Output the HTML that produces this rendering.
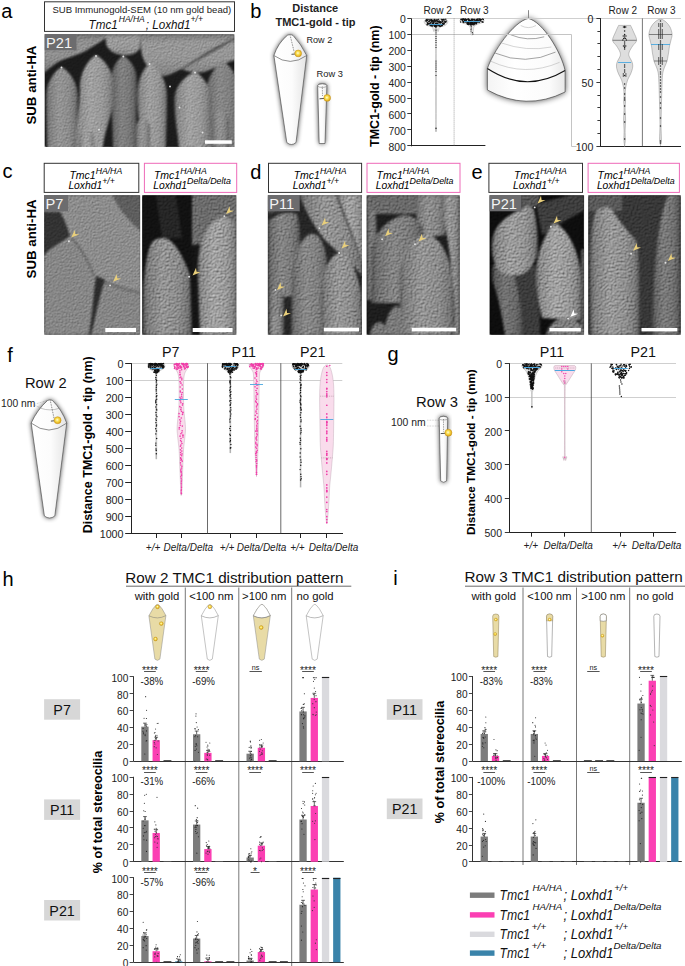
<!DOCTYPE html>
<html><head><meta charset="utf-8"><title>Figure</title>
<style>html,body{margin:0;padding:0;background:#fff;} body{width:685px;height:966px;overflow:hidden;font-family:"Liberation Sans", sans-serif;} svg{display:block;}</style>
</head><body>
<svg width="685" height="966" viewBox="0 0 685 966" font-family='"Liberation Sans", sans-serif'><defs>
<radialGradient id="goldg" cx="0.45" cy="0.45" r="0.6">
  <stop offset="0" stop-color="#fffbe0"/><stop offset="0.35" stop-color="#fbe35a"/><stop offset="0.8" stop-color="#e6b21e"/><stop offset="1" stop-color="#c98f12"/>
</radialGradient>
<filter id="shadow" x="-50%" y="-50%" width="200%" height="200%"><feGaussianBlur stdDeviation="2.8"/></filter>
<linearGradient id="conegrad" x1="0" y1="0" x2="1" y2="0"><stop offset="0" stop-color="#ffffff"/><stop offset="0.55" stop-color="#fcfcfc"/><stop offset="1" stop-color="#e4e4e4"/></linearGradient>
<linearGradient id="conegrad2" x1="0" y1="0" x2="1" y2="0"><stop offset="0" stop-color="#f4f4f4"/><stop offset="0.35" stop-color="#ffffff"/><stop offset="0.8" stop-color="#fbfbfb"/><stop offset="1" stop-color="#e8e8e8"/></linearGradient>
<filter id="shadow2" x="-50%" y="-50%" width="200%" height="200%"><feGaussianBlur stdDeviation="3.0"/></filter>
<filter id="soft" x="-10%" y="-10%" width="120%" height="120%"><feGaussianBlur stdDeviation="1.3"/></filter>
<filter id="noise" x="0" y="0" width="100%" height="100%"><feTurbulence type="fractalNoise" baseFrequency="0.9" numOctaves="2" seed="4"/><feColorMatrix type="matrix" values="0.33 0.33 0.33 0 0  0.33 0.33 0.33 0 0  0.33 0.33 0.33 0 0  0 0 0 0 1"/></filter>
<linearGradient id="sg0" x1="0" y1="0" x2="0" y2="1"><stop offset="0" stop-color="#737373"/><stop offset="0.2" stop-color="#929292"/><stop offset="0.6" stop-color="#909090"/><stop offset="1" stop-color="#7a7a7a"/></linearGradient><linearGradient id="sg1" x1="0" y1="0" x2="0" y2="1"><stop offset="0" stop-color="#7d7d7d"/><stop offset="0.2" stop-color="#9c9c9c"/><stop offset="0.6" stop-color="#9a9a9a"/><stop offset="1" stop-color="#848484"/></linearGradient><linearGradient id="sg2" x1="0" y1="0" x2="0" y2="1"><stop offset="0" stop-color="#797979"/><stop offset="0.2" stop-color="#989898"/><stop offset="0.6" stop-color="#969696"/><stop offset="1" stop-color="#808080"/></linearGradient><linearGradient id="sg3" x1="0" y1="0" x2="1" y2="0"><stop offset="0" stop-color="#4d4d4d"/><stop offset="0.1" stop-color="#717171"/><stop offset="0.4" stop-color="#898989"/><stop offset="0.72" stop-color="#7f7f7f"/><stop offset="0.9" stop-color="#6b6b6b"/><stop offset="1" stop-color="#4b4b4b"/></linearGradient><linearGradient id="sg4" x1="0" y1="0" x2="1" y2="0"><stop offset="0" stop-color="#464646"/><stop offset="0.1" stop-color="#6a6a6a"/><stop offset="0.4" stop-color="#828282"/><stop offset="0.72" stop-color="#787878"/><stop offset="0.9" stop-color="#646464"/><stop offset="1" stop-color="#444444"/></linearGradient><linearGradient id="sg5" x1="0" y1="0" x2="1" y2="0"><stop offset="0" stop-color="#5a5a5a"/><stop offset="0.1" stop-color="#7e7e7e"/><stop offset="0.4" stop-color="#969696"/><stop offset="0.72" stop-color="#8c8c8c"/><stop offset="0.9" stop-color="#787878"/><stop offset="1" stop-color="#585858"/></linearGradient><linearGradient id="sg6" x1="0" y1="0" x2="1" y2="0"><stop offset="0" stop-color="#666666"/><stop offset="0.1" stop-color="#8a8a8a"/><stop offset="0.4" stop-color="#a2a2a2"/><stop offset="0.72" stop-color="#989898"/><stop offset="0.9" stop-color="#848484"/><stop offset="1" stop-color="#646464"/></linearGradient><linearGradient id="sg7" x1="0" y1="0" x2="1" y2="0"><stop offset="0" stop-color="#646464"/><stop offset="0.1" stop-color="#888888"/><stop offset="0.4" stop-color="#a0a0a0"/><stop offset="0.72" stop-color="#969696"/><stop offset="0.9" stop-color="#828282"/><stop offset="1" stop-color="#626262"/></linearGradient><linearGradient id="sg8" x1="0" y1="0" x2="1" y2="0"><stop offset="0" stop-color="#575757"/><stop offset="0.1" stop-color="#7b7b7b"/><stop offset="0.4" stop-color="#939393"/><stop offset="0.72" stop-color="#898989"/><stop offset="0.9" stop-color="#757575"/><stop offset="1" stop-color="#555555"/></linearGradient><clipPath id="clip0"><rect x="44.5" y="34.0" width="190.0" height="113.0"/></clipPath><filter id="semfx0" x="44.5" y="34.0" width="190.0" height="113.0" filterUnits="userSpaceOnUse" color-interpolation-filters="sRGB"><feGaussianBlur in="SourceGraphic" stdDeviation="1.0" result="b"/><feTurbulence type="fractalNoise" baseFrequency="0.8" numOctaves="3" seed="3" result="n"/><feDiffuseLighting in="n" surfaceScale="0.55" diffuseConstant="1" lighting-color="#ffffff" result="lit"><feDistantLight azimuth="235" elevation="50"/></feDiffuseLighting><feComposite in="b" in2="lit" operator="arithmetic" k1="1.3" k2="0" k3="0" k4="0"/></filter><clipPath id="clip1"><rect x="44.0" y="195.0" width="96.2" height="140.0"/></clipPath><filter id="semfx1" x="44.0" y="195.0" width="96.2" height="140.0" filterUnits="userSpaceOnUse" color-interpolation-filters="sRGB"><feGaussianBlur in="SourceGraphic" stdDeviation="1.0" result="b"/><feTurbulence type="fractalNoise" baseFrequency="0.7" numOctaves="3" seed="5" result="n"/><feDiffuseLighting in="n" surfaceScale="0.6" diffuseConstant="1" lighting-color="#ffffff" result="lit"><feDistantLight azimuth="235" elevation="50"/></feDiffuseLighting><feComposite in="b" in2="lit" operator="arithmetic" k1="1.3" k2="0" k3="0" k4="0"/></filter><linearGradient id="sg9" x1="0" y1="0" x2="1" y2="0"><stop offset="0" stop-color="#686868"/><stop offset="0.1" stop-color="#8c8c8c"/><stop offset="0.4" stop-color="#a4a4a4"/><stop offset="0.72" stop-color="#9a9a9a"/><stop offset="0.9" stop-color="#868686"/><stop offset="1" stop-color="#666666"/></linearGradient><clipPath id="clip2"><rect x="142.0" y="195.0" width="94.5" height="140.0"/></clipPath><filter id="semfx2" x="142.0" y="195.0" width="94.5" height="140.0" filterUnits="userSpaceOnUse" color-interpolation-filters="sRGB"><feGaussianBlur in="SourceGraphic" stdDeviation="1.0" result="b"/><feTurbulence type="fractalNoise" baseFrequency="0.5" numOctaves="3" seed="7" result="n"/><feDiffuseLighting in="n" surfaceScale="0.8" diffuseConstant="1" lighting-color="#ffffff" result="lit"><feDistantLight azimuth="235" elevation="50"/></feDiffuseLighting><feComposite in="b" in2="lit" operator="arithmetic" k1="1.3" k2="0" k3="0" k4="0"/></filter><linearGradient id="sg10" x1="0" y1="0" x2="1" y2="0"><stop offset="0" stop-color="#4a4a4a"/><stop offset="0.1" stop-color="#6e6e6e"/><stop offset="0.4" stop-color="#868686"/><stop offset="0.72" stop-color="#7c7c7c"/><stop offset="0.9" stop-color="#686868"/><stop offset="1" stop-color="#484848"/></linearGradient><linearGradient id="sg11" x1="0" y1="0" x2="1" y2="0"><stop offset="0" stop-color="#4e4e4e"/><stop offset="0.1" stop-color="#727272"/><stop offset="0.4" stop-color="#8a8a8a"/><stop offset="0.72" stop-color="#808080"/><stop offset="0.9" stop-color="#6c6c6c"/><stop offset="1" stop-color="#4c4c4c"/></linearGradient><linearGradient id="sg12" x1="0" y1="0" x2="1" y2="0"><stop offset="0" stop-color="#5c5c5c"/><stop offset="0.1" stop-color="#808080"/><stop offset="0.4" stop-color="#989898"/><stop offset="0.72" stop-color="#8e8e8e"/><stop offset="0.9" stop-color="#7a7a7a"/><stop offset="1" stop-color="#5a5a5a"/></linearGradient><linearGradient id="sg13" x1="0" y1="0" x2="1" y2="0"><stop offset="0" stop-color="#4c4c4c"/><stop offset="0.1" stop-color="#707070"/><stop offset="0.4" stop-color="#888888"/><stop offset="0.72" stop-color="#7e7e7e"/><stop offset="0.9" stop-color="#6a6a6a"/><stop offset="1" stop-color="#4a4a4a"/></linearGradient><linearGradient id="sg14" x1="0" y1="0" x2="1" y2="0"><stop offset="0" stop-color="#565656"/><stop offset="0.1" stop-color="#7a7a7a"/><stop offset="0.4" stop-color="#929292"/><stop offset="0.72" stop-color="#888888"/><stop offset="0.9" stop-color="#747474"/><stop offset="1" stop-color="#545454"/></linearGradient><clipPath id="clip3"><rect x="267.7" y="195.0" width="94.3" height="140.0"/></clipPath><filter id="semfx3" x="267.7" y="195.0" width="94.3" height="140.0" filterUnits="userSpaceOnUse" color-interpolation-filters="sRGB"><feGaussianBlur in="SourceGraphic" stdDeviation="1.0" result="b"/><feTurbulence type="fractalNoise" baseFrequency="0.5" numOctaves="3" seed="9" result="n"/><feDiffuseLighting in="n" surfaceScale="0.8" diffuseConstant="1" lighting-color="#ffffff" result="lit"><feDistantLight azimuth="235" elevation="50"/></feDiffuseLighting><feComposite in="b" in2="lit" operator="arithmetic" k1="1.3" k2="0" k3="0" k4="0"/></filter><linearGradient id="sg15" x1="0" y1="0" x2="1" y2="0"><stop offset="0" stop-color="#404040"/><stop offset="0.1" stop-color="#646464"/><stop offset="0.4" stop-color="#7c7c7c"/><stop offset="0.72" stop-color="#727272"/><stop offset="0.9" stop-color="#5e5e5e"/><stop offset="1" stop-color="#3e3e3e"/></linearGradient><linearGradient id="sg16" x1="0" y1="0" x2="1" y2="0"><stop offset="0" stop-color="#545454"/><stop offset="0.1" stop-color="#787878"/><stop offset="0.4" stop-color="#909090"/><stop offset="0.72" stop-color="#868686"/><stop offset="0.9" stop-color="#727272"/><stop offset="1" stop-color="#525252"/></linearGradient><clipPath id="clip4"><rect x="366.4" y="195.0" width="93.6" height="140.0"/></clipPath><filter id="semfx4" x="366.4" y="195.0" width="93.6" height="140.0" filterUnits="userSpaceOnUse" color-interpolation-filters="sRGB"><feGaussianBlur in="SourceGraphic" stdDeviation="1.0" result="b"/><feTurbulence type="fractalNoise" baseFrequency="0.5" numOctaves="3" seed="11" result="n"/><feDiffuseLighting in="n" surfaceScale="0.8" diffuseConstant="1" lighting-color="#ffffff" result="lit"><feDistantLight azimuth="235" elevation="50"/></feDiffuseLighting><feComposite in="b" in2="lit" operator="arithmetic" k1="1.3" k2="0" k3="0" k4="0"/></filter><linearGradient id="sg17" x1="0" y1="0" x2="1" y2="0"><stop offset="0" stop-color="#383838"/><stop offset="0.1" stop-color="#5c5c5c"/><stop offset="0.4" stop-color="#747474"/><stop offset="0.72" stop-color="#6a6a6a"/><stop offset="0.9" stop-color="#565656"/><stop offset="1" stop-color="#363636"/></linearGradient><linearGradient id="sg18" x1="0" y1="0" x2="1" y2="0"><stop offset="0" stop-color="#626262"/><stop offset="0.1" stop-color="#868686"/><stop offset="0.4" stop-color="#9e9e9e"/><stop offset="0.72" stop-color="#949494"/><stop offset="0.9" stop-color="#808080"/><stop offset="1" stop-color="#606060"/></linearGradient><clipPath id="clip5"><rect x="489.4" y="195.0" width="94.7" height="140.0"/></clipPath><filter id="semfx5" x="489.4" y="195.0" width="94.7" height="140.0" filterUnits="userSpaceOnUse" color-interpolation-filters="sRGB"><feGaussianBlur in="SourceGraphic" stdDeviation="1.0" result="b"/><feTurbulence type="fractalNoise" baseFrequency="0.5" numOctaves="3" seed="13" result="n"/><feDiffuseLighting in="n" surfaceScale="0.8" diffuseConstant="1" lighting-color="#ffffff" result="lit"><feDistantLight azimuth="235" elevation="50"/></feDiffuseLighting><feComposite in="b" in2="lit" operator="arithmetic" k1="1.3" k2="0" k3="0" k4="0"/></filter><linearGradient id="sg19" x1="0" y1="0" x2="1" y2="0"><stop offset="0" stop-color="#5e5e5e"/><stop offset="0.1" stop-color="#828282"/><stop offset="0.4" stop-color="#9a9a9a"/><stop offset="0.72" stop-color="#909090"/><stop offset="0.9" stop-color="#7c7c7c"/><stop offset="1" stop-color="#5c5c5c"/></linearGradient><clipPath id="clip6"><rect x="588.1" y="195.0" width="92.9" height="140.0"/></clipPath><filter id="semfx6" x="588.1" y="195.0" width="92.9" height="140.0" filterUnits="userSpaceOnUse" color-interpolation-filters="sRGB"><feGaussianBlur in="SourceGraphic" stdDeviation="1.0" result="b"/><feTurbulence type="fractalNoise" baseFrequency="0.5" numOctaves="3" seed="15" result="n"/><feDiffuseLighting in="n" surfaceScale="0.8" diffuseConstant="1" lighting-color="#ffffff" result="lit"><feDistantLight azimuth="235" elevation="50"/></feDiffuseLighting><feComposite in="b" in2="lit" operator="arithmetic" k1="1.3" k2="0" k3="0" k4="0"/></filter></defs><rect x="0" y="0" width="685" height="966" fill="#fff"/><g clip-path="url(#clip0)">
<g filter="url(#semfx0)">
<rect x="44.5" y="34.0" width="190.0" height="113.0" fill="#1c1c1c"/>
<path d="M44,34 L109,34 L108.5,36.8 C104,40 96,44 86,50.8 C78,55 66,58 58,62 C52,66 47,70 44,73 Z" fill="url(#sg0)"/>
<path d="M106,34 L141,34 L140,48 C136,55 128,56 122,55 C114,54 108,50 106,44 Z" fill="url(#sg1)"/>
<path d="M141,34 L235,34 L235,60 C228,62 218,66 207,71 C198,74 188,72 181,69 C175,72 170,75 164,76 C156,74 150,70 146,64 C142,58 141,52 141,46 Z" fill="url(#sg2)"/>
<path d="M181,69 C192,62 205,52 222,44 C228,41 232,39 235,38 L235,40 C230,42 225,45 222,47 C207,55 193,63 182,70 Z" fill="#505050"/>
<path d="M223.0,61.0 C215.9,65.1 206.0,78.0 206.0,95.0 C206.0,119.8 208.0,133.5 208.0,150.0 L236.0,150.0 C236.0,133.5 240.0,119.8 240.0,95.0 C240.0,78.0 230.1,65.1 223.0,61.0 Z" fill="url(#sg3)"/>
<path d="M123.2,55.7 C118.1,58.6 111.0,67.8 111.0,80.0 C111.0,111.5 113.0,129.0 113.0,150.0 L136.0,150.0 C136.0,129.0 137.0,111.5 137.0,80.0 C137.0,67.8 129.0,58.6 123.2,55.7 Z" fill="url(#sg4)"/>
<path d="M61.5,67.0 C55.0,70.6 46.0,82.0 46.0,97.0 C46.0,120.8 47.0,134.1 47.0,150.0 L75.0,150.0 C75.0,134.1 78.0,120.8 78.0,97.0 C78.0,82.0 68.4,70.6 61.5,67.0 Z" fill="url(#sg5)"/>
<path d="M96.0,55.0 C89.3,58.8 80.0,71.0 80.0,87.0 C80.0,115.3 74.0,131.1 74.0,150.0 L103.0,150.0 C103.0,131.1 114.0,115.3 114.0,87.0 C114.0,71.0 103.6,58.8 96.0,55.0 Z" fill="url(#sg6)"/>
<path d="M149.6,63.2 C144.4,67.0 137.2,79.1 137.2,95.0 C137.2,119.8 142.0,133.5 142.0,150.0 L166.0,150.0 C166.0,133.5 167.0,119.8 167.0,95.0 C167.0,79.1 156.9,67.0 149.6,63.2 Z" fill="url(#sg7)"/>
<path d="M194.9,71.7 C186.3,75.1 174.4,85.8 174.4,100.0 C174.4,122.5 178.8,135.0 178.8,150.0 L209.4,150.0 C209.4,135.0 211.0,122.5 211.0,100.0 C211.0,85.8 201.7,75.1 194.9,71.7 Z" fill="url(#sg6)"/>
<path d="M79.7,150.0 L79.7,139.2 C79.7,132.8 82.5,129.3 86.8,129.3 C91.0,129.3 93.8,132.8 93.8,139.2 L93.8,150.0 Z" fill="url(#sg6)"/>
<path d="M136.0,150.0 L136.0,128.8 C136.0,122.5 138.8,119.0 143.0,119.0 C147.2,119.0 150.0,122.5 150.0,128.8 L150.0,150.0 Z" fill="url(#sg5)"/>
<path d="M212.0,150.0 L212.0,122.9 C212.0,115.2 215.4,111.0 220.5,111.0 C225.6,111.0 229.0,115.2 229.0,122.9 L229.0,150.0 Z" fill="url(#sg8)"/>
</g>
<circle cx="61.5" cy="67.5" r="0.95" fill="#e2e2e2"/>
<circle cx="96" cy="56" r="0.95" fill="#e2e2e2"/>
<circle cx="123.3" cy="56.5" r="0.95" fill="#e2e2e2"/>
<circle cx="149.6" cy="64" r="0.95" fill="#e2e2e2"/>
<circle cx="195" cy="72.5" r="0.95" fill="#e2e2e2"/>
<circle cx="179.5" cy="107.5" r="0.95" fill="#e2e2e2"/>
<circle cx="202.5" cy="132.5" r="0.95" fill="#e2e2e2"/>
<circle cx="99" cy="129.8" r="0.95" fill="#e2e2e2"/>
<circle cx="170" cy="86.5" r="0.95" fill="#e2e2e2"/>
<rect x="44.5" y="34.0" width="32.0" height="16.3" fill="#6c6c6e"/>
<text x="46.1" y="48.0" font-size="14.6" fill="#f4f4f4">P21</text>
<rect x="205.0" y="140.3" width="26.8" height="3.5" fill="#fff"/>
</g>
<g clip-path="url(#clip1)">
<g filter="url(#semfx1)">
<rect x="44.0" y="195.0" width="96.2" height="140.0" fill="#8a8a8a"/>
<path d="M44.0,195.0 L141.0,195.0 L141.0,335.0 L44.0,335.0 Z" fill="#8d8d8d"/>
<path d="M112,195 L141,195 L141,231 C134,226 127,218 120,209 Z" fill="#5e5e5e"/>
<path d="M44,211.7 L60,211.7 C64,218 67,226 70,236 C65,240 58,244 52,248 C48,251 46,253 44,256 Z" fill="#333333"/>
<path d="M95,276 C99,277 103,278 105,280 C103,290 101,302 98,313 C95,320 93,328 91,335 L89,335 C90,325 92,314 93,302 C94,292 94,284 95,276 Z" fill="#2c2c2c"/>
<path d="M44,256 C50,248 58,244 70,242 C80,243 90,258 96,276 C93,300 90,320 88,335 L44,335 Z" fill="#878787"/>
<path d="M104,282 C112,286 125,290 141,294 L141,335 L92,335 C95,315 99,300 104,282 Z" fill="#868686"/>
<path d="M71.5,237 C80,245 88,258 95,276 L94,277 C87,259 79,247 70.5,238 Z" fill="#606060"/>
<path d="M105,281 C115,285 128,289 141,292 L141,294 C128,291 115,287 104,283 Z" fill="#636363"/>
</g>
<circle cx="68.9" cy="241.2" r="0.95" fill="#e2e2e2"/>
<circle cx="110.1" cy="285.4" r="0.95" fill="#e2e2e2"/>
<path d="M71.2,237.6 L74.7,229.9 L75.3,234.0 L79.2,234.4 Z" fill="#e9cf7b"/>
<path d="M113.1,281.8 L116.6,274.1 L117.2,278.2 L121.1,278.6 Z" fill="#e9cf7b"/>
<rect x="44.0" y="195.0" width="24.0" height="16.3" fill="#6c6c6e"/>
<text x="45.6" y="209.0" font-size="14.6" fill="#f4f4f4">P7</text>
<rect x="105.3" y="328.0" width="30.7" height="4.0" fill="#fff"/>
</g>
<g clip-path="url(#clip2)">
<g filter="url(#semfx2)">
<rect x="142.0" y="195.0" width="94.5" height="140.0" fill="#151515"/>
<path d="M142.0,195.0 L192.0,195.0 L192.0,335.0 L142.0,335.0 Z" fill="#121212"/>
<path d="M156,195 L176,195 C178,210 180,225 182,238 L162,238 C160,225 158,210 156,195 Z" fill="#262626"/>
<path d="M192,195 L237,195 L237,240 L192,245 Z" fill="#6c6c6c"/>
<path d="M143,335 L143,290 C144,275 146,258 150,246 C153,238 162,237 168,239 C176,244 184,258 190,275 L192,335 Z" fill="url(#sg5)"/>
<path d="M200,335 L198,285 C197,265 198,250 202,240 C208,224 218,216 225,217 C232,218 237,224 237,232 L237,335 Z" fill="url(#sg9)"/>
</g>
<circle cx="224.3" cy="216.1" r="0.95" fill="#e2e2e2"/>
<circle cx="189.1" cy="276.7" r="0.95" fill="#e2e2e2"/>
<path d="M226.0,214.0 L229.5,206.3 L230.1,210.4 L234.0,210.8 Z" fill="#e9cf7b"/>
<path d="M192.5,275.4 L196.0,267.7 L196.6,271.8 L200.5,272.2 Z" fill="#e9cf7b"/>
<rect x="192.7" y="328.0" width="39.8" height="4.0" fill="#fff"/>
</g>
<g clip-path="url(#clip3)">
<g filter="url(#semfx3)">
<rect x="267.7" y="195.0" width="94.3" height="140.0" fill="#262626"/>
<path d="M267.7,195.0 L298.0,195.0 L296.0,208.0 L267.7,214.0 Z" fill="#4a4a4a"/>
<path d="M267.7,222 C275,214 288,211 297,214 C302,230 301,260 297,295 L267.7,300 Z" fill="url(#sg10)"/>
<path d="M299,195 L336,195 C342,212 352,235 362,262 L364,278 L351,263 C341,255 333,248 325,240 C315,228 306,212 299,195 Z" fill="url(#sg5)"/>
<path d="M337,195 L364,195 L364,268 C357,245 347,220 337,195 Z" fill="url(#sg6)"/>
<path d="M291,335 L292,275 C293,255 300,241 308,235 C312,232.5 316,233.5 320,238 C326,248 328,262 328,280 L327,335 Z" fill="url(#sg11)"/>
<path d="M321,335 L321,295 C322,275 327,262 334,255.5 C338,252.5 342,252.5 346,255.5 C354,264 358,278 361,292 L363,335 Z" fill="url(#sg12)"/>
<path d="M268.4,335.0 L268.4,299.4 C268.4,293.9 271.5,290.0 276.2,290.0 C280.9,290.0 284.0,293.9 284.0,299.4 L284.0,335.0 Z" fill="url(#sg13)"/>
<path d="M269.0,335.0 L269.0,323.4 C269.0,318.5 271.8,315.0 276.0,315.0 C280.2,315.0 283.0,318.5 283.0,323.4 L283.0,335.0 Z" fill="url(#sg14)"/>
</g>
<circle cx="319.4" cy="228.1" r="0.95" fill="#e2e2e2"/>
<circle cx="339.2" cy="253" r="0.95" fill="#e2e2e2"/>
<circle cx="275.5" cy="289.9" r="0.95" fill="#e2e2e2"/>
<circle cx="281.2" cy="315.4" r="0.95" fill="#e2e2e2"/>
<path d="M321.5,225.5 L325.0,217.8 L325.6,221.9 L329.5,222.3 Z" fill="#e9cf7b"/>
<path d="M341.5,248.5 L345.0,240.8 L345.6,244.9 L349.5,245.3 Z" fill="#e9cf7b"/>
<path d="M277.0,290.0 L280.5,282.3 L281.1,286.4 L285.0,286.8 Z" fill="#e9cf7b"/>
<path d="M283.0,316.5 L286.5,308.8 L287.1,312.9 L291.0,313.3 Z" fill="#e9cf7b"/>
<rect x="267.7" y="195.0" width="32.0" height="16.3" fill="#6c6c6e"/>
<text x="269.3" y="209.0" font-size="14.6" fill="#f4f4f4">P11</text>
<rect x="323.8" y="327.7" width="35.2" height="3.7" fill="#fff"/>
</g>
<g clip-path="url(#clip4)">
<g filter="url(#semfx4)">
<rect x="366.4" y="195.0" width="93.6" height="140.0" fill="#1e1e1e"/>
<path d="M366.4,195.0 L420.0,195.0 L420.0,214.0 L366.4,214.0 Z" fill="#6a6a6a"/>
<path d="M366.4,209 L376,209 L378,300 L366.4,300 Z" fill="url(#sg15)"/>
<path d="M415,195 L445,195 L446,235 L418,238 Z" fill="url(#sg16)"/>
<path d="M442,195 L460,195 L460,335 L455,335 C455,310 454,290 451,265 C449,245 446,228 442,212 Z" fill="url(#sg12)"/>
<path d="M371,303 L372,250 C373,234 385,222 400,216 C410,213 418,218 423,228 L424,290 L410,303 Z" fill="url(#sg10)"/>
<path d="M399,335 L400,275 C402,255 410,242 420,236 C428,233 436,236 442,246 C448,256 452,268 453,285 L455,335 Z" fill="url(#sg5)"/>
<path d="M384,335 C385,320 390,308 396,306 C402,306 404,315 404,335 Z" fill="#7a7a7a"/>
<path d="M370,335 C371,327 375,322 380,322 C385,323 386,328 386,335 Z" fill="#777777"/>
</g>
<circle cx="382.1" cy="239.2" r="0.95" fill="#e2e2e2"/>
<circle cx="415" cy="244.3" r="0.95" fill="#e2e2e2"/>
<path d="M385.0,236.3 L388.5,228.6 L389.1,232.7 L393.0,233.1 Z" fill="#e9cf7b"/>
<path d="M418.4,241.4 L421.9,233.7 L422.5,237.8 L426.4,238.2 Z" fill="#e9cf7b"/>
<rect x="411.7" y="327.7" width="44.5" height="3.7" fill="#fff"/>
</g>
<g clip-path="url(#clip5)">
<g filter="url(#semfx5)">
<rect x="489.4" y="195.0" width="94.7" height="140.0" fill="#0e0e0e"/>
<path d="M536.0,204.0 L570.0,195.0 L585.0,195.0 L585.0,210.0 L570.0,218.0 L542.0,235.0 Z" fill="#3e3e3e"/>
<path d="M520.0,195.0 L540.0,195.0 L538.0,205.0 L522.0,210.0 Z" fill="#555555"/>
<path d="M511,335 L509,300 C508,285 512,275 518,268 L535,265 C538,280 540,305 540,335 Z" fill="#3c3c3c"/>
<path d="M492,268 C494,262 500,258 506,260 C514,268 520,290 524,335 L505,335 C502,315 498,295 492,280 Z" fill="url(#sg17)"/>
<path d="M498,270 C493,262 491,252 492,242 C493,232 498,224 506,218 C513,213 520,209 526,206 C529,205 532,206 534,210 C537,222 539,240 537,255 C534,265 528,272 520,275 C512,276 504,275 498,270 Z" fill="url(#sg18)"/>
<path d="M552.5,224.5 C545,235 538,250 536,268 C535,285 538,300 542,318 L580,320 C582,300 582,285 580,268 C577,250 570,235 560,226 C557,223.5 554,223.5 552.5,224.5 Z" fill="url(#sg9)"/>
<path d="M581.0,250.0 L585.0,248.0 L585.0,335.0 L580.0,335.0 Z" fill="#555555"/>
<path d="M546,335 C548,325 556,318 566,318 C575,318 582,322 584,335 Z" fill="#7e7e7e"/>
</g>
<circle cx="534.7" cy="207.4" r="0.95" fill="#e2e2e2"/>
<circle cx="550.9" cy="226.7" r="0.95" fill="#e2e2e2"/>
<circle cx="568.1" cy="318.6" r="0.95" fill="#e2e2e2"/>
<path d="M537.5,203.5 L541.0,195.8 L541.6,199.9 L545.5,200.3 Z" fill="#e9cf7b"/>
<path d="M553.5,223.5 L557.0,215.8 L557.6,219.9 L561.5,220.3 Z" fill="#e9cf7b"/>
<path d="M570.2,317.0 L573.7,309.3 L574.3,313.4 L578.2,313.8 Z" fill="#ffffff"/>
<rect x="489.4" y="195.0" width="32.0" height="16.3" fill="#6c6c6e"/>
<text x="491.0" y="209.0" font-size="14.6" fill="#f4f4f4">P21</text>
<rect x="549.5" y="328.0" width="31.3" height="3.4" fill="#fff"/>
</g>
<g clip-path="url(#clip6)">
<g filter="url(#semfx6)">
<rect x="588.1" y="195.0" width="92.9" height="140.0" fill="#3c3c3c"/>
<path d="M588.1,195.0 L622.0,195.0 L622.0,211.0 L588.1,211.0 Z" fill="#5a5a5a"/>
<path d="M622.0,195.0 L668.0,195.0 L655.0,240.0 L650.0,335.0 L635.0,335.0 L634.0,260.0 L622.0,230.0 Z" fill="#383838"/>
<path d="M652,335 C652,300 655,260 659,230 C662,210 666,200 668,195 L681,195 L681,335 Z" fill="url(#sg15)"/>
<path d="M591,335 L590,260 C590,240 592,225 595,214 C597,208 600,207 602,209 C604,206 608,206 612,210 C620,222 628,232 636,240 C639,250 640,270 639,335 Z" fill="url(#sg19)"/>
</g>
<circle cx="631.1" cy="253.7" r="0.95" fill="#e2e2e2"/>
<circle cx="665.5" cy="262.7" r="0.95" fill="#e2e2e2"/>
<path d="M633.1,250.8 L636.6,243.1 L637.2,247.2 L641.1,247.6 Z" fill="#e9cf7b"/>
<path d="M667.9,261.0 L671.4,253.3 L672.0,257.4 L675.9,257.8 Z" fill="#e9cf7b"/>
<rect x="641.5" y="328.0" width="35.8" height="3.4" fill="#fff"/>
</g>
<text x="1.20" y="18.00" font-size="20">a</text>
<text x="250.20" y="17.50" font-size="20">b</text>
<text x="2.60" y="178.30" font-size="20">c</text>
<text x="250.20" y="178.50" font-size="20">d</text>
<text x="471.60" y="178.70" font-size="20">e</text>
<text x="7.20" y="361.60" font-size="20">f</text>
<text x="387.60" y="360.80" font-size="20">g</text>
<text x="2.60" y="585.70" font-size="20">h</text>
<text x="393.20" y="584.80" font-size="20">i</text>
<rect x="44.50" y="1.80" width="190.00" height="29.60" fill="#fff" stroke="#333" stroke-width="1"/>
<text x="141.80" y="13.10" font-size="9.56" text-anchor="middle" fill="#222">SUB Immunogold-SEM (10 nm gold bead)</text>
<text transform="translate(88.6,29.2) scale(0.972,1)" font-size="12" font-style="italic" fill="#111">Tmc1<tspan font-size="8.8" dx="1" dy="-7">HA/HA</tspan><tspan dx="1" dy="7">; Loxhd1</tspan><tspan font-size="8.8" dy="-7">+/+</tspan></text>
<text transform="translate(35.55,85.10) rotate(-90)" font-size="13.3" font-weight="bold" text-anchor="middle" fill="#000">SUB anti-HA</text>
<text transform="translate(35.55,238.90) rotate(-90)" font-size="13.3" font-weight="bold" text-anchor="middle" fill="#000">SUB anti-HA</text>
<rect x="44.20" y="163.30" width="94.60" height="29.10" fill="#fff" stroke="#333" stroke-width="1"/>
<text x="69.40" y="178.70" font-size="10.5" font-style="italic">Tmc1<tspan font-size="8.7" dy="-5">HA/HA</tspan></text>
<text x="68.40" y="188.70" font-size="10.3" font-style="italic">Loxhd1<tspan font-size="8.7" dy="-5">+/+</tspan></text>
<rect x="144.40" y="163.30" width="92.30" height="29.10" fill="#fff" stroke="#ee6ab8" stroke-width="1"/>
<text x="153.90" y="178.70" font-size="10.5" font-style="italic">Tmc1<tspan font-size="8.7" dy="-5">HA/HA</tspan></text>
<text x="153.20" y="188.70" font-size="10.3" font-style="italic">Loxhd1<tspan font-size="8.9" dy="-5">Delta/Delta</tspan></text>
<rect x="268.50" y="163.30" width="93.10" height="29.10" fill="#fff" stroke="#333" stroke-width="1"/>
<text x="293.70" y="178.70" font-size="10.5" font-style="italic">Tmc1<tspan font-size="8.7" dy="-5">HA/HA</tspan></text>
<text x="292.70" y="188.70" font-size="10.3" font-style="italic">Loxhd1<tspan font-size="8.7" dy="-5">+/+</tspan></text>
<rect x="367.00" y="163.30" width="93.00" height="29.10" fill="#fff" stroke="#ee6ab8" stroke-width="1"/>
<text x="376.50" y="178.70" font-size="10.5" font-style="italic">Tmc1<tspan font-size="8.7" dy="-5">HA/HA</tspan></text>
<text x="375.80" y="188.70" font-size="10.3" font-style="italic">Loxhd1<tspan font-size="8.9" dy="-5">Delta/Delta</tspan></text>
<rect x="488.90" y="163.30" width="93.60" height="29.10" fill="#fff" stroke="#333" stroke-width="1"/>
<text x="514.10" y="178.70" font-size="10.5" font-style="italic">Tmc1<tspan font-size="8.7" dy="-5">HA/HA</tspan></text>
<text x="513.10" y="188.70" font-size="10.3" font-style="italic">Loxhd1<tspan font-size="8.7" dy="-5">+/+</tspan></text>
<rect x="588.10" y="163.30" width="91.30" height="29.10" fill="#fff" stroke="#ee6ab8" stroke-width="1"/>
<text x="597.60" y="178.70" font-size="10.5" font-style="italic">Tmc1<tspan font-size="8.7" dy="-5">HA/HA</tspan></text>
<text x="596.90" y="188.70" font-size="10.3" font-style="italic">Loxhd1<tspan font-size="8.9" dy="-5">Delta/Delta</tspan></text>
<text x="315.20" y="12.30" font-size="11" font-weight="bold" text-anchor="middle" fill="#222">Distance</text>
<text x="315.50" y="25.90" font-size="11" font-weight="bold" text-anchor="middle" fill="#222">TMC1-gold - tip</text>
<text x="306.50" y="43.40" font-size="9.1" fill="#222">Row 2</text>
<text x="316.60" y="77.00" font-size="9.3" fill="#222">Row 3</text>
<path d="M273.9,55.5 Q278,43 287.5,35.2 Q290.5,33.6 293,35.4 Q301,44 306.7,55.5 L296,142.5 Q291.4,146.5 286.8,142.5 Z" fill="#000" stroke="none" stroke-width="1" filter="url(#shadow)" opacity="0.8"/>
<path d="M273.9,55.5 Q278,43 287.5,35.2 Q290.5,33.6 293,35.4 Q301,44 306.7,55.5 L296,142.5 Q291.4,146.5 286.8,142.5 Z" fill="url(#conegrad)" stroke="#444" stroke-width="0.6"/>
<path d="M273.9,55.5 Q290.3,67.3 306.7,55.5" fill="none" stroke="#444" stroke-width="0.6"/>
<line x1="290.20" y1="35.50" x2="294.30" y2="52.50" stroke="#333" stroke-width="0.7" stroke-dasharray="0.8 0.9"/>
<line x1="291.50" y1="54.30" x2="297.20" y2="53.80" stroke="#222" stroke-width="0.8"/>
<circle cx="298.20" cy="53.40" r="3.4" fill="url(#goldg)" stroke="#c9961a" stroke-width="0.5"/>
<path d="M317.7,85.6 L319.2,143.5 L325,143.5 L326.9,85.6 A4.6,1.9 0 0 0 317.7,85.6 Z" fill="#000" stroke="none" stroke-width="1" filter="url(#shadow)" opacity="0.8"/>
<path d="M317.7,85.6 L319.2,143.5 L325,143.5 L326.9,85.6 A4.6,1.9 0 0 0 317.7,85.6 Z" fill="url(#conegrad)" stroke="#444" stroke-width="0.6"/>
<ellipse cx="322.3" cy="85.6" rx="4.6" ry="1.9" fill="none" stroke="#777" stroke-width="0.5"/>
<line x1="322.30" y1="86.50" x2="322.50" y2="96.50" stroke="#333" stroke-width="0.6" stroke-dasharray="0.8 0.9"/>
<line x1="319.50" y1="98.80" x2="326.20" y2="98.30" stroke="#222" stroke-width="0.8"/>
<circle cx="327.20" cy="97.90" r="3.4" fill="url(#goldg)" stroke="#c9961a" stroke-width="0.5"/>
<path d="M487.4,68.5 C493,52 513,22 528.3,18.4 C543,22 561,52 565.1,70.5 L565.1,92 Q526,111.4 487.4,90 Z" fill="#000" stroke="none" stroke-width="1" filter="url(#shadow2)" opacity="0.75"/>
<path d="M487.4,68.5 C493,52 513,22 528.3,18.4 C543,22 561,52 565.1,70.5 L565.1,92 Q526,111.4 487.4,90 Z" fill="url(#conegrad2)" stroke="#333" stroke-width="0.6"/>
<line x1="528.50" y1="10.20" x2="528.50" y2="18.40" stroke="#888" stroke-width="1"/>
<path d="M520.7,25.5 Q528.4,29.7 536,25.5" fill="none" stroke="#aaa" stroke-width="0.5"/>
<path d="M510.5,34.7 Q527.4,41.8 544.2,36.8" fill="none" stroke="#666" stroke-width="0.6"/>
<path d="M501.3,42.9 Q526.4,52.0 551.4,47" fill="none" stroke="#aaa" stroke-width="0.5"/>
<path d="M495.2,53.1 Q525.4,66.0 555.5,52.1" fill="none" stroke="#666" stroke-width="0.6"/>
<path d="M491,61.3 Q525.3,77.2 559.6,62.3" fill="none" stroke="#aaa" stroke-width="0.5"/>
<path d="M487.4,68.5 Q526,93.9 565.1,70.5" fill="none" stroke="#111" stroke-width="1.1"/>
<line x1="411.30" y1="18.50" x2="681.00" y2="18.50" stroke="#cfcfcf" stroke-width="1"/>
<path d="M411.3,34.5 L571.5,34.5 L571.5,146.5 L576.5,146.5" fill="none" stroke="#c4c4c4" stroke-width="1"/>
<line x1="407.30" y1="18.50" x2="411.30" y2="18.50" stroke="#222" stroke-width="0.9"/>
<text x="405.80" y="23.10" font-size="10.4" text-anchor="end" fill="#222">0</text>
<line x1="407.30" y1="34.50" x2="411.30" y2="34.50" stroke="#222" stroke-width="0.9"/>
<text x="405.80" y="39.03" font-size="10.4" text-anchor="end" fill="#222">100</text>
<line x1="407.30" y1="50.50" x2="411.30" y2="50.50" stroke="#222" stroke-width="0.9"/>
<text x="405.80" y="54.95" font-size="10.4" text-anchor="end" fill="#222">200</text>
<line x1="407.30" y1="66.50" x2="411.30" y2="66.50" stroke="#222" stroke-width="0.9"/>
<text x="405.80" y="70.88" font-size="10.4" text-anchor="end" fill="#222">300</text>
<line x1="407.30" y1="82.50" x2="411.30" y2="82.50" stroke="#222" stroke-width="0.9"/>
<text x="405.80" y="86.80" font-size="10.4" text-anchor="end" fill="#222">400</text>
<line x1="407.30" y1="98.50" x2="411.30" y2="98.50" stroke="#222" stroke-width="0.9"/>
<text x="405.80" y="102.73" font-size="10.4" text-anchor="end" fill="#222">500</text>
<line x1="407.30" y1="113.50" x2="411.30" y2="113.50" stroke="#222" stroke-width="0.9"/>
<text x="405.80" y="118.65" font-size="10.4" text-anchor="end" fill="#222">600</text>
<line x1="407.30" y1="129.50" x2="411.30" y2="129.50" stroke="#222" stroke-width="0.9"/>
<text x="405.80" y="134.57" font-size="10.4" text-anchor="end" fill="#222">700</text>
<line x1="407.30" y1="145.50" x2="411.30" y2="145.50" stroke="#222" stroke-width="0.9"/>
<text x="405.80" y="150.50" font-size="10.4" text-anchor="end" fill="#222">800</text>
<line x1="411.50" y1="18.40" x2="411.50" y2="146.30" stroke="#222" stroke-width="1"/>
<line x1="411.30" y1="145.50" x2="485.40" y2="145.50" stroke="#222" stroke-width="1"/>
<line x1="454.10" y1="18.40" x2="454.10" y2="145.80" stroke="#777" stroke-width="0.7" stroke-dasharray="1 1"/>
<text transform="translate(379.38,86.20) rotate(-90)" font-size="12.5" font-weight="bold" text-anchor="middle" fill="#000">TMC1-gold - tip (nm)</text>
<text x="437.70" y="14.00" font-size="10.1" text-anchor="middle" fill="#222">Row 2</text>
<text x="474.30" y="14.00" font-size="10.1" text-anchor="middle" fill="#222">Row 3</text>
<path d="M428.00,19.00 C427.42,19.25 425.08,19.83 424.50,20.50 C423.92,21.17 424.08,22.17 424.50,23.00 C424.92,23.83 425.75,24.83 427.00,25.50 C428.25,26.17 431.00,26.42 432.00,27.00 C433.00,27.58 432.70,28.25 433.00,29.00 C433.30,29.75 433.40,30.83 433.80,31.50 C434.20,32.17 435.12,24.92 435.40,33.00 C435.68,41.08 435.47,64.17 435.50,80.00 C435.53,95.83 435.52,119.90 435.60,128.00 C435.68,136.10 435.93,128.50 436.00,128.60 C436.07,128.70 435.93,128.70 436.00,128.60 C436.07,128.50 436.32,136.10 436.40,128.00 C436.48,119.90 436.47,95.83 436.50,80.00 C436.53,64.17 436.32,41.08 436.60,33.00 C436.88,24.92 437.80,32.17 438.20,31.50 C438.60,30.83 438.70,29.75 439.00,29.00 C439.30,28.25 439.00,27.58 440.00,27.00 C441.00,26.42 443.75,26.17 445.00,25.50 C446.25,24.83 447.08,23.83 447.50,23.00 C447.92,22.17 448.08,21.17 447.50,20.50 C446.92,19.83 444.58,19.25 444.00,19.00 Z" fill="#e8e8e8" stroke="#999" stroke-width="0.4"/>
<circle cx="436.97" cy="20.46" r="0.70" fill="#111"/>
<circle cx="438.29" cy="21.36" r="0.70" fill="#111"/>
<circle cx="428.18" cy="23.38" r="0.70" fill="#111"/>
<circle cx="443.42" cy="19.33" r="0.70" fill="#111"/>
<circle cx="430.16" cy="20.60" r="0.70" fill="#111"/>
<circle cx="435.64" cy="26.76" r="0.70" fill="#111"/>
<circle cx="435.72" cy="25.25" r="0.70" fill="#111"/>
<circle cx="429.71" cy="23.49" r="0.70" fill="#111"/>
<circle cx="442.62" cy="23.45" r="0.70" fill="#111"/>
<circle cx="440.34" cy="22.53" r="0.70" fill="#111"/>
<circle cx="428.15" cy="23.77" r="0.70" fill="#111"/>
<circle cx="437.64" cy="24.53" r="0.70" fill="#111"/>
<circle cx="425.68" cy="20.88" r="0.70" fill="#111"/>
<circle cx="435.67" cy="25.52" r="0.70" fill="#111"/>
<circle cx="442.82" cy="24.18" r="0.70" fill="#111"/>
<circle cx="443.58" cy="24.14" r="0.70" fill="#111"/>
<circle cx="442.62" cy="21.54" r="0.70" fill="#111"/>
<circle cx="445.58" cy="21.91" r="0.70" fill="#111"/>
<circle cx="431.17" cy="25.64" r="0.70" fill="#111"/>
<circle cx="429.77" cy="19.86" r="0.70" fill="#111"/>
<circle cx="435.23" cy="26.47" r="0.70" fill="#111"/>
<circle cx="432.42" cy="23.39" r="0.70" fill="#111"/>
<circle cx="433.95" cy="22.40" r="0.70" fill="#111"/>
<circle cx="437.87" cy="21.22" r="0.70" fill="#111"/>
<circle cx="443.28" cy="23.03" r="0.70" fill="#111"/>
<circle cx="443.72" cy="23.86" r="0.70" fill="#111"/>
<circle cx="441.89" cy="25.43" r="0.70" fill="#111"/>
<circle cx="429.94" cy="23.77" r="0.70" fill="#111"/>
<circle cx="441.58" cy="25.47" r="0.70" fill="#111"/>
<circle cx="436.83" cy="25.88" r="0.70" fill="#111"/>
<circle cx="430.80" cy="24.14" r="0.70" fill="#111"/>
<circle cx="436.88" cy="25.20" r="0.70" fill="#111"/>
<circle cx="426.40" cy="20.77" r="0.70" fill="#111"/>
<circle cx="441.88" cy="25.41" r="0.70" fill="#111"/>
<circle cx="442.61" cy="19.62" r="0.70" fill="#111"/>
<circle cx="428.32" cy="21.66" r="0.70" fill="#111"/>
<circle cx="441.91" cy="20.83" r="0.70" fill="#111"/>
<circle cx="430.53" cy="25.58" r="0.70" fill="#111"/>
<circle cx="427.81" cy="23.28" r="0.70" fill="#111"/>
<circle cx="432.96" cy="24.18" r="0.70" fill="#111"/>
<circle cx="441.77" cy="25.66" r="0.70" fill="#111"/>
<circle cx="444.97" cy="22.39" r="0.70" fill="#111"/>
<circle cx="426.69" cy="20.93" r="0.70" fill="#111"/>
<circle cx="427.56" cy="23.16" r="0.70" fill="#111"/>
<circle cx="433.97" cy="20.21" r="0.70" fill="#111"/>
<circle cx="429.81" cy="23.25" r="0.70" fill="#111"/>
<circle cx="444.09" cy="19.42" r="0.70" fill="#111"/>
<circle cx="446.09" cy="20.96" r="0.70" fill="#111"/>
<circle cx="434.53" cy="25.81" r="0.70" fill="#111"/>
<circle cx="436.36" cy="22.04" r="0.70" fill="#111"/>
<circle cx="437.72" cy="23.53" r="0.70" fill="#111"/>
<circle cx="438.16" cy="22.82" r="0.70" fill="#111"/>
<circle cx="436.08" cy="26.23" r="0.70" fill="#111"/>
<circle cx="440.85" cy="21.81" r="0.70" fill="#111"/>
<circle cx="431.62" cy="20.46" r="0.70" fill="#111"/>
<circle cx="436.25" cy="26.58" r="0.70" fill="#111"/>
<circle cx="427.21" cy="22.73" r="0.70" fill="#111"/>
<circle cx="437.76" cy="21.69" r="0.70" fill="#111"/>
<circle cx="438.55" cy="19.35" r="0.70" fill="#111"/>
<circle cx="428.08" cy="23.43" r="0.70" fill="#111"/>
<circle cx="435.39" cy="23.39" r="0.70" fill="#111"/>
<circle cx="433.35" cy="23.84" r="0.70" fill="#111"/>
<circle cx="440.28" cy="24.08" r="0.70" fill="#111"/>
<circle cx="426.33" cy="19.35" r="0.70" fill="#111"/>
<circle cx="444.34" cy="23.81" r="0.70" fill="#111"/>
<circle cx="435.04" cy="20.54" r="0.70" fill="#111"/>
<circle cx="432.76" cy="23.10" r="0.70" fill="#111"/>
<circle cx="431.88" cy="21.32" r="0.70" fill="#111"/>
<circle cx="438.10" cy="21.35" r="0.70" fill="#111"/>
<circle cx="433.30" cy="20.87" r="0.70" fill="#111"/>
<circle cx="427.48" cy="24.66" r="0.70" fill="#111"/>
<circle cx="440.23" cy="22.91" r="0.70" fill="#111"/>
<circle cx="429.90" cy="20.94" r="0.70" fill="#111"/>
<circle cx="431.30" cy="24.95" r="0.70" fill="#111"/>
<circle cx="434.58" cy="20.15" r="0.70" fill="#111"/>
<circle cx="428.83" cy="24.00" r="0.70" fill="#111"/>
<circle cx="432.34" cy="21.02" r="0.70" fill="#111"/>
<circle cx="435.26" cy="25.22" r="0.70" fill="#111"/>
<circle cx="432.03" cy="25.42" r="0.70" fill="#111"/>
<circle cx="439.31" cy="21.12" r="0.70" fill="#111"/>
<circle cx="435.41" cy="25.70" r="0.70" fill="#111"/>
<circle cx="427.66" cy="20.38" r="0.70" fill="#111"/>
<circle cx="430.43" cy="22.58" r="0.70" fill="#111"/>
<circle cx="442.09" cy="24.97" r="0.70" fill="#111"/>
<circle cx="431.13" cy="20.13" r="0.70" fill="#111"/>
<circle cx="438.55" cy="24.98" r="0.70" fill="#111"/>
<circle cx="433.22" cy="24.97" r="0.70" fill="#111"/>
<circle cx="431.42" cy="19.83" r="0.70" fill="#111"/>
<circle cx="431.88" cy="24.86" r="0.70" fill="#111"/>
<circle cx="434.17" cy="21.19" r="0.70" fill="#111"/>
<circle cx="434.01" cy="21.73" r="0.70" fill="#111"/>
<circle cx="431.87" cy="26.04" r="0.70" fill="#111"/>
<circle cx="445.75" cy="19.31" r="0.70" fill="#111"/>
<circle cx="441.84" cy="25.65" r="0.70" fill="#111"/>
<circle cx="445.90" cy="21.84" r="0.70" fill="#111"/>
<circle cx="432.67" cy="26.10" r="0.70" fill="#111"/>
<circle cx="442.06" cy="24.42" r="0.70" fill="#111"/>
<circle cx="436.34" cy="23.70" r="0.70" fill="#111"/>
<circle cx="432.50" cy="20.79" r="0.70" fill="#111"/>
<circle cx="426.50" cy="20.39" r="0.70" fill="#111"/>
<circle cx="432.17" cy="23.07" r="0.70" fill="#111"/>
<circle cx="430.54" cy="25.00" r="0.70" fill="#111"/>
<circle cx="438.32" cy="25.87" r="0.70" fill="#111"/>
<circle cx="440.76" cy="26.07" r="0.70" fill="#111"/>
<circle cx="436.92" cy="25.84" r="0.70" fill="#111"/>
<circle cx="441.40" cy="19.33" r="0.70" fill="#111"/>
<circle cx="431.60" cy="20.06" r="0.70" fill="#111"/>
<circle cx="436.45" cy="23.69" r="0.70" fill="#111"/>
<circle cx="445.66" cy="21.68" r="0.70" fill="#111"/>
<circle cx="433.14" cy="23.26" r="0.70" fill="#111"/>
<circle cx="443.96" cy="20.55" r="0.70" fill="#111"/>
<circle cx="441.08" cy="22.17" r="0.70" fill="#111"/>
<circle cx="429.34" cy="21.23" r="0.70" fill="#111"/>
<circle cx="441.70" cy="22.62" r="0.70" fill="#111"/>
<circle cx="442.42" cy="20.06" r="0.70" fill="#111"/>
<circle cx="439.67" cy="26.05" r="0.70" fill="#111"/>
<circle cx="430.09" cy="25.13" r="0.70" fill="#111"/>
<circle cx="442.53" cy="23.40" r="0.70" fill="#111"/>
<circle cx="430.97" cy="19.45" r="0.70" fill="#111"/>
<circle cx="436.60" cy="20.66" r="0.70" fill="#111"/>
<circle cx="435.40" cy="21.75" r="0.70" fill="#111"/>
<circle cx="427.03" cy="24.70" r="0.70" fill="#111"/>
<circle cx="427.79" cy="19.47" r="0.70" fill="#111"/>
<circle cx="426.51" cy="19.80" r="0.70" fill="#111"/>
<circle cx="440.25" cy="26.55" r="0.70" fill="#111"/>
<circle cx="436.05" cy="19.61" r="0.70" fill="#111"/>
<circle cx="431.92" cy="20.98" r="0.70" fill="#111"/>
<circle cx="439.23" cy="21.22" r="0.70" fill="#111"/>
<circle cx="433.50" cy="23.05" r="0.70" fill="#111"/>
<circle cx="432.23" cy="20.17" r="0.70" fill="#111"/>
<circle cx="437.22" cy="19.80" r="0.70" fill="#111"/>
<circle cx="433.84" cy="24.16" r="0.70" fill="#111"/>
<circle cx="428.93" cy="19.58" r="0.70" fill="#111"/>
<circle cx="438.30" cy="21.38" r="0.70" fill="#111"/>
<circle cx="433.84" cy="24.75" r="0.70" fill="#111"/>
<circle cx="438.21" cy="24.92" r="0.70" fill="#111"/>
<circle cx="433.19" cy="21.82" r="0.70" fill="#111"/>
<circle cx="439.65" cy="22.32" r="0.70" fill="#111"/>
<circle cx="440.27" cy="21.73" r="0.70" fill="#111"/>
<circle cx="431.41" cy="22.04" r="0.70" fill="#111"/>
<circle cx="439.51" cy="22.63" r="0.70" fill="#111"/>
<circle cx="434.35" cy="19.54" r="0.70" fill="#111"/>
<circle cx="444.35" cy="21.77" r="0.70" fill="#111"/>
<circle cx="434.49" cy="26.19" r="0.70" fill="#111"/>
<circle cx="439.49" cy="25.82" r="0.70" fill="#111"/>
<circle cx="435.21" cy="20.62" r="0.70" fill="#111"/>
<circle cx="442.89" cy="19.79" r="0.70" fill="#111"/>
<circle cx="442.97" cy="23.69" r="0.70" fill="#111"/>
<circle cx="439.02" cy="24.84" r="0.70" fill="#111"/>
<circle cx="437.15" cy="24.31" r="0.70" fill="#111"/>
<circle cx="436.00" cy="27.50" r="0.60" fill="#111"/>
<circle cx="436.00" cy="29.00" r="0.60" fill="#111"/>
<circle cx="436.00" cy="30.50" r="0.60" fill="#111"/>
<circle cx="436.00" cy="32.00" r="0.60" fill="#111"/>
<circle cx="436.00" cy="34.00" r="0.60" fill="#111"/>
<circle cx="436.00" cy="36.50" r="0.60" fill="#111"/>
<circle cx="436.00" cy="38.50" r="0.60" fill="#111"/>
<circle cx="436.00" cy="40.50" r="0.60" fill="#111"/>
<circle cx="436.00" cy="42.50" r="0.60" fill="#111"/>
<circle cx="436.00" cy="45.00" r="0.60" fill="#111"/>
<circle cx="436.00" cy="47.50" r="0.60" fill="#111"/>
<circle cx="436.00" cy="61.00" r="0.60" fill="#111"/>
<circle cx="436.00" cy="63.00" r="0.60" fill="#111"/>
<circle cx="436.00" cy="65.00" r="0.60" fill="#111"/>
<circle cx="436.00" cy="67.00" r="0.60" fill="#111"/>
<circle cx="436.00" cy="69.00" r="0.60" fill="#111"/>
<circle cx="436.00" cy="71.50" r="0.60" fill="#111"/>
<circle cx="436.00" cy="75.50" r="0.60" fill="#111"/>
<line x1="429.50" y1="24.50" x2="442.50" y2="24.50" stroke="#4aa8e0" stroke-width="0.9"/>
<circle cx="436.00" cy="128.30" r="0.70" fill="#111"/>
<path d="M462.00,18.80 C461.67,19.00 460.17,19.42 460.00,20.00 C459.83,20.58 459.83,21.55 461.00,22.30 C462.17,23.05 465.58,23.88 467.00,24.50 C468.42,25.12 468.92,25.25 469.50,26.00 C470.08,26.75 470.25,27.58 470.50,29.00 C470.75,30.42 470.75,33.57 471.00,34.50 C471.25,35.43 471.83,34.58 472.00,34.60 C472.17,34.62 471.83,34.62 472.00,34.60 C472.17,34.58 472.75,35.43 473.00,34.50 C473.25,33.57 473.25,30.42 473.50,29.00 C473.75,27.58 473.92,26.75 474.50,26.00 C475.08,25.25 475.58,25.12 477.00,24.50 C478.42,23.88 481.83,23.05 483.00,22.30 C484.17,21.55 484.17,20.58 484.00,20.00 C483.83,19.42 482.33,19.00 482.00,18.80 Z" fill="#e8e8e8" stroke="#999" stroke-width="0.4"/>
<circle cx="474.02" cy="19.31" r="0.70" fill="#111"/>
<circle cx="463.80" cy="19.01" r="0.70" fill="#111"/>
<circle cx="467.44" cy="23.30" r="0.70" fill="#111"/>
<circle cx="462.78" cy="19.27" r="0.70" fill="#111"/>
<circle cx="468.79" cy="24.08" r="0.70" fill="#111"/>
<circle cx="479.86" cy="19.05" r="0.70" fill="#111"/>
<circle cx="479.91" cy="19.39" r="0.70" fill="#111"/>
<circle cx="475.36" cy="22.59" r="0.70" fill="#111"/>
<circle cx="472.79" cy="24.63" r="0.70" fill="#111"/>
<circle cx="467.36" cy="23.48" r="0.70" fill="#111"/>
<circle cx="472.11" cy="23.25" r="0.70" fill="#111"/>
<circle cx="468.07" cy="22.88" r="0.70" fill="#111"/>
<circle cx="476.35" cy="23.12" r="0.70" fill="#111"/>
<circle cx="467.96" cy="19.16" r="0.70" fill="#111"/>
<circle cx="479.55" cy="21.85" r="0.70" fill="#111"/>
<circle cx="464.63" cy="19.95" r="0.70" fill="#111"/>
<circle cx="474.67" cy="19.99" r="0.70" fill="#111"/>
<circle cx="470.94" cy="23.15" r="0.70" fill="#111"/>
<circle cx="469.62" cy="20.63" r="0.70" fill="#111"/>
<circle cx="470.12" cy="20.53" r="0.70" fill="#111"/>
<circle cx="472.01" cy="19.24" r="0.70" fill="#111"/>
<circle cx="471.13" cy="24.79" r="0.70" fill="#111"/>
<circle cx="468.61" cy="23.11" r="0.70" fill="#111"/>
<circle cx="474.56" cy="22.71" r="0.70" fill="#111"/>
<circle cx="472.17" cy="22.59" r="0.70" fill="#111"/>
<circle cx="475.29" cy="21.33" r="0.70" fill="#111"/>
<circle cx="468.49" cy="24.21" r="0.70" fill="#111"/>
<circle cx="477.71" cy="19.28" r="0.70" fill="#111"/>
<circle cx="472.17" cy="24.36" r="0.70" fill="#111"/>
<circle cx="477.03" cy="21.08" r="0.70" fill="#111"/>
<circle cx="466.65" cy="19.67" r="0.70" fill="#111"/>
<circle cx="473.97" cy="19.74" r="0.70" fill="#111"/>
<circle cx="465.84" cy="20.34" r="0.70" fill="#111"/>
<circle cx="476.53" cy="22.71" r="0.70" fill="#111"/>
<circle cx="476.72" cy="20.23" r="0.70" fill="#111"/>
<circle cx="480.13" cy="20.90" r="0.70" fill="#111"/>
<circle cx="466.64" cy="21.99" r="0.70" fill="#111"/>
<circle cx="461.03" cy="19.83" r="0.70" fill="#111"/>
<circle cx="469.30" cy="21.31" r="0.70" fill="#111"/>
<circle cx="468.79" cy="19.61" r="0.70" fill="#111"/>
<circle cx="478.31" cy="20.38" r="0.70" fill="#111"/>
<circle cx="483.30" cy="19.48" r="0.70" fill="#111"/>
<circle cx="474.28" cy="21.31" r="0.70" fill="#111"/>
<circle cx="479.70" cy="21.24" r="0.70" fill="#111"/>
<circle cx="472.57" cy="23.65" r="0.70" fill="#111"/>
<circle cx="477.08" cy="21.32" r="0.70" fill="#111"/>
<circle cx="471.00" cy="23.91" r="0.70" fill="#111"/>
<circle cx="476.60" cy="23.01" r="0.70" fill="#111"/>
<circle cx="465.78" cy="21.23" r="0.70" fill="#111"/>
<circle cx="477.01" cy="19.91" r="0.70" fill="#111"/>
<circle cx="476.59" cy="22.60" r="0.70" fill="#111"/>
<circle cx="469.42" cy="23.89" r="0.70" fill="#111"/>
<circle cx="466.45" cy="19.69" r="0.70" fill="#111"/>
<circle cx="476.71" cy="19.68" r="0.70" fill="#111"/>
<circle cx="476.00" cy="23.92" r="0.70" fill="#111"/>
<circle cx="480.40" cy="20.02" r="0.70" fill="#111"/>
<circle cx="470.24" cy="20.33" r="0.70" fill="#111"/>
<circle cx="467.86" cy="22.98" r="0.70" fill="#111"/>
<circle cx="479.68" cy="19.27" r="0.70" fill="#111"/>
<circle cx="468.70" cy="20.21" r="0.70" fill="#111"/>
<circle cx="476.04" cy="21.96" r="0.70" fill="#111"/>
<circle cx="468.20" cy="19.01" r="0.70" fill="#111"/>
<circle cx="471.68" cy="21.04" r="0.70" fill="#111"/>
<circle cx="473.96" cy="19.79" r="0.70" fill="#111"/>
<circle cx="470.91" cy="24.65" r="0.70" fill="#111"/>
<circle cx="463.24" cy="21.72" r="0.70" fill="#111"/>
<circle cx="475.80" cy="20.12" r="0.70" fill="#111"/>
<circle cx="480.91" cy="19.35" r="0.70" fill="#111"/>
<circle cx="467.97" cy="24.30" r="0.70" fill="#111"/>
<circle cx="470.74" cy="24.55" r="0.70" fill="#111"/>
<circle cx="474.57" cy="23.29" r="0.70" fill="#111"/>
<circle cx="476.05" cy="20.23" r="0.70" fill="#111"/>
<circle cx="479.04" cy="22.46" r="0.70" fill="#111"/>
<circle cx="477.85" cy="20.07" r="0.70" fill="#111"/>
<circle cx="473.73" cy="24.70" r="0.70" fill="#111"/>
<circle cx="463.11" cy="21.67" r="0.70" fill="#111"/>
<circle cx="468.60" cy="21.40" r="0.70" fill="#111"/>
<circle cx="473.79" cy="22.90" r="0.70" fill="#111"/>
<circle cx="464.69" cy="21.87" r="0.70" fill="#111"/>
<circle cx="475.01" cy="22.40" r="0.70" fill="#111"/>
<circle cx="480.97" cy="19.64" r="0.70" fill="#111"/>
<circle cx="463.33" cy="22.46" r="0.70" fill="#111"/>
<circle cx="468.41" cy="24.47" r="0.70" fill="#111"/>
<circle cx="477.07" cy="20.43" r="0.70" fill="#111"/>
<circle cx="473.26" cy="22.07" r="0.70" fill="#111"/>
<circle cx="471.03" cy="22.41" r="0.70" fill="#111"/>
<circle cx="464.56" cy="20.32" r="0.70" fill="#111"/>
<circle cx="476.96" cy="19.18" r="0.70" fill="#111"/>
<circle cx="472.43" cy="23.16" r="0.70" fill="#111"/>
<circle cx="470.59" cy="23.05" r="0.70" fill="#111"/>
<circle cx="469.32" cy="20.07" r="0.70" fill="#111"/>
<circle cx="467.42" cy="24.03" r="0.70" fill="#111"/>
<circle cx="466.19" cy="21.47" r="0.70" fill="#111"/>
<circle cx="470.54" cy="23.26" r="0.70" fill="#111"/>
<circle cx="469.78" cy="20.44" r="0.70" fill="#111"/>
<circle cx="478.25" cy="21.70" r="0.70" fill="#111"/>
<circle cx="479.98" cy="20.55" r="0.70" fill="#111"/>
<circle cx="466.72" cy="19.35" r="0.70" fill="#111"/>
<circle cx="463.09" cy="19.30" r="0.70" fill="#111"/>
<circle cx="474.27" cy="23.34" r="0.70" fill="#111"/>
<circle cx="464.85" cy="19.67" r="0.70" fill="#111"/>
<circle cx="477.60" cy="20.92" r="0.70" fill="#111"/>
<circle cx="474.49" cy="23.60" r="0.70" fill="#111"/>
<circle cx="463.87" cy="22.03" r="0.70" fill="#111"/>
<circle cx="464.95" cy="20.81" r="0.70" fill="#111"/>
<circle cx="473.57" cy="21.61" r="0.70" fill="#111"/>
<circle cx="466.25" cy="19.75" r="0.70" fill="#111"/>
<circle cx="467.30" cy="23.36" r="0.70" fill="#111"/>
<circle cx="475.91" cy="23.51" r="0.70" fill="#111"/>
<circle cx="470.83" cy="24.61" r="0.70" fill="#111"/>
<circle cx="473.91" cy="21.78" r="0.70" fill="#111"/>
<circle cx="482.97" cy="22.32" r="0.70" fill="#111"/>
<circle cx="469.99" cy="22.68" r="0.70" fill="#111"/>
<circle cx="471.84" cy="23.93" r="0.70" fill="#111"/>
<circle cx="477.22" cy="22.10" r="0.70" fill="#111"/>
<circle cx="478.22" cy="19.00" r="0.70" fill="#111"/>
<circle cx="471.92" cy="22.51" r="0.70" fill="#111"/>
<circle cx="471.09" cy="21.59" r="0.70" fill="#111"/>
<circle cx="472.68" cy="19.71" r="0.70" fill="#111"/>
<circle cx="472.01" cy="19.08" r="0.70" fill="#111"/>
<circle cx="470.72" cy="22.40" r="0.70" fill="#111"/>
<circle cx="482.56" cy="21.86" r="0.70" fill="#111"/>
<circle cx="468.36" cy="24.17" r="0.70" fill="#111"/>
<circle cx="473.23" cy="23.43" r="0.70" fill="#111"/>
<circle cx="468.78" cy="19.12" r="0.70" fill="#111"/>
<circle cx="462.29" cy="19.91" r="0.70" fill="#111"/>
<circle cx="481.89" cy="21.69" r="0.70" fill="#111"/>
<circle cx="480.52" cy="20.38" r="0.70" fill="#111"/>
<circle cx="468.34" cy="22.74" r="0.70" fill="#111"/>
<circle cx="473.01" cy="23.92" r="0.70" fill="#111"/>
<circle cx="474.16" cy="24.44" r="0.70" fill="#111"/>
<circle cx="470.44" cy="23.05" r="0.70" fill="#111"/>
<circle cx="476.32" cy="23.54" r="0.70" fill="#111"/>
<circle cx="471.37" cy="23.94" r="0.70" fill="#111"/>
<circle cx="471.85" cy="23.18" r="0.70" fill="#111"/>
<circle cx="461.48" cy="19.34" r="0.70" fill="#111"/>
<circle cx="465.11" cy="19.22" r="0.70" fill="#111"/>
<circle cx="471.93" cy="19.56" r="0.70" fill="#111"/>
<circle cx="472.37" cy="22.77" r="0.70" fill="#111"/>
<circle cx="475.43" cy="20.96" r="0.70" fill="#111"/>
<circle cx="471.18" cy="20.28" r="0.70" fill="#111"/>
<circle cx="471.01" cy="23.18" r="0.70" fill="#111"/>
<circle cx="481.19" cy="19.65" r="0.70" fill="#111"/>
<circle cx="470.67" cy="22.91" r="0.70" fill="#111"/>
<circle cx="472.67" cy="20.65" r="0.70" fill="#111"/>
<circle cx="465.65" cy="22.06" r="0.70" fill="#111"/>
<circle cx="465.31" cy="19.00" r="0.70" fill="#111"/>
<circle cx="468.43" cy="23.37" r="0.70" fill="#111"/>
<circle cx="464.99" cy="21.19" r="0.70" fill="#111"/>
<circle cx="464.43" cy="19.79" r="0.70" fill="#111"/>
<circle cx="464.37" cy="20.85" r="0.70" fill="#111"/>
<circle cx="463.03" cy="19.06" r="0.70" fill="#111"/>
<circle cx="471.78" cy="19.59" r="0.70" fill="#111"/>
<circle cx="461.02" cy="19.15" r="0.70" fill="#111"/>
<circle cx="469.88" cy="21.11" r="0.70" fill="#111"/>
<circle cx="467.51" cy="22.80" r="0.70" fill="#111"/>
<circle cx="469.62" cy="20.84" r="0.70" fill="#111"/>
<circle cx="482.71" cy="19.05" r="0.70" fill="#111"/>
<circle cx="462.67" cy="19.83" r="0.70" fill="#111"/>
<circle cx="464.29" cy="21.28" r="0.70" fill="#111"/>
<circle cx="468.47" cy="22.24" r="0.70" fill="#111"/>
<circle cx="461.69" cy="19.40" r="0.70" fill="#111"/>
<circle cx="469.75" cy="22.97" r="0.70" fill="#111"/>
<circle cx="471.65" cy="23.40" r="0.70" fill="#111"/>
<circle cx="470.01" cy="24.48" r="0.70" fill="#111"/>
<circle cx="466.61" cy="19.99" r="0.70" fill="#111"/>
<circle cx="473.29" cy="23.60" r="0.70" fill="#111"/>
<circle cx="462.66" cy="20.50" r="0.70" fill="#111"/>
<circle cx="476.69" cy="22.65" r="0.70" fill="#111"/>
<circle cx="460.58" cy="22.04" r="0.70" fill="#111"/>
<circle cx="471.06" cy="25.00" r="0.60" fill="#111"/>
<circle cx="471.18" cy="26.50" r="0.60" fill="#111"/>
<circle cx="471.34" cy="28.00" r="0.60" fill="#111"/>
<circle cx="471.07" cy="29.50" r="0.60" fill="#111"/>
<circle cx="471.11" cy="31.00" r="0.60" fill="#111"/>
<circle cx="472.31" cy="32.50" r="0.60" fill="#111"/>
<circle cx="472.80" cy="34.00" r="0.60" fill="#111"/>
<line x1="464.00" y1="21.50" x2="480.00" y2="21.50" stroke="#4aa8e0" stroke-width="0.9"/>
<line x1="596.40" y1="18.50" x2="600.90" y2="18.50" stroke="#222" stroke-width="0.9"/>
<line x1="597.40" y1="31.50" x2="600.90" y2="31.50" stroke="#222" stroke-width="0.9"/>
<line x1="597.40" y1="43.50" x2="600.90" y2="43.50" stroke="#222" stroke-width="0.9"/>
<line x1="597.40" y1="56.50" x2="600.90" y2="56.50" stroke="#222" stroke-width="0.9"/>
<line x1="597.40" y1="69.50" x2="600.90" y2="69.50" stroke="#222" stroke-width="0.9"/>
<line x1="596.40" y1="82.50" x2="600.90" y2="82.50" stroke="#222" stroke-width="0.9"/>
<line x1="597.40" y1="95.50" x2="600.90" y2="95.50" stroke="#222" stroke-width="0.9"/>
<line x1="597.40" y1="107.50" x2="600.90" y2="107.50" stroke="#222" stroke-width="0.9"/>
<line x1="597.40" y1="120.50" x2="600.90" y2="120.50" stroke="#222" stroke-width="0.9"/>
<line x1="597.40" y1="133.50" x2="600.90" y2="133.50" stroke="#222" stroke-width="0.9"/>
<line x1="596.40" y1="146.50" x2="600.90" y2="146.50" stroke="#222" stroke-width="0.9"/>
<text x="593.40" y="23.30" font-size="10.6" text-anchor="end" fill="#222">0</text>
<text x="593.40" y="87.25" font-size="10.6" text-anchor="end" fill="#222">50</text>
<text x="593.40" y="151.20" font-size="10.6" text-anchor="end" fill="#222">100</text>
<line x1="600.50" y1="18.40" x2="600.50" y2="146.80" stroke="#222" stroke-width="1"/>
<line x1="600.90" y1="146.50" x2="681.00" y2="146.50" stroke="#222" stroke-width="1"/>
<line x1="642.40" y1="18.40" x2="642.40" y2="146.30" stroke="#555" stroke-width="0.8"/>
<text x="622.80" y="13.70" font-size="10.0" text-anchor="middle" fill="#222">Row 2</text>
<text x="661.40" y="13.70" font-size="10.0" text-anchor="middle" fill="#222">Row 3</text>
<path d="M618.60,25.40 C618.10,26.50 616.60,29.52 615.60,32.00 C614.60,34.48 612.43,37.97 612.60,40.30 C612.77,42.63 615.37,44.05 616.60,46.00 C617.83,47.95 619.40,50.33 620.00,52.00 C620.60,53.67 620.52,54.67 620.20,56.00 C619.88,57.33 618.70,58.67 618.10,60.00 C617.50,61.33 616.83,62.62 616.60,64.00 C616.37,65.38 616.37,66.63 616.70,68.30 C617.03,69.97 617.78,72.05 618.60,74.00 C619.42,75.95 620.78,77.73 621.60,80.00 C622.42,82.27 623.10,85.10 623.50,87.60 C623.90,90.10 623.97,92.60 624.00,95.00 C624.03,97.40 623.68,99.83 623.70,102.00 C623.72,104.17 624.12,105.00 624.10,108.00 C624.08,111.00 623.60,116.33 623.60,120.00 C623.60,123.67 624.05,126.67 624.10,130.00 C624.15,133.33 623.82,137.33 623.90,140.00 C623.98,142.67 624.48,145.00 624.60,146.00 C624.72,147.00 624.48,147.00 624.60,146.00 C624.72,145.00 625.22,142.67 625.30,140.00 C625.38,137.33 625.05,133.33 625.10,130.00 C625.15,126.67 625.60,123.67 625.60,120.00 C625.60,116.33 625.12,111.00 625.10,108.00 C625.08,105.00 625.48,104.17 625.50,102.00 C625.52,99.83 625.17,97.40 625.20,95.00 C625.23,92.60 625.30,90.10 625.70,87.60 C626.10,85.10 626.78,82.27 627.60,80.00 C628.42,77.73 629.78,75.95 630.60,74.00 C631.42,72.05 632.17,69.97 632.50,68.30 C632.83,66.63 632.83,65.38 632.60,64.00 C632.37,62.62 631.70,61.33 631.10,60.00 C630.50,58.67 629.32,57.33 629.00,56.00 C628.68,54.67 628.60,53.67 629.20,52.00 C629.80,50.33 631.37,47.95 632.60,46.00 C633.83,44.05 636.43,42.63 636.60,40.30 C636.77,37.97 634.60,34.48 633.60,32.00 C632.60,29.52 631.10,26.50 630.60,25.40 Z" fill="#dedede" stroke="#8a8a8a" stroke-width="0.5"/>
<line x1="612.60" y1="40.30" x2="636.60" y2="40.30" stroke="#555" stroke-width="0.7"/>
<line x1="618.10" y1="62.50" x2="631.10" y2="62.50" stroke="#4aa8e0" stroke-width="0.9"/>
<circle cx="624.60" cy="26.50" r="0.75" fill="#222"/>
<circle cx="624.60" cy="27.50" r="0.75" fill="#222"/>
<circle cx="624.60" cy="31.00" r="0.75" fill="#222"/>
<circle cx="624.60" cy="34.50" r="0.75" fill="#222"/>
<circle cx="624.60" cy="36.00" r="0.75" fill="#222"/>
<circle cx="624.60" cy="38.00" r="0.75" fill="#222"/>
<circle cx="624.60" cy="42.00" r="0.75" fill="#222"/>
<circle cx="624.60" cy="44.00" r="0.75" fill="#222"/>
<circle cx="624.60" cy="46.00" r="0.75" fill="#222"/>
<circle cx="624.60" cy="47.50" r="0.75" fill="#222"/>
<circle cx="624.60" cy="49.00" r="0.75" fill="#222"/>
<circle cx="624.60" cy="65.00" r="0.75" fill="#222"/>
<circle cx="624.60" cy="67.00" r="0.75" fill="#222"/>
<circle cx="624.60" cy="70.00" r="0.75" fill="#222"/>
<circle cx="624.60" cy="72.00" r="0.75" fill="#222"/>
<circle cx="624.60" cy="75.50" r="0.75" fill="#222"/>
<circle cx="624.60" cy="84.00" r="0.75" fill="#222"/>
<circle cx="624.60" cy="88.00" r="0.75" fill="#222"/>
<circle cx="624.60" cy="94.00" r="0.75" fill="#222"/>
<circle cx="624.60" cy="98.00" r="0.75" fill="#222"/>
<circle cx="624.60" cy="100.00" r="0.75" fill="#222"/>
<circle cx="624.60" cy="106.00" r="0.75" fill="#222"/>
<circle cx="624.60" cy="114.00" r="0.75" fill="#222"/>
<circle cx="624.60" cy="122.00" r="0.75" fill="#222"/>
<circle cx="624.60" cy="139.00" r="0.75" fill="#222"/>
<circle cx="623.20" cy="36.00" r="0.65" fill="#222"/>
<circle cx="626.00" cy="36.00" r="0.65" fill="#222"/>
<circle cx="622.80" cy="40.00" r="0.65" fill="#222"/>
<circle cx="626.40" cy="40.00" r="0.65" fill="#222"/>
<circle cx="623.40" cy="46.00" r="0.65" fill="#222"/>
<circle cx="625.80" cy="46.00" r="0.65" fill="#222"/>
<circle cx="623.30" cy="74.00" r="0.65" fill="#222"/>
<circle cx="625.90" cy="74.00" r="0.65" fill="#222"/>
<circle cx="623.30" cy="76.00" r="0.65" fill="#222"/>
<circle cx="625.90" cy="76.00" r="0.65" fill="#222"/>
<circle cx="623.40" cy="27.00" r="0.65" fill="#222"/>
<circle cx="625.80" cy="27.00" r="0.65" fill="#222"/>
<circle cx="623.60" cy="38.50" r="0.65" fill="#222"/>
<circle cx="625.60" cy="38.50" r="0.65" fill="#222"/>
<path d="M659.00,19.30 C658.33,19.75 656.33,20.72 655.00,22.00 C653.67,23.28 652.02,24.97 651.00,27.00 C649.98,29.03 649.07,32.03 648.90,34.20 C648.73,36.37 649.57,38.03 650.00,40.00 C650.43,41.97 651.12,44.00 651.50,46.00 C651.88,48.00 652.05,50.33 652.30,52.00 C652.55,53.67 652.72,54.45 653.00,56.00 C653.28,57.55 653.50,59.63 654.00,61.30 C654.50,62.97 655.42,64.55 656.00,66.00 C656.58,67.45 657.08,68.45 657.50,70.00 C657.92,71.55 658.25,72.80 658.50,75.30 C658.75,77.80 658.87,81.72 659.00,85.00 C659.13,88.28 659.18,90.83 659.30,95.00 C659.42,99.17 659.58,105.00 659.70,110.00 C659.82,115.00 660.02,120.00 660.00,125.00 C659.98,130.00 659.52,136.67 659.60,140.00 C659.68,143.33 660.35,144.17 660.50,145.00 C660.65,145.83 660.35,145.83 660.50,145.00 C660.65,144.17 661.32,143.33 661.40,140.00 C661.48,136.67 661.02,130.00 661.00,125.00 C660.98,120.00 661.18,115.00 661.30,110.00 C661.42,105.00 661.58,99.17 661.70,95.00 C661.82,90.83 661.87,88.28 662.00,85.00 C662.13,81.72 662.25,77.80 662.50,75.30 C662.75,72.80 663.08,71.55 663.50,70.00 C663.92,68.45 664.42,67.45 665.00,66.00 C665.58,64.55 666.50,62.97 667.00,61.30 C667.50,59.63 667.72,57.55 668.00,56.00 C668.28,54.45 668.45,53.67 668.70,52.00 C668.95,50.33 669.12,48.00 669.50,46.00 C669.88,44.00 670.57,41.97 671.00,40.00 C671.43,38.03 672.27,36.37 672.10,34.20 C671.93,32.03 671.02,29.03 670.00,27.00 C668.98,24.97 667.33,23.28 666.00,22.00 C664.67,20.72 662.67,19.75 662.00,19.30 Z" fill="#dedede" stroke="#8a8a8a" stroke-width="0.5"/>
<line x1="649.00" y1="34.50" x2="672.00" y2="34.50" stroke="#555" stroke-width="0.7"/>
<line x1="651.00" y1="44.50" x2="670.00" y2="44.50" stroke="#4aa8e0" stroke-width="0.9"/>
<line x1="654.00" y1="61.00" x2="667.00" y2="61.00" stroke="#555" stroke-width="0.7"/>
<circle cx="660.50" cy="21.00" r="0.72" fill="#222"/>
<circle cx="660.50" cy="24.00" r="0.72" fill="#222"/>
<circle cx="660.50" cy="26.00" r="0.72" fill="#222"/>
<circle cx="660.50" cy="28.00" r="0.72" fill="#222"/>
<circle cx="660.50" cy="30.00" r="0.72" fill="#222"/>
<circle cx="660.50" cy="32.00" r="0.72" fill="#222"/>
<circle cx="660.50" cy="34.00" r="0.72" fill="#222"/>
<circle cx="660.50" cy="36.00" r="0.72" fill="#222"/>
<circle cx="660.50" cy="38.00" r="0.72" fill="#222"/>
<circle cx="660.50" cy="41.00" r="0.72" fill="#222"/>
<circle cx="660.50" cy="43.00" r="0.72" fill="#222"/>
<circle cx="660.50" cy="45.00" r="0.72" fill="#222"/>
<circle cx="660.50" cy="47.00" r="0.72" fill="#222"/>
<circle cx="660.50" cy="49.00" r="0.72" fill="#222"/>
<circle cx="660.50" cy="51.00" r="0.72" fill="#222"/>
<circle cx="660.50" cy="53.00" r="0.72" fill="#222"/>
<circle cx="660.50" cy="55.00" r="0.72" fill="#222"/>
<circle cx="660.50" cy="57.00" r="0.72" fill="#222"/>
<circle cx="660.50" cy="59.00" r="0.72" fill="#222"/>
<circle cx="660.50" cy="61.00" r="0.72" fill="#222"/>
<circle cx="660.50" cy="63.00" r="0.72" fill="#222"/>
<circle cx="660.50" cy="66.00" r="0.72" fill="#222"/>
<circle cx="660.50" cy="69.00" r="0.72" fill="#222"/>
<circle cx="660.50" cy="72.00" r="0.72" fill="#222"/>
<circle cx="660.50" cy="74.00" r="0.72" fill="#222"/>
<circle cx="660.50" cy="77.00" r="0.72" fill="#222"/>
<circle cx="660.50" cy="80.00" r="0.72" fill="#222"/>
<circle cx="660.50" cy="83.00" r="0.72" fill="#222"/>
<circle cx="660.50" cy="86.00" r="0.72" fill="#222"/>
<circle cx="660.50" cy="89.00" r="0.72" fill="#222"/>
<circle cx="660.50" cy="92.00" r="0.72" fill="#222"/>
<circle cx="660.50" cy="97.00" r="0.72" fill="#222"/>
<circle cx="660.50" cy="103.00" r="0.72" fill="#222"/>
<circle cx="660.50" cy="108.00" r="0.72" fill="#222"/>
<circle cx="660.50" cy="118.00" r="0.72" fill="#222"/>
<circle cx="660.50" cy="126.00" r="0.72" fill="#222"/>
<circle cx="660.50" cy="141.00" r="0.72" fill="#222"/>
<circle cx="660.50" cy="143.00" r="0.72" fill="#222"/>
<circle cx="658.70" cy="30.00" r="0.65" fill="#222"/>
<circle cx="662.30" cy="30.00" r="0.65" fill="#222"/>
<circle cx="658.70" cy="32.00" r="0.65" fill="#222"/>
<circle cx="662.30" cy="32.00" r="0.65" fill="#222"/>
<circle cx="658.70" cy="34.00" r="0.65" fill="#222"/>
<circle cx="662.30" cy="34.00" r="0.65" fill="#222"/>
<circle cx="658.70" cy="36.00" r="0.65" fill="#222"/>
<circle cx="662.30" cy="36.00" r="0.65" fill="#222"/>
<circle cx="658.70" cy="38.00" r="0.65" fill="#222"/>
<circle cx="662.30" cy="38.00" r="0.65" fill="#222"/>
<circle cx="658.70" cy="45.00" r="0.65" fill="#222"/>
<circle cx="662.30" cy="45.00" r="0.65" fill="#222"/>
<circle cx="658.70" cy="47.00" r="0.65" fill="#222"/>
<circle cx="662.30" cy="47.00" r="0.65" fill="#222"/>
<circle cx="658.70" cy="49.00" r="0.65" fill="#222"/>
<circle cx="662.30" cy="49.00" r="0.65" fill="#222"/>
<circle cx="658.70" cy="58.00" r="0.65" fill="#222"/>
<circle cx="662.30" cy="58.00" r="0.65" fill="#222"/>
<circle cx="658.70" cy="60.00" r="0.65" fill="#222"/>
<circle cx="662.30" cy="60.00" r="0.65" fill="#222"/>
<circle cx="658.70" cy="62.00" r="0.65" fill="#222"/>
<circle cx="662.30" cy="62.00" r="0.65" fill="#222"/>
<circle cx="658.70" cy="64.00" r="0.65" fill="#222"/>
<circle cx="662.30" cy="64.00" r="0.65" fill="#222"/>
<circle cx="658.70" cy="24.00" r="0.65" fill="#222"/>
<circle cx="662.30" cy="24.00" r="0.65" fill="#222"/>
<circle cx="658.70" cy="26.00" r="0.65" fill="#222"/>
<circle cx="662.30" cy="26.00" r="0.65" fill="#222"/>
<text x="25.00" y="388.30" font-size="14.7" fill="#111">Row 2</text>
<text x="1.00" y="407.20" font-size="10.3" fill="#222">100 nm</text>
<line x1="35.50" y1="404.00" x2="47.00" y2="400.50" stroke="#999" stroke-width="0.5" stroke-dasharray="0.8 0.8"/>
<line x1="35.50" y1="405.50" x2="41.00" y2="408.20" stroke="#999" stroke-width="0.5" stroke-dasharray="0.8 0.8"/>
<path d="M31.2,423.1 Q37,410 47.5,400.5 Q50,399 52.5,400.5 Q62,410 66.7,423.1 L54.8,516 Q49.6,520 44.4,516 Z" fill="#000" stroke="none" stroke-width="1" filter="url(#shadow)" opacity="0.8"/>
<path d="M31.2,423.1 Q37,410 47.5,400.5 Q50,399 52.5,400.5 Q62,410 66.7,423.1 L54.8,516 Q49.6,520 44.4,516 Z" fill="url(#conegrad)" stroke="#444" stroke-width="0.6"/>
<path d="M31.2,423.1 Q49,437 66.7,423.1" fill="none" stroke="#444" stroke-width="0.6"/>
<path d="M41,408.3 Q50,411.5 59.2,408.3" fill="none" stroke="#888" stroke-width="0.5"/>
<line x1="50.30" y1="400.50" x2="54.30" y2="419.50" stroke="#333" stroke-width="0.7" stroke-dasharray="0.8 0.9"/>
<line x1="50.90" y1="421.10" x2="56.60" y2="420.60" stroke="#222" stroke-width="0.8"/>
<circle cx="57.60" cy="420.20" r="3.5" fill="url(#goldg)" stroke="#c9961a" stroke-width="0.5"/>
<line x1="131.70" y1="363.50" x2="342.30" y2="363.50" stroke="#cfcfcf" stroke-width="1"/>
<line x1="131.70" y1="380.50" x2="342.30" y2="380.50" stroke="#cfcfcf" stroke-width="1"/>
<line x1="125.20" y1="363.50" x2="131.70" y2="363.50" stroke="#222" stroke-width="1"/>
<text x="123.50" y="368.00" font-size="10.7" text-anchor="end" fill="#222">0</text>
<line x1="125.20" y1="380.50" x2="131.70" y2="380.50" stroke="#222" stroke-width="1"/>
<text x="123.50" y="385.03" font-size="10.7" text-anchor="end" fill="#222">100</text>
<line x1="125.20" y1="397.50" x2="131.70" y2="397.50" stroke="#222" stroke-width="1"/>
<text x="123.50" y="402.06" font-size="10.7" text-anchor="end" fill="#222">200</text>
<line x1="125.20" y1="414.50" x2="131.70" y2="414.50" stroke="#222" stroke-width="1"/>
<text x="123.50" y="419.09" font-size="10.7" text-anchor="end" fill="#222">300</text>
<line x1="125.20" y1="431.50" x2="131.70" y2="431.50" stroke="#222" stroke-width="1"/>
<text x="123.50" y="436.12" font-size="10.7" text-anchor="end" fill="#222">400</text>
<line x1="125.20" y1="448.50" x2="131.70" y2="448.50" stroke="#222" stroke-width="1"/>
<text x="123.50" y="453.15" font-size="10.7" text-anchor="end" fill="#222">500</text>
<line x1="125.20" y1="465.50" x2="131.70" y2="465.50" stroke="#222" stroke-width="1"/>
<text x="123.50" y="470.18" font-size="10.7" text-anchor="end" fill="#222">600</text>
<line x1="125.20" y1="482.50" x2="131.70" y2="482.50" stroke="#222" stroke-width="1"/>
<text x="123.50" y="487.21" font-size="10.7" text-anchor="end" fill="#222">700</text>
<line x1="125.20" y1="499.50" x2="131.70" y2="499.50" stroke="#222" stroke-width="1"/>
<text x="123.50" y="504.24" font-size="10.7" text-anchor="end" fill="#222">800</text>
<line x1="125.20" y1="516.50" x2="131.70" y2="516.50" stroke="#222" stroke-width="1"/>
<text x="123.50" y="521.27" font-size="10.7" text-anchor="end" fill="#222">900</text>
<line x1="125.20" y1="533.50" x2="131.70" y2="533.50" stroke="#222" stroke-width="1"/>
<text x="123.50" y="538.30" font-size="10.7" text-anchor="end" fill="#222">1000</text>
<line x1="131.50" y1="363.20" x2="131.50" y2="534.00" stroke="#222" stroke-width="1"/>
<line x1="131.70" y1="533.50" x2="343.00" y2="533.50" stroke="#222" stroke-width="1"/>
<line x1="207.50" y1="363.20" x2="207.50" y2="533.50" stroke="#444" stroke-width="0.8"/>
<line x1="280.80" y1="363.20" x2="280.80" y2="533.50" stroke="#444" stroke-width="0.8"/>
<text transform="translate(91.67,444.80) rotate(-90)" font-size="12.5" font-weight="bold" text-anchor="middle" fill="#000">Distance TMC1-gold - tip (nm)</text>
<text x="170.80" y="357.20" font-size="14.3" text-anchor="middle" fill="#111">P7</text>
<text x="243.80" y="357.20" font-size="14.3" text-anchor="middle" fill="#111">P11</text>
<text x="312.70" y="357.20" font-size="14.3" text-anchor="middle" fill="#111">P21</text>
<line x1="156.50" y1="533.50" x2="156.50" y2="538.00" stroke="#222" stroke-width="1"/>
<line x1="181.50" y1="533.50" x2="181.50" y2="538.00" stroke="#222" stroke-width="1"/>
<line x1="230.50" y1="533.50" x2="230.50" y2="538.00" stroke="#222" stroke-width="1"/>
<line x1="256.50" y1="533.50" x2="256.50" y2="538.00" stroke="#222" stroke-width="1"/>
<line x1="300.50" y1="533.50" x2="300.50" y2="538.00" stroke="#222" stroke-width="1"/>
<line x1="326.50" y1="533.50" x2="326.50" y2="538.00" stroke="#222" stroke-width="1"/>
<text x="153.10" y="550.60" font-size="10.0" font-style="italic" text-anchor="middle" fill="#222">+/+</text>
<text x="227.10" y="550.60" font-size="10.0" font-style="italic" text-anchor="middle" fill="#222">+/+</text>
<text x="297.40" y="550.60" font-size="10.0" font-style="italic" text-anchor="middle" fill="#222">+/+</text>
<text x="188.30" y="550.60" font-size="10.0" font-style="italic" text-anchor="middle" fill="#222">Delta/Delta</text>
<text x="261.50" y="550.60" font-size="10.0" font-style="italic" text-anchor="middle" fill="#222">Delta/Delta</text>
<text x="333.50" y="550.60" font-size="10.0" font-style="italic" text-anchor="middle" fill="#222">Delta/Delta</text>
<path d="M149.30,363.50 C149.05,363.75 147.97,364.25 147.80,365.00 C147.63,365.75 147.72,367.17 148.30,368.00 C148.88,368.83 150.30,369.33 151.30,370.00 C152.30,370.67 153.63,371.33 154.30,372.00 C154.97,372.67 155.05,373.33 155.30,374.00 C155.55,374.67 155.70,362.78 155.80,376.00 C155.90,389.22 155.82,440.33 155.90,453.30 C155.98,466.27 156.23,453.72 156.30,453.80 C156.37,453.88 156.23,453.88 156.30,453.80 C156.37,453.72 156.62,466.27 156.70,453.30 C156.78,440.33 156.70,389.22 156.80,376.00 C156.90,362.78 157.05,374.67 157.30,374.00 C157.55,373.33 157.63,372.67 158.30,372.00 C158.97,371.33 160.30,370.67 161.30,370.00 C162.30,369.33 163.72,368.83 164.30,368.00 C164.88,367.17 164.97,365.75 164.80,365.00 C164.63,364.25 163.55,363.75 163.30,363.50 Z" fill="#e0e0e0" stroke="#999" stroke-width="0.4"/>
<circle cx="150.71" cy="365.08" r="0.75" fill="#111"/>
<circle cx="151.17" cy="368.13" r="0.75" fill="#111"/>
<circle cx="154.15" cy="366.92" r="0.75" fill="#111"/>
<circle cx="156.42" cy="363.69" r="0.75" fill="#111"/>
<circle cx="155.24" cy="363.65" r="0.75" fill="#111"/>
<circle cx="149.75" cy="363.73" r="0.75" fill="#111"/>
<circle cx="161.53" cy="365.88" r="0.75" fill="#111"/>
<circle cx="151.87" cy="363.92" r="0.75" fill="#111"/>
<circle cx="163.46" cy="367.87" r="0.75" fill="#111"/>
<circle cx="154.65" cy="367.33" r="0.75" fill="#111"/>
<circle cx="154.03" cy="372.26" r="0.75" fill="#111"/>
<circle cx="155.25" cy="370.65" r="0.75" fill="#111"/>
<circle cx="150.18" cy="364.01" r="0.75" fill="#111"/>
<circle cx="161.36" cy="364.97" r="0.75" fill="#111"/>
<circle cx="157.61" cy="364.18" r="0.75" fill="#111"/>
<circle cx="154.26" cy="367.99" r="0.75" fill="#111"/>
<circle cx="149.30" cy="367.04" r="0.75" fill="#111"/>
<circle cx="151.60" cy="363.70" r="0.75" fill="#111"/>
<circle cx="155.43" cy="368.46" r="0.75" fill="#111"/>
<circle cx="157.67" cy="365.01" r="0.75" fill="#111"/>
<circle cx="153.10" cy="366.14" r="0.75" fill="#111"/>
<circle cx="158.69" cy="369.83" r="0.75" fill="#111"/>
<circle cx="157.49" cy="364.54" r="0.75" fill="#111"/>
<circle cx="162.30" cy="366.81" r="0.75" fill="#111"/>
<circle cx="153.76" cy="369.03" r="0.75" fill="#111"/>
<circle cx="154.39" cy="372.32" r="0.75" fill="#111"/>
<circle cx="160.41" cy="365.83" r="0.75" fill="#111"/>
<circle cx="156.12" cy="364.04" r="0.75" fill="#111"/>
<circle cx="158.99" cy="363.65" r="0.75" fill="#111"/>
<circle cx="157.18" cy="369.46" r="0.75" fill="#111"/>
<circle cx="155.37" cy="370.88" r="0.75" fill="#111"/>
<circle cx="157.43" cy="368.63" r="0.75" fill="#111"/>
<circle cx="155.60" cy="367.36" r="0.75" fill="#111"/>
<circle cx="158.52" cy="370.41" r="0.75" fill="#111"/>
<circle cx="158.93" cy="366.33" r="0.75" fill="#111"/>
<circle cx="159.52" cy="363.70" r="0.75" fill="#111"/>
<circle cx="162.22" cy="368.09" r="0.75" fill="#111"/>
<circle cx="155.22" cy="370.18" r="0.75" fill="#111"/>
<circle cx="159.00" cy="365.56" r="0.75" fill="#111"/>
<circle cx="155.69" cy="363.62" r="0.75" fill="#111"/>
<circle cx="150.17" cy="364.12" r="0.75" fill="#111"/>
<circle cx="160.59" cy="363.70" r="0.75" fill="#111"/>
<circle cx="152.26" cy="363.94" r="0.75" fill="#111"/>
<circle cx="162.24" cy="365.60" r="0.75" fill="#111"/>
<circle cx="155.49" cy="363.76" r="0.75" fill="#111"/>
<circle cx="162.43" cy="367.05" r="0.75" fill="#111"/>
<circle cx="158.12" cy="370.14" r="0.75" fill="#111"/>
<circle cx="154.94" cy="364.76" r="0.75" fill="#111"/>
<circle cx="162.45" cy="365.35" r="0.75" fill="#111"/>
<circle cx="154.55" cy="372.00" r="0.75" fill="#111"/>
<circle cx="152.01" cy="364.16" r="0.75" fill="#111"/>
<circle cx="156.06" cy="364.48" r="0.75" fill="#111"/>
<circle cx="152.50" cy="367.46" r="0.75" fill="#111"/>
<circle cx="155.00" cy="363.60" r="0.75" fill="#111"/>
<circle cx="157.36" cy="365.43" r="0.75" fill="#111"/>
<circle cx="157.25" cy="371.93" r="0.75" fill="#111"/>
<circle cx="158.18" cy="366.72" r="0.75" fill="#111"/>
<circle cx="150.95" cy="368.41" r="0.75" fill="#111"/>
<circle cx="157.70" cy="371.20" r="0.75" fill="#111"/>
<circle cx="157.79" cy="370.86" r="0.75" fill="#111"/>
<circle cx="154.68" cy="365.61" r="0.75" fill="#111"/>
<circle cx="158.45" cy="363.84" r="0.75" fill="#111"/>
<circle cx="149.38" cy="363.71" r="0.75" fill="#111"/>
<circle cx="150.90" cy="364.33" r="0.75" fill="#111"/>
<circle cx="149.14" cy="365.20" r="0.75" fill="#111"/>
<circle cx="150.72" cy="363.60" r="0.75" fill="#111"/>
<circle cx="154.12" cy="363.83" r="0.75" fill="#111"/>
<circle cx="162.29" cy="363.63" r="0.75" fill="#111"/>
<circle cx="150.68" cy="367.72" r="0.75" fill="#111"/>
<circle cx="153.86" cy="364.59" r="0.75" fill="#111"/>
<circle cx="150.27" cy="365.39" r="0.75" fill="#111"/>
<circle cx="158.77" cy="370.53" r="0.75" fill="#111"/>
<circle cx="156.04" cy="366.25" r="0.75" fill="#111"/>
<circle cx="149.94" cy="363.78" r="0.75" fill="#111"/>
<circle cx="152.54" cy="365.22" r="0.75" fill="#111"/>
<circle cx="154.61" cy="370.27" r="0.75" fill="#111"/>
<circle cx="163.52" cy="363.62" r="0.75" fill="#111"/>
<circle cx="150.65" cy="366.84" r="0.75" fill="#111"/>
<circle cx="148.73" cy="366.99" r="0.75" fill="#111"/>
<circle cx="163.96" cy="366.84" r="0.75" fill="#111"/>
<circle cx="157.28" cy="370.71" r="0.75" fill="#111"/>
<circle cx="154.17" cy="364.65" r="0.75" fill="#111"/>
<circle cx="160.65" cy="364.11" r="0.75" fill="#111"/>
<circle cx="160.76" cy="366.88" r="0.75" fill="#111"/>
<circle cx="151.87" cy="365.12" r="0.75" fill="#111"/>
<circle cx="158.72" cy="370.04" r="0.75" fill="#111"/>
<circle cx="157.83" cy="370.57" r="0.75" fill="#111"/>
<circle cx="157.50" cy="370.13" r="0.75" fill="#111"/>
<circle cx="156.58" cy="364.44" r="0.75" fill="#111"/>
<circle cx="148.76" cy="365.32" r="0.75" fill="#111"/>
<circle cx="152.77" cy="363.63" r="0.75" fill="#111"/>
<circle cx="159.38" cy="364.64" r="0.75" fill="#111"/>
<circle cx="156.04" cy="371.98" r="0.75" fill="#111"/>
<circle cx="158.74" cy="371.71" r="0.75" fill="#111"/>
<circle cx="155.62" cy="371.96" r="0.75" fill="#111"/>
<circle cx="151.93" cy="364.40" r="0.75" fill="#111"/>
<circle cx="151.57" cy="364.27" r="0.75" fill="#111"/>
<circle cx="162.70" cy="367.83" r="0.75" fill="#111"/>
<circle cx="156.20" cy="370.41" r="0.75" fill="#111"/>
<circle cx="159.90" cy="368.15" r="0.75" fill="#111"/>
<circle cx="158.87" cy="363.77" r="0.75" fill="#111"/>
<circle cx="157.71" cy="371.34" r="0.75" fill="#111"/>
<circle cx="156.04" cy="369.28" r="0.75" fill="#111"/>
<circle cx="160.93" cy="364.17" r="0.75" fill="#111"/>
<circle cx="161.11" cy="365.15" r="0.75" fill="#111"/>
<circle cx="155.78" cy="372.20" r="0.75" fill="#111"/>
<circle cx="163.45" cy="365.69" r="0.75" fill="#111"/>
<circle cx="152.34" cy="368.98" r="0.75" fill="#111"/>
<circle cx="150.72" cy="363.93" r="0.75" fill="#111"/>
<circle cx="157.83" cy="371.27" r="0.75" fill="#111"/>
<circle cx="161.52" cy="364.01" r="0.75" fill="#111"/>
<circle cx="157.09" cy="372.32" r="0.75" fill="#111"/>
<circle cx="157.08" cy="365.28" r="0.75" fill="#111"/>
<circle cx="148.53" cy="363.95" r="0.75" fill="#111"/>
<circle cx="157.05" cy="372.18" r="0.75" fill="#111"/>
<circle cx="163.24" cy="366.83" r="0.75" fill="#111"/>
<circle cx="162.25" cy="365.97" r="0.75" fill="#111"/>
<circle cx="154.86" cy="370.23" r="0.75" fill="#111"/>
<circle cx="152.99" cy="364.59" r="0.75" fill="#111"/>
<circle cx="157.68" cy="364.52" r="0.75" fill="#111"/>
<circle cx="155.00" cy="364.64" r="0.75" fill="#111"/>
<circle cx="162.86" cy="363.95" r="0.75" fill="#111"/>
<circle cx="155.63" cy="365.31" r="0.75" fill="#111"/>
<circle cx="162.77" cy="367.40" r="0.75" fill="#111"/>
<circle cx="162.98" cy="365.85" r="0.75" fill="#111"/>
<circle cx="156.81" cy="366.58" r="0.75" fill="#111"/>
<circle cx="148.60" cy="366.80" r="0.75" fill="#111"/>
<circle cx="151.23" cy="366.02" r="0.75" fill="#111"/>
<circle cx="161.09" cy="363.60" r="0.75" fill="#111"/>
<circle cx="155.88" cy="364.14" r="0.75" fill="#111"/>
<circle cx="156.57" cy="372.00" r="0.72" fill="#111"/>
<circle cx="156.09" cy="373.71" r="0.72" fill="#111"/>
<circle cx="156.37" cy="375.35" r="0.72" fill="#111"/>
<circle cx="155.83" cy="377.52" r="0.72" fill="#111"/>
<circle cx="156.00" cy="379.24" r="0.72" fill="#111"/>
<circle cx="156.63" cy="380.39" r="0.72" fill="#111"/>
<circle cx="156.37" cy="382.01" r="0.72" fill="#111"/>
<circle cx="156.79" cy="384.13" r="0.72" fill="#111"/>
<circle cx="156.44" cy="385.61" r="0.72" fill="#111"/>
<circle cx="156.31" cy="387.23" r="0.72" fill="#111"/>
<circle cx="156.24" cy="389.21" r="0.72" fill="#111"/>
<circle cx="156.27" cy="390.88" r="0.72" fill="#111"/>
<circle cx="156.54" cy="393.36" r="0.72" fill="#111"/>
<circle cx="156.83" cy="395.71" r="0.72" fill="#111"/>
<circle cx="156.37" cy="396.83" r="0.72" fill="#111"/>
<circle cx="156.71" cy="399.32" r="0.72" fill="#111"/>
<circle cx="155.85" cy="400.19" r="0.72" fill="#111"/>
<circle cx="155.79" cy="401.68" r="0.72" fill="#111"/>
<circle cx="155.79" cy="402.76" r="0.72" fill="#111"/>
<circle cx="156.64" cy="404.70" r="0.72" fill="#111"/>
<circle cx="155.89" cy="407.09" r="0.72" fill="#111"/>
<circle cx="156.49" cy="409.12" r="0.72" fill="#111"/>
<circle cx="156.76" cy="410.01" r="0.72" fill="#111"/>
<circle cx="155.96" cy="412.55" r="0.72" fill="#111"/>
<circle cx="156.18" cy="415.05" r="0.72" fill="#111"/>
<circle cx="156.89" cy="416.63" r="0.72" fill="#111"/>
<circle cx="155.89" cy="418.89" r="0.72" fill="#111"/>
<circle cx="156.32" cy="420.35" r="0.72" fill="#111"/>
<circle cx="155.93" cy="422.65" r="0.72" fill="#111"/>
<circle cx="156.57" cy="424.88" r="0.72" fill="#111"/>
<circle cx="156.36" cy="426.03" r="0.72" fill="#111"/>
<circle cx="155.72" cy="428.70" r="0.72" fill="#111"/>
<circle cx="156.45" cy="430.97" r="0.72" fill="#111"/>
<circle cx="155.78" cy="433.89" r="0.72" fill="#111"/>
<circle cx="156.65" cy="438.52" r="0.72" fill="#111"/>
<circle cx="155.83" cy="443.10" r="0.72" fill="#111"/>
<circle cx="155.75" cy="445.13" r="0.72" fill="#111"/>
<circle cx="156.02" cy="449.02" r="0.72" fill="#111"/>
<circle cx="156.21" cy="450.57" r="0.72" fill="#111"/>
<circle cx="156.30" cy="453.80" r="0.75" fill="#111"/>
<line x1="150.30" y1="368.50" x2="162.30" y2="368.50" stroke="#4aa8e0" stroke-width="0.9"/>
<path d="M223.30,363.50 C223.05,363.75 221.97,364.25 221.80,365.00 C221.63,365.75 221.72,367.17 222.30,368.00 C222.88,368.83 224.30,369.33 225.30,370.00 C226.30,370.67 227.63,371.33 228.30,372.00 C228.97,372.67 229.05,373.33 229.30,374.00 C229.55,374.67 229.70,363.73 229.80,376.00 C229.90,388.27 229.82,435.58 229.90,447.60 C229.98,459.62 230.23,448.02 230.30,448.10 C230.37,448.18 230.23,448.18 230.30,448.10 C230.37,448.02 230.62,459.62 230.70,447.60 C230.78,435.58 230.70,388.27 230.80,376.00 C230.90,363.73 231.05,374.67 231.30,374.00 C231.55,373.33 231.63,372.67 232.30,372.00 C232.97,371.33 234.30,370.67 235.30,370.00 C236.30,369.33 237.72,368.83 238.30,368.00 C238.88,367.17 238.97,365.75 238.80,365.00 C238.63,364.25 237.55,363.75 237.30,363.50 Z" fill="#e0e0e0" stroke="#999" stroke-width="0.4"/>
<circle cx="229.09" cy="370.14" r="0.75" fill="#111"/>
<circle cx="237.01" cy="364.03" r="0.75" fill="#111"/>
<circle cx="233.51" cy="367.27" r="0.75" fill="#111"/>
<circle cx="223.22" cy="363.79" r="0.75" fill="#111"/>
<circle cx="229.40" cy="368.55" r="0.75" fill="#111"/>
<circle cx="237.31" cy="363.73" r="0.75" fill="#111"/>
<circle cx="235.13" cy="367.95" r="0.75" fill="#111"/>
<circle cx="236.00" cy="363.77" r="0.75" fill="#111"/>
<circle cx="236.10" cy="363.72" r="0.75" fill="#111"/>
<circle cx="227.73" cy="366.14" r="0.75" fill="#111"/>
<circle cx="237.13" cy="367.09" r="0.75" fill="#111"/>
<circle cx="224.37" cy="364.69" r="0.75" fill="#111"/>
<circle cx="226.11" cy="366.83" r="0.75" fill="#111"/>
<circle cx="224.88" cy="363.86" r="0.75" fill="#111"/>
<circle cx="225.53" cy="363.68" r="0.75" fill="#111"/>
<circle cx="227.18" cy="365.00" r="0.75" fill="#111"/>
<circle cx="227.78" cy="369.40" r="0.75" fill="#111"/>
<circle cx="225.15" cy="366.57" r="0.75" fill="#111"/>
<circle cx="222.59" cy="365.25" r="0.75" fill="#111"/>
<circle cx="222.55" cy="364.58" r="0.75" fill="#111"/>
<circle cx="230.91" cy="369.08" r="0.75" fill="#111"/>
<circle cx="229.90" cy="364.23" r="0.75" fill="#111"/>
<circle cx="228.33" cy="371.68" r="0.75" fill="#111"/>
<circle cx="229.96" cy="370.14" r="0.75" fill="#111"/>
<circle cx="235.65" cy="366.52" r="0.75" fill="#111"/>
<circle cx="230.41" cy="365.62" r="0.75" fill="#111"/>
<circle cx="236.09" cy="368.54" r="0.75" fill="#111"/>
<circle cx="235.62" cy="365.22" r="0.75" fill="#111"/>
<circle cx="231.93" cy="368.76" r="0.75" fill="#111"/>
<circle cx="227.86" cy="365.72" r="0.75" fill="#111"/>
<circle cx="224.38" cy="363.69" r="0.75" fill="#111"/>
<circle cx="234.15" cy="363.73" r="0.75" fill="#111"/>
<circle cx="224.91" cy="364.61" r="0.75" fill="#111"/>
<circle cx="235.76" cy="363.77" r="0.75" fill="#111"/>
<circle cx="231.15" cy="370.81" r="0.75" fill="#111"/>
<circle cx="226.18" cy="364.79" r="0.75" fill="#111"/>
<circle cx="229.65" cy="364.86" r="0.75" fill="#111"/>
<circle cx="229.43" cy="364.07" r="0.75" fill="#111"/>
<circle cx="237.69" cy="364.66" r="0.75" fill="#111"/>
<circle cx="230.54" cy="372.21" r="0.75" fill="#111"/>
<circle cx="237.75" cy="364.54" r="0.75" fill="#111"/>
<circle cx="228.01" cy="364.98" r="0.75" fill="#111"/>
<circle cx="228.41" cy="363.60" r="0.75" fill="#111"/>
<circle cx="230.34" cy="366.33" r="0.75" fill="#111"/>
<circle cx="230.38" cy="364.29" r="0.75" fill="#111"/>
<circle cx="226.53" cy="363.60" r="0.75" fill="#111"/>
<circle cx="228.69" cy="363.79" r="0.75" fill="#111"/>
<circle cx="222.66" cy="363.66" r="0.75" fill="#111"/>
<circle cx="226.02" cy="364.94" r="0.75" fill="#111"/>
<circle cx="230.77" cy="367.42" r="0.75" fill="#111"/>
<circle cx="232.19" cy="369.29" r="0.75" fill="#111"/>
<circle cx="234.85" cy="368.87" r="0.75" fill="#111"/>
<circle cx="227.52" cy="365.59" r="0.75" fill="#111"/>
<circle cx="228.55" cy="372.38" r="0.75" fill="#111"/>
<circle cx="232.02" cy="368.97" r="0.75" fill="#111"/>
<circle cx="235.66" cy="363.66" r="0.75" fill="#111"/>
<circle cx="230.94" cy="371.10" r="0.75" fill="#111"/>
<circle cx="234.05" cy="369.09" r="0.75" fill="#111"/>
<circle cx="230.68" cy="363.98" r="0.75" fill="#111"/>
<circle cx="235.66" cy="366.61" r="0.75" fill="#111"/>
<circle cx="234.22" cy="369.96" r="0.75" fill="#111"/>
<circle cx="236.59" cy="367.41" r="0.75" fill="#111"/>
<circle cx="232.62" cy="368.49" r="0.75" fill="#111"/>
<circle cx="222.80" cy="364.46" r="0.75" fill="#111"/>
<circle cx="228.07" cy="363.96" r="0.75" fill="#111"/>
<circle cx="235.67" cy="363.84" r="0.75" fill="#111"/>
<circle cx="232.34" cy="367.14" r="0.75" fill="#111"/>
<circle cx="233.19" cy="367.86" r="0.75" fill="#111"/>
<circle cx="222.35" cy="366.47" r="0.75" fill="#111"/>
<circle cx="233.28" cy="369.87" r="0.75" fill="#111"/>
<circle cx="230.86" cy="366.60" r="0.75" fill="#111"/>
<circle cx="225.09" cy="368.22" r="0.75" fill="#111"/>
<circle cx="227.33" cy="369.12" r="0.75" fill="#111"/>
<circle cx="226.55" cy="363.74" r="0.75" fill="#111"/>
<circle cx="226.76" cy="369.03" r="0.75" fill="#111"/>
<circle cx="236.01" cy="369.16" r="0.75" fill="#111"/>
<circle cx="228.42" cy="366.51" r="0.75" fill="#111"/>
<circle cx="233.24" cy="366.37" r="0.75" fill="#111"/>
<circle cx="231.70" cy="369.49" r="0.75" fill="#111"/>
<circle cx="225.23" cy="368.04" r="0.75" fill="#111"/>
<circle cx="226.36" cy="364.02" r="0.75" fill="#111"/>
<circle cx="227.95" cy="369.20" r="0.75" fill="#111"/>
<circle cx="222.50" cy="367.24" r="0.75" fill="#111"/>
<circle cx="226.60" cy="363.70" r="0.75" fill="#111"/>
<circle cx="232.61" cy="368.36" r="0.75" fill="#111"/>
<circle cx="227.79" cy="368.41" r="0.75" fill="#111"/>
<circle cx="229.73" cy="366.73" r="0.75" fill="#111"/>
<circle cx="224.20" cy="366.26" r="0.75" fill="#111"/>
<circle cx="228.80" cy="371.12" r="0.75" fill="#111"/>
<circle cx="232.48" cy="372.29" r="0.75" fill="#111"/>
<circle cx="229.64" cy="363.61" r="0.75" fill="#111"/>
<circle cx="232.64" cy="370.15" r="0.75" fill="#111"/>
<circle cx="226.60" cy="366.10" r="0.75" fill="#111"/>
<circle cx="237.43" cy="364.34" r="0.75" fill="#111"/>
<circle cx="231.60" cy="364.34" r="0.75" fill="#111"/>
<circle cx="230.69" cy="364.00" r="0.75" fill="#111"/>
<circle cx="228.46" cy="371.93" r="0.75" fill="#111"/>
<circle cx="230.34" cy="370.15" r="0.75" fill="#111"/>
<circle cx="231.32" cy="371.03" r="0.75" fill="#111"/>
<circle cx="236.66" cy="364.47" r="0.75" fill="#111"/>
<circle cx="222.70" cy="366.44" r="0.75" fill="#111"/>
<circle cx="230.17" cy="363.60" r="0.75" fill="#111"/>
<circle cx="227.13" cy="366.12" r="0.75" fill="#111"/>
<circle cx="227.80" cy="363.99" r="0.75" fill="#111"/>
<circle cx="235.74" cy="365.03" r="0.75" fill="#111"/>
<circle cx="234.31" cy="363.60" r="0.75" fill="#111"/>
<circle cx="228.40" cy="370.40" r="0.75" fill="#111"/>
<circle cx="231.37" cy="371.56" r="0.75" fill="#111"/>
<circle cx="229.25" cy="371.22" r="0.75" fill="#111"/>
<circle cx="228.59" cy="365.45" r="0.75" fill="#111"/>
<circle cx="230.75" cy="372.58" r="0.75" fill="#111"/>
<circle cx="229.15" cy="365.36" r="0.75" fill="#111"/>
<circle cx="223.07" cy="364.74" r="0.75" fill="#111"/>
<circle cx="235.65" cy="363.83" r="0.75" fill="#111"/>
<circle cx="237.27" cy="364.81" r="0.75" fill="#111"/>
<circle cx="226.55" cy="364.58" r="0.75" fill="#111"/>
<circle cx="225.34" cy="366.67" r="0.75" fill="#111"/>
<circle cx="237.60" cy="365.46" r="0.75" fill="#111"/>
<circle cx="231.86" cy="370.99" r="0.75" fill="#111"/>
<circle cx="236.91" cy="367.91" r="0.75" fill="#111"/>
<circle cx="230.55" cy="371.76" r="0.75" fill="#111"/>
<circle cx="224.89" cy="368.92" r="0.75" fill="#111"/>
<circle cx="229.71" cy="369.07" r="0.75" fill="#111"/>
<circle cx="232.03" cy="369.31" r="0.75" fill="#111"/>
<circle cx="223.08" cy="364.82" r="0.75" fill="#111"/>
<circle cx="228.44" cy="371.57" r="0.75" fill="#111"/>
<circle cx="227.80" cy="366.31" r="0.75" fill="#111"/>
<circle cx="234.12" cy="364.90" r="0.75" fill="#111"/>
<circle cx="229.10" cy="372.26" r="0.75" fill="#111"/>
<circle cx="227.91" cy="368.18" r="0.75" fill="#111"/>
<circle cx="230.37" cy="372.00" r="0.72" fill="#111"/>
<circle cx="229.90" cy="373.39" r="0.72" fill="#111"/>
<circle cx="229.95" cy="374.31" r="0.72" fill="#111"/>
<circle cx="230.30" cy="376.72" r="0.72" fill="#111"/>
<circle cx="230.79" cy="377.76" r="0.72" fill="#111"/>
<circle cx="230.24" cy="380.36" r="0.72" fill="#111"/>
<circle cx="229.93" cy="381.24" r="0.72" fill="#111"/>
<circle cx="230.11" cy="382.02" r="0.72" fill="#111"/>
<circle cx="229.99" cy="382.80" r="0.72" fill="#111"/>
<circle cx="230.38" cy="383.92" r="0.72" fill="#111"/>
<circle cx="230.60" cy="386.29" r="0.72" fill="#111"/>
<circle cx="230.20" cy="387.72" r="0.72" fill="#111"/>
<circle cx="230.15" cy="389.36" r="0.72" fill="#111"/>
<circle cx="229.77" cy="390.64" r="0.72" fill="#111"/>
<circle cx="230.86" cy="391.80" r="0.72" fill="#111"/>
<circle cx="230.30" cy="392.65" r="0.72" fill="#111"/>
<circle cx="230.74" cy="394.51" r="0.72" fill="#111"/>
<circle cx="230.03" cy="395.54" r="0.72" fill="#111"/>
<circle cx="230.18" cy="396.64" r="0.72" fill="#111"/>
<circle cx="230.84" cy="398.13" r="0.72" fill="#111"/>
<circle cx="230.75" cy="400.43" r="0.72" fill="#111"/>
<circle cx="229.74" cy="401.07" r="0.72" fill="#111"/>
<circle cx="230.77" cy="403.09" r="0.72" fill="#111"/>
<circle cx="230.40" cy="404.63" r="0.72" fill="#111"/>
<circle cx="230.17" cy="405.23" r="0.72" fill="#111"/>
<circle cx="230.69" cy="407.69" r="0.72" fill="#111"/>
<circle cx="230.87" cy="410.00" r="0.72" fill="#111"/>
<circle cx="229.83" cy="411.10" r="0.72" fill="#111"/>
<circle cx="230.33" cy="412.01" r="0.72" fill="#111"/>
<circle cx="230.83" cy="413.97" r="0.72" fill="#111"/>
<circle cx="230.48" cy="416.01" r="0.72" fill="#111"/>
<circle cx="230.25" cy="418.14" r="0.72" fill="#111"/>
<circle cx="229.75" cy="419.85" r="0.72" fill="#111"/>
<circle cx="229.98" cy="422.01" r="0.72" fill="#111"/>
<circle cx="230.47" cy="426.40" r="0.72" fill="#111"/>
<circle cx="229.85" cy="428.58" r="0.72" fill="#111"/>
<circle cx="230.46" cy="430.56" r="0.72" fill="#111"/>
<circle cx="229.83" cy="434.16" r="0.72" fill="#111"/>
<circle cx="230.33" cy="435.49" r="0.72" fill="#111"/>
<circle cx="230.17" cy="438.67" r="0.72" fill="#111"/>
<circle cx="230.42" cy="440.55" r="0.72" fill="#111"/>
<circle cx="230.06" cy="441.67" r="0.72" fill="#111"/>
<circle cx="230.85" cy="444.41" r="0.72" fill="#111"/>
<circle cx="230.76" cy="447.81" r="0.72" fill="#111"/>
<circle cx="230.30" cy="448.10" r="0.75" fill="#111"/>
<line x1="224.30" y1="366.50" x2="236.30" y2="366.50" stroke="#4aa8e0" stroke-width="0.9"/>
<path d="M293.60,363.50 C293.35,363.75 292.27,364.25 292.10,365.00 C291.93,365.75 292.02,367.17 292.60,368.00 C293.18,368.83 294.60,369.33 295.60,370.00 C296.60,370.67 297.93,371.33 298.60,372.00 C299.27,372.67 299.35,373.33 299.60,374.00 C299.85,374.67 300.00,358.42 300.10,376.00 C300.20,393.58 300.12,462.17 300.20,479.50 C300.28,496.83 300.53,479.92 300.60,480.00 C300.67,480.08 300.53,480.08 300.60,480.00 C300.67,479.92 300.92,496.83 301.00,479.50 C301.08,462.17 301.00,393.58 301.10,376.00 C301.20,358.42 301.35,374.67 301.60,374.00 C301.85,373.33 301.93,372.67 302.60,372.00 C303.27,371.33 304.60,370.67 305.60,370.00 C306.60,369.33 308.02,368.83 308.60,368.00 C309.18,367.17 309.27,365.75 309.10,365.00 C308.93,364.25 307.85,363.75 307.60,363.50 Z" fill="#e0e0e0" stroke="#999" stroke-width="0.4"/>
<circle cx="296.55" cy="364.49" r="0.75" fill="#111"/>
<circle cx="301.62" cy="372.04" r="0.75" fill="#111"/>
<circle cx="292.95" cy="364.96" r="0.75" fill="#111"/>
<circle cx="303.39" cy="366.55" r="0.75" fill="#111"/>
<circle cx="296.72" cy="365.85" r="0.75" fill="#111"/>
<circle cx="305.70" cy="368.31" r="0.75" fill="#111"/>
<circle cx="293.15" cy="364.44" r="0.75" fill="#111"/>
<circle cx="299.33" cy="365.19" r="0.75" fill="#111"/>
<circle cx="296.98" cy="368.49" r="0.75" fill="#111"/>
<circle cx="303.47" cy="369.86" r="0.75" fill="#111"/>
<circle cx="295.88" cy="366.62" r="0.75" fill="#111"/>
<circle cx="299.66" cy="372.17" r="0.75" fill="#111"/>
<circle cx="299.25" cy="370.15" r="0.75" fill="#111"/>
<circle cx="304.77" cy="364.41" r="0.75" fill="#111"/>
<circle cx="307.83" cy="364.88" r="0.75" fill="#111"/>
<circle cx="295.60" cy="366.53" r="0.75" fill="#111"/>
<circle cx="299.27" cy="364.42" r="0.75" fill="#111"/>
<circle cx="305.99" cy="368.29" r="0.75" fill="#111"/>
<circle cx="298.90" cy="364.02" r="0.75" fill="#111"/>
<circle cx="308.19" cy="364.36" r="0.75" fill="#111"/>
<circle cx="293.43" cy="364.00" r="0.75" fill="#111"/>
<circle cx="298.89" cy="363.70" r="0.75" fill="#111"/>
<circle cx="302.52" cy="371.18" r="0.75" fill="#111"/>
<circle cx="306.57" cy="369.07" r="0.75" fill="#111"/>
<circle cx="299.75" cy="371.64" r="0.75" fill="#111"/>
<circle cx="307.57" cy="364.21" r="0.75" fill="#111"/>
<circle cx="294.98" cy="369.24" r="0.75" fill="#111"/>
<circle cx="299.14" cy="368.28" r="0.75" fill="#111"/>
<circle cx="297.91" cy="365.46" r="0.75" fill="#111"/>
<circle cx="292.65" cy="364.12" r="0.75" fill="#111"/>
<circle cx="298.22" cy="364.77" r="0.75" fill="#111"/>
<circle cx="298.72" cy="371.97" r="0.75" fill="#111"/>
<circle cx="299.14" cy="372.09" r="0.75" fill="#111"/>
<circle cx="305.75" cy="365.33" r="0.75" fill="#111"/>
<circle cx="300.26" cy="370.18" r="0.75" fill="#111"/>
<circle cx="300.18" cy="363.67" r="0.75" fill="#111"/>
<circle cx="307.31" cy="365.46" r="0.75" fill="#111"/>
<circle cx="298.43" cy="364.25" r="0.75" fill="#111"/>
<circle cx="298.25" cy="371.16" r="0.75" fill="#111"/>
<circle cx="305.59" cy="365.77" r="0.75" fill="#111"/>
<circle cx="295.09" cy="369.48" r="0.75" fill="#111"/>
<circle cx="293.60" cy="363.64" r="0.75" fill="#111"/>
<circle cx="299.39" cy="371.48" r="0.75" fill="#111"/>
<circle cx="305.38" cy="369.25" r="0.75" fill="#111"/>
<circle cx="296.96" cy="365.19" r="0.75" fill="#111"/>
<circle cx="301.18" cy="372.00" r="0.75" fill="#111"/>
<circle cx="304.07" cy="364.66" r="0.75" fill="#111"/>
<circle cx="297.01" cy="365.03" r="0.75" fill="#111"/>
<circle cx="304.69" cy="363.60" r="0.75" fill="#111"/>
<circle cx="301.27" cy="371.43" r="0.75" fill="#111"/>
<circle cx="298.22" cy="371.80" r="0.75" fill="#111"/>
<circle cx="300.20" cy="364.48" r="0.75" fill="#111"/>
<circle cx="302.87" cy="371.99" r="0.75" fill="#111"/>
<circle cx="296.62" cy="365.57" r="0.75" fill="#111"/>
<circle cx="300.50" cy="365.93" r="0.75" fill="#111"/>
<circle cx="299.01" cy="371.59" r="0.75" fill="#111"/>
<circle cx="303.46" cy="369.93" r="0.75" fill="#111"/>
<circle cx="301.96" cy="370.19" r="0.75" fill="#111"/>
<circle cx="297.84" cy="367.65" r="0.75" fill="#111"/>
<circle cx="298.39" cy="365.05" r="0.75" fill="#111"/>
<circle cx="295.55" cy="369.68" r="0.75" fill="#111"/>
<circle cx="304.65" cy="364.27" r="0.75" fill="#111"/>
<circle cx="293.64" cy="364.56" r="0.75" fill="#111"/>
<circle cx="301.44" cy="363.64" r="0.75" fill="#111"/>
<circle cx="308.28" cy="365.10" r="0.75" fill="#111"/>
<circle cx="303.04" cy="370.98" r="0.75" fill="#111"/>
<circle cx="293.95" cy="364.67" r="0.75" fill="#111"/>
<circle cx="300.58" cy="363.81" r="0.75" fill="#111"/>
<circle cx="299.96" cy="368.80" r="0.75" fill="#111"/>
<circle cx="299.27" cy="364.48" r="0.75" fill="#111"/>
<circle cx="303.39" cy="367.79" r="0.75" fill="#111"/>
<circle cx="304.76" cy="369.26" r="0.75" fill="#111"/>
<circle cx="296.05" cy="368.28" r="0.75" fill="#111"/>
<circle cx="299.57" cy="370.42" r="0.75" fill="#111"/>
<circle cx="298.57" cy="367.23" r="0.75" fill="#111"/>
<circle cx="296.99" cy="369.14" r="0.75" fill="#111"/>
<circle cx="296.53" cy="364.56" r="0.75" fill="#111"/>
<circle cx="306.75" cy="364.05" r="0.75" fill="#111"/>
<circle cx="297.82" cy="367.35" r="0.75" fill="#111"/>
<circle cx="308.48" cy="365.64" r="0.75" fill="#111"/>
<circle cx="296.30" cy="366.64" r="0.75" fill="#111"/>
<circle cx="301.37" cy="370.00" r="0.75" fill="#111"/>
<circle cx="298.61" cy="372.47" r="0.75" fill="#111"/>
<circle cx="305.71" cy="366.33" r="0.75" fill="#111"/>
<circle cx="302.67" cy="370.42" r="0.75" fill="#111"/>
<circle cx="297.30" cy="363.65" r="0.75" fill="#111"/>
<circle cx="295.63" cy="363.90" r="0.75" fill="#111"/>
<circle cx="301.02" cy="372.21" r="0.75" fill="#111"/>
<circle cx="299.96" cy="371.62" r="0.75" fill="#111"/>
<circle cx="300.35" cy="370.75" r="0.75" fill="#111"/>
<circle cx="305.04" cy="364.64" r="0.75" fill="#111"/>
<circle cx="298.63" cy="371.83" r="0.75" fill="#111"/>
<circle cx="302.52" cy="367.53" r="0.75" fill="#111"/>
<circle cx="298.50" cy="364.38" r="0.75" fill="#111"/>
<circle cx="295.86" cy="363.99" r="0.75" fill="#111"/>
<circle cx="302.19" cy="364.61" r="0.75" fill="#111"/>
<circle cx="297.04" cy="368.14" r="0.75" fill="#111"/>
<circle cx="297.84" cy="363.61" r="0.75" fill="#111"/>
<circle cx="296.82" cy="368.44" r="0.75" fill="#111"/>
<circle cx="295.85" cy="365.00" r="0.75" fill="#111"/>
<circle cx="301.18" cy="369.84" r="0.75" fill="#111"/>
<circle cx="294.22" cy="363.71" r="0.75" fill="#111"/>
<circle cx="301.40" cy="365.64" r="0.75" fill="#111"/>
<circle cx="294.06" cy="368.00" r="0.75" fill="#111"/>
<circle cx="303.73" cy="364.10" r="0.75" fill="#111"/>
<circle cx="297.13" cy="365.76" r="0.75" fill="#111"/>
<circle cx="307.85" cy="364.96" r="0.75" fill="#111"/>
<circle cx="301.66" cy="365.00" r="0.75" fill="#111"/>
<circle cx="299.26" cy="365.33" r="0.75" fill="#111"/>
<circle cx="303.08" cy="370.73" r="0.75" fill="#111"/>
<circle cx="295.76" cy="365.38" r="0.75" fill="#111"/>
<circle cx="297.04" cy="369.02" r="0.75" fill="#111"/>
<circle cx="307.03" cy="363.60" r="0.75" fill="#111"/>
<circle cx="305.73" cy="365.88" r="0.75" fill="#111"/>
<circle cx="306.73" cy="365.73" r="0.75" fill="#111"/>
<circle cx="295.20" cy="366.21" r="0.75" fill="#111"/>
<circle cx="301.42" cy="363.61" r="0.75" fill="#111"/>
<circle cx="305.52" cy="368.01" r="0.75" fill="#111"/>
<circle cx="302.56" cy="363.79" r="0.75" fill="#111"/>
<circle cx="300.67" cy="365.44" r="0.75" fill="#111"/>
<circle cx="297.13" cy="364.01" r="0.75" fill="#111"/>
<circle cx="307.41" cy="366.77" r="0.75" fill="#111"/>
<circle cx="300.45" cy="363.86" r="0.75" fill="#111"/>
<circle cx="306.20" cy="369.96" r="0.75" fill="#111"/>
<circle cx="294.63" cy="364.27" r="0.75" fill="#111"/>
<circle cx="302.98" cy="371.79" r="0.75" fill="#111"/>
<circle cx="293.45" cy="366.41" r="0.75" fill="#111"/>
<circle cx="300.04" cy="371.56" r="0.75" fill="#111"/>
<circle cx="301.20" cy="371.26" r="0.75" fill="#111"/>
<circle cx="298.90" cy="370.21" r="0.75" fill="#111"/>
<circle cx="300.94" cy="372.00" r="0.72" fill="#111"/>
<circle cx="300.49" cy="373.04" r="0.72" fill="#111"/>
<circle cx="301.00" cy="375.34" r="0.72" fill="#111"/>
<circle cx="300.26" cy="376.30" r="0.72" fill="#111"/>
<circle cx="300.62" cy="377.70" r="0.72" fill="#111"/>
<circle cx="300.15" cy="379.07" r="0.72" fill="#111"/>
<circle cx="300.87" cy="380.16" r="0.72" fill="#111"/>
<circle cx="300.05" cy="382.56" r="0.72" fill="#111"/>
<circle cx="300.91" cy="384.28" r="0.72" fill="#111"/>
<circle cx="301.01" cy="384.96" r="0.72" fill="#111"/>
<circle cx="300.72" cy="385.79" r="0.72" fill="#111"/>
<circle cx="300.75" cy="387.49" r="0.72" fill="#111"/>
<circle cx="300.50" cy="388.71" r="0.72" fill="#111"/>
<circle cx="300.51" cy="390.47" r="0.72" fill="#111"/>
<circle cx="300.54" cy="392.39" r="0.72" fill="#111"/>
<circle cx="300.03" cy="393.87" r="0.72" fill="#111"/>
<circle cx="300.59" cy="395.70" r="0.72" fill="#111"/>
<circle cx="300.92" cy="396.77" r="0.72" fill="#111"/>
<circle cx="300.55" cy="398.93" r="0.72" fill="#111"/>
<circle cx="300.57" cy="399.89" r="0.72" fill="#111"/>
<circle cx="300.15" cy="400.71" r="0.72" fill="#111"/>
<circle cx="300.11" cy="402.17" r="0.72" fill="#111"/>
<circle cx="300.61" cy="403.65" r="0.72" fill="#111"/>
<circle cx="300.76" cy="404.33" r="0.72" fill="#111"/>
<circle cx="300.88" cy="405.10" r="0.72" fill="#111"/>
<circle cx="300.61" cy="407.25" r="0.72" fill="#111"/>
<circle cx="300.60" cy="407.96" r="0.72" fill="#111"/>
<circle cx="301.14" cy="409.32" r="0.72" fill="#111"/>
<circle cx="301.03" cy="410.19" r="0.72" fill="#111"/>
<circle cx="300.88" cy="412.78" r="0.72" fill="#111"/>
<circle cx="300.23" cy="415.01" r="0.72" fill="#111"/>
<circle cx="300.59" cy="417.58" r="0.72" fill="#111"/>
<circle cx="301.10" cy="420.09" r="0.72" fill="#111"/>
<circle cx="300.95" cy="421.76" r="0.72" fill="#111"/>
<circle cx="300.08" cy="426.19" r="0.72" fill="#111"/>
<circle cx="300.91" cy="428.54" r="0.72" fill="#111"/>
<circle cx="301.08" cy="430.19" r="0.72" fill="#111"/>
<circle cx="300.98" cy="432.26" r="0.72" fill="#111"/>
<circle cx="300.60" cy="433.86" r="0.72" fill="#111"/>
<circle cx="300.25" cy="438.25" r="0.72" fill="#111"/>
<circle cx="300.61" cy="440.27" r="0.72" fill="#111"/>
<circle cx="300.04" cy="442.50" r="0.72" fill="#111"/>
<circle cx="300.19" cy="444.24" r="0.72" fill="#111"/>
<circle cx="300.82" cy="448.69" r="0.72" fill="#111"/>
<circle cx="300.20" cy="452.99" r="0.72" fill="#111"/>
<circle cx="300.14" cy="456.90" r="0.72" fill="#111"/>
<circle cx="300.76" cy="459.89" r="0.72" fill="#111"/>
<circle cx="301.05" cy="462.26" r="0.72" fill="#111"/>
<circle cx="300.70" cy="465.34" r="0.72" fill="#111"/>
<circle cx="300.13" cy="469.60" r="0.72" fill="#111"/>
<circle cx="300.76" cy="474.25" r="0.72" fill="#111"/>
<circle cx="300.96" cy="476.75" r="0.72" fill="#111"/>
<circle cx="301.19" cy="478.79" r="0.72" fill="#111"/>
<circle cx="300.60" cy="480.00" r="0.75" fill="#111"/>
<line x1="294.60" y1="369.50" x2="306.60" y2="369.50" stroke="#4aa8e0" stroke-width="0.9"/>
<path d="M175.30,363.50 C175.03,363.75 173.78,364.25 173.70,365.00 C173.62,365.75 174.20,366.83 174.80,368.00 C175.40,369.17 176.68,370.67 177.30,372.00 C177.92,373.33 178.22,374.33 178.50,376.00 C178.78,377.67 178.90,378.83 179.00,382.00 C179.10,385.17 179.15,390.33 179.10,395.00 C179.05,399.67 178.97,405.50 178.70,410.00 C178.43,414.50 177.77,418.67 177.50,422.00 C177.23,425.33 177.05,427.33 177.10,430.00 C177.15,432.67 177.47,434.67 177.80,438.00 C178.13,441.33 178.78,445.50 179.10,450.00 C179.42,454.50 179.50,460.00 179.70,465.00 C179.90,470.00 180.10,475.17 180.30,480.00 C180.50,484.83 180.73,491.53 180.90,494.00 C181.07,496.47 181.23,494.67 181.30,494.80 C181.37,494.93 181.23,494.93 181.30,494.80 C181.37,494.67 181.53,496.47 181.70,494.00 C181.87,491.53 182.10,484.83 182.30,480.00 C182.50,475.17 182.70,470.00 182.90,465.00 C183.10,460.00 183.18,454.50 183.50,450.00 C183.82,445.50 184.47,441.33 184.80,438.00 C185.13,434.67 185.45,432.67 185.50,430.00 C185.55,427.33 185.37,425.33 185.10,422.00 C184.83,418.67 184.17,414.50 183.90,410.00 C183.63,405.50 183.55,399.67 183.50,395.00 C183.45,390.33 183.50,385.17 183.60,382.00 C183.70,378.83 183.82,377.67 184.10,376.00 C184.38,374.33 184.68,373.33 185.30,372.00 C185.92,370.67 187.20,369.17 187.80,368.00 C188.40,366.83 188.98,365.75 188.90,365.00 C188.82,364.25 187.57,363.75 187.30,363.50 Z" fill="#f9dcec" stroke="#b9a0ad" stroke-width="0.4"/>
<circle cx="185.00" cy="364.90" r="0.80" fill="#f03ca8"/>
<circle cx="176.77" cy="365.36" r="0.80" fill="#f03ca8"/>
<circle cx="174.98" cy="367.45" r="0.80" fill="#f03ca8"/>
<circle cx="177.85" cy="368.05" r="0.80" fill="#f03ca8"/>
<circle cx="188.08" cy="366.67" r="0.80" fill="#f03ca8"/>
<circle cx="183.59" cy="366.29" r="0.80" fill="#f03ca8"/>
<circle cx="174.33" cy="364.65" r="0.80" fill="#f03ca8"/>
<circle cx="176.39" cy="363.64" r="0.80" fill="#f03ca8"/>
<circle cx="180.35" cy="366.50" r="0.80" fill="#f03ca8"/>
<circle cx="186.84" cy="365.80" r="0.80" fill="#f03ca8"/>
<circle cx="177.48" cy="363.89" r="0.80" fill="#f03ca8"/>
<circle cx="174.61" cy="366.77" r="0.80" fill="#f03ca8"/>
<circle cx="179.27" cy="363.60" r="0.80" fill="#f03ca8"/>
<circle cx="179.30" cy="363.81" r="0.80" fill="#f03ca8"/>
<circle cx="182.47" cy="364.24" r="0.80" fill="#f03ca8"/>
<circle cx="177.16" cy="366.31" r="0.80" fill="#f03ca8"/>
<circle cx="180.95" cy="366.56" r="0.80" fill="#f03ca8"/>
<circle cx="187.41" cy="363.90" r="0.80" fill="#f03ca8"/>
<circle cx="176.39" cy="364.32" r="0.80" fill="#f03ca8"/>
<circle cx="183.23" cy="363.78" r="0.80" fill="#f03ca8"/>
<circle cx="185.25" cy="368.48" r="0.80" fill="#f03ca8"/>
<circle cx="178.00" cy="365.13" r="0.80" fill="#f03ca8"/>
<circle cx="183.33" cy="363.61" r="0.80" fill="#f03ca8"/>
<circle cx="179.20" cy="366.13" r="0.80" fill="#f03ca8"/>
<circle cx="180.51" cy="366.71" r="0.80" fill="#f03ca8"/>
<circle cx="184.57" cy="369.04" r="0.80" fill="#f03ca8"/>
<circle cx="186.95" cy="364.34" r="0.80" fill="#f03ca8"/>
<circle cx="181.74" cy="363.66" r="0.80" fill="#f03ca8"/>
<circle cx="177.63" cy="365.15" r="0.80" fill="#f03ca8"/>
<circle cx="185.20" cy="363.68" r="0.80" fill="#f03ca8"/>
<circle cx="182.01" cy="363.61" r="0.80" fill="#f03ca8"/>
<circle cx="176.29" cy="369.08" r="0.80" fill="#f03ca8"/>
<circle cx="182.81" cy="364.13" r="0.80" fill="#f03ca8"/>
<circle cx="183.28" cy="365.77" r="0.80" fill="#f03ca8"/>
<circle cx="176.74" cy="368.00" r="0.80" fill="#f03ca8"/>
<circle cx="178.50" cy="364.63" r="0.80" fill="#f03ca8"/>
<circle cx="186.75" cy="363.66" r="0.80" fill="#f03ca8"/>
<circle cx="184.32" cy="367.76" r="0.80" fill="#f03ca8"/>
<circle cx="186.12" cy="363.60" r="0.80" fill="#f03ca8"/>
<circle cx="180.81" cy="367.46" r="0.80" fill="#f03ca8"/>
<circle cx="180.63" cy="367.43" r="0.80" fill="#f03ca8"/>
<circle cx="175.77" cy="364.24" r="0.80" fill="#f03ca8"/>
<circle cx="174.84" cy="364.27" r="0.80" fill="#f03ca8"/>
<circle cx="184.80" cy="364.77" r="0.80" fill="#f03ca8"/>
<circle cx="186.13" cy="367.08" r="0.80" fill="#f03ca8"/>
<circle cx="178.02" cy="367.20" r="0.80" fill="#f03ca8"/>
<circle cx="180.40" cy="366.07" r="0.80" fill="#f03ca8"/>
<circle cx="181.63" cy="367.80" r="0.80" fill="#f03ca8"/>
<circle cx="183.29" cy="364.42" r="0.80" fill="#f03ca8"/>
<circle cx="177.34" cy="369.29" r="0.80" fill="#f03ca8"/>
<circle cx="174.51" cy="368.55" r="0.80" fill="#f03ca8"/>
<circle cx="177.61" cy="364.40" r="0.80" fill="#f03ca8"/>
<circle cx="187.53" cy="367.45" r="0.80" fill="#f03ca8"/>
<circle cx="178.88" cy="367.47" r="0.80" fill="#f03ca8"/>
<circle cx="178.90" cy="368.55" r="0.80" fill="#f03ca8"/>
<circle cx="187.01" cy="364.30" r="0.80" fill="#f03ca8"/>
<circle cx="184.00" cy="366.61" r="0.80" fill="#f03ca8"/>
<circle cx="188.01" cy="366.86" r="0.80" fill="#f03ca8"/>
<circle cx="186.06" cy="365.53" r="0.80" fill="#f03ca8"/>
<circle cx="186.31" cy="367.10" r="0.80" fill="#f03ca8"/>
<circle cx="180.81" cy="368.00" r="0.80" fill="#f03ca8"/>
<circle cx="181.64" cy="369.73" r="0.80" fill="#f03ca8"/>
<circle cx="179.92" cy="370.76" r="0.80" fill="#f03ca8"/>
<circle cx="179.88" cy="372.31" r="0.80" fill="#f03ca8"/>
<circle cx="180.11" cy="374.36" r="0.80" fill="#f03ca8"/>
<circle cx="179.98" cy="374.91" r="0.80" fill="#f03ca8"/>
<circle cx="180.87" cy="376.99" r="0.80" fill="#f03ca8"/>
<circle cx="180.00" cy="377.73" r="0.80" fill="#f03ca8"/>
<circle cx="181.83" cy="378.30" r="0.80" fill="#f03ca8"/>
<circle cx="181.84" cy="379.88" r="0.80" fill="#f03ca8"/>
<circle cx="180.10" cy="381.63" r="0.80" fill="#f03ca8"/>
<circle cx="180.94" cy="383.13" r="0.80" fill="#f03ca8"/>
<circle cx="182.14" cy="385.02" r="0.80" fill="#f03ca8"/>
<circle cx="180.15" cy="387.04" r="0.80" fill="#f03ca8"/>
<circle cx="182.39" cy="389.01" r="0.80" fill="#f03ca8"/>
<circle cx="180.26" cy="391.12" r="0.80" fill="#f03ca8"/>
<circle cx="180.28" cy="391.97" r="0.80" fill="#f03ca8"/>
<circle cx="182.22" cy="392.53" r="0.80" fill="#f03ca8"/>
<circle cx="181.65" cy="394.41" r="0.80" fill="#f03ca8"/>
<circle cx="181.71" cy="396.31" r="0.80" fill="#f03ca8"/>
<circle cx="180.05" cy="397.30" r="0.80" fill="#f03ca8"/>
<circle cx="182.10" cy="397.96" r="0.80" fill="#f03ca8"/>
<circle cx="180.74" cy="398.81" r="0.80" fill="#f03ca8"/>
<circle cx="179.81" cy="400.03" r="0.80" fill="#f03ca8"/>
<circle cx="180.62" cy="400.97" r="0.80" fill="#f03ca8"/>
<circle cx="180.89" cy="402.69" r="0.80" fill="#f03ca8"/>
<circle cx="182.75" cy="403.73" r="0.80" fill="#f03ca8"/>
<circle cx="182.40" cy="405.09" r="0.80" fill="#f03ca8"/>
<circle cx="179.84" cy="406.64" r="0.80" fill="#f03ca8"/>
<circle cx="181.10" cy="407.84" r="0.80" fill="#f03ca8"/>
<circle cx="180.82" cy="409.66" r="0.80" fill="#f03ca8"/>
<circle cx="181.47" cy="411.35" r="0.80" fill="#f03ca8"/>
<circle cx="182.95" cy="412.22" r="0.80" fill="#f03ca8"/>
<circle cx="182.76" cy="412.88" r="0.80" fill="#f03ca8"/>
<circle cx="179.03" cy="413.67" r="0.80" fill="#f03ca8"/>
<circle cx="182.50" cy="414.51" r="0.80" fill="#f03ca8"/>
<circle cx="179.04" cy="416.67" r="0.80" fill="#f03ca8"/>
<circle cx="181.26" cy="418.01" r="0.80" fill="#f03ca8"/>
<circle cx="179.86" cy="419.86" r="0.80" fill="#f03ca8"/>
<circle cx="180.60" cy="421.20" r="0.80" fill="#f03ca8"/>
<circle cx="180.09" cy="423.12" r="0.80" fill="#f03ca8"/>
<circle cx="180.21" cy="425.22" r="0.80" fill="#f03ca8"/>
<circle cx="182.31" cy="426.08" r="0.80" fill="#f03ca8"/>
<circle cx="179.33" cy="427.43" r="0.80" fill="#f03ca8"/>
<circle cx="179.19" cy="429.01" r="0.80" fill="#f03ca8"/>
<circle cx="182.13" cy="430.85" r="0.80" fill="#f03ca8"/>
<circle cx="181.84" cy="432.69" r="0.80" fill="#f03ca8"/>
<circle cx="180.89" cy="433.80" r="0.80" fill="#f03ca8"/>
<circle cx="182.94" cy="434.97" r="0.80" fill="#f03ca8"/>
<circle cx="182.93" cy="435.61" r="0.80" fill="#f03ca8"/>
<circle cx="180.07" cy="436.16" r="0.80" fill="#f03ca8"/>
<circle cx="182.99" cy="437.10" r="0.80" fill="#f03ca8"/>
<circle cx="180.98" cy="438.46" r="0.80" fill="#f03ca8"/>
<circle cx="180.60" cy="440.46" r="0.80" fill="#f03ca8"/>
<circle cx="181.38" cy="441.74" r="0.80" fill="#f03ca8"/>
<circle cx="181.97" cy="443.52" r="0.80" fill="#f03ca8"/>
<circle cx="180.90" cy="445.12" r="0.80" fill="#f03ca8"/>
<circle cx="180.39" cy="446.18" r="0.80" fill="#f03ca8"/>
<circle cx="181.73" cy="448.11" r="0.80" fill="#f03ca8"/>
<circle cx="180.43" cy="449.87" r="0.80" fill="#f03ca8"/>
<circle cx="181.82" cy="451.12" r="0.80" fill="#f03ca8"/>
<circle cx="180.58" cy="452.60" r="0.80" fill="#f03ca8"/>
<circle cx="182.04" cy="453.89" r="0.80" fill="#f03ca8"/>
<circle cx="180.71" cy="454.79" r="0.80" fill="#f03ca8"/>
<circle cx="181.69" cy="455.81" r="0.80" fill="#f03ca8"/>
<circle cx="180.64" cy="457.74" r="0.80" fill="#f03ca8"/>
<circle cx="180.82" cy="458.51" r="0.80" fill="#f03ca8"/>
<circle cx="181.34" cy="459.56" r="0.80" fill="#f03ca8"/>
<circle cx="180.97" cy="460.33" r="0.80" fill="#f03ca8"/>
<circle cx="182.21" cy="461.16" r="0.80" fill="#f03ca8"/>
<circle cx="180.54" cy="462.89" r="0.80" fill="#f03ca8"/>
<circle cx="180.82" cy="465.03" r="0.80" fill="#f03ca8"/>
<circle cx="181.88" cy="466.18" r="0.80" fill="#f03ca8"/>
<circle cx="181.58" cy="468.04" r="0.80" fill="#f03ca8"/>
<circle cx="180.94" cy="469.27" r="0.80" fill="#f03ca8"/>
<circle cx="180.83" cy="470.86" r="0.80" fill="#f03ca8"/>
<circle cx="181.17" cy="471.71" r="0.80" fill="#f03ca8"/>
<circle cx="181.18" cy="472.27" r="0.80" fill="#f03ca8"/>
<circle cx="181.53" cy="474.11" r="0.80" fill="#f03ca8"/>
<circle cx="181.46" cy="475.46" r="0.80" fill="#f03ca8"/>
<circle cx="180.87" cy="476.75" r="0.80" fill="#f03ca8"/>
<circle cx="181.19" cy="478.28" r="0.80" fill="#f03ca8"/>
<circle cx="181.50" cy="480.04" r="0.80" fill="#f03ca8"/>
<circle cx="181.34" cy="481.27" r="0.80" fill="#f03ca8"/>
<circle cx="181.26" cy="483.04" r="0.80" fill="#f03ca8"/>
<circle cx="181.41" cy="483.93" r="0.80" fill="#f03ca8"/>
<circle cx="181.43" cy="485.93" r="0.80" fill="#f03ca8"/>
<circle cx="181.47" cy="487.62" r="0.80" fill="#f03ca8"/>
<circle cx="181.37" cy="489.27" r="0.80" fill="#f03ca8"/>
<circle cx="181.21" cy="490.54" r="0.80" fill="#f03ca8"/>
<circle cx="181.11" cy="492.11" r="0.80" fill="#f03ca8"/>
<circle cx="181.44" cy="493.32" r="0.80" fill="#f03ca8"/>
<circle cx="181.30" cy="493.80" r="0.80" fill="#f03ca8"/>
<line x1="174.80" y1="399.50" x2="187.80" y2="399.50" stroke="#4aa8e0" stroke-width="0.9"/>
<path d="M250.00,363.50 C249.83,363.75 248.92,364.25 249.00,365.00 C249.08,365.75 249.92,367.00 250.50,368.00 C251.08,369.00 252.00,369.83 252.50,371.00 C253.00,372.17 253.27,371.83 253.50,375.00 C253.73,378.17 253.80,385.00 253.90,390.00 C254.00,395.00 254.03,400.00 254.10,405.00 C254.17,410.00 254.20,414.17 254.30,420.00 C254.40,425.83 254.55,434.17 254.70,440.00 C254.85,445.83 255.03,450.83 255.20,455.00 C255.37,459.17 255.48,461.60 255.70,465.00 C255.92,468.40 256.37,473.67 256.50,475.40 C256.63,477.13 256.37,477.13 256.50,475.40 C256.63,473.67 257.08,468.40 257.30,465.00 C257.52,461.60 257.63,459.17 257.80,455.00 C257.97,450.83 258.15,445.83 258.30,440.00 C258.45,434.17 258.60,425.83 258.70,420.00 C258.80,414.17 258.83,410.00 258.90,405.00 C258.97,400.00 259.00,395.00 259.10,390.00 C259.20,385.00 259.27,378.17 259.50,375.00 C259.73,371.83 260.00,372.17 260.50,371.00 C261.00,369.83 261.92,369.00 262.50,368.00 C263.08,367.00 263.92,365.75 264.00,365.00 C264.08,364.25 263.17,363.75 263.00,363.50 Z" fill="#f9dcec" stroke="#b9a0ad" stroke-width="0.4"/>
<circle cx="253.00" cy="366.60" r="0.80" fill="#f03ca8"/>
<circle cx="255.87" cy="365.25" r="0.80" fill="#f03ca8"/>
<circle cx="255.23" cy="366.54" r="0.80" fill="#f03ca8"/>
<circle cx="262.52" cy="366.93" r="0.80" fill="#f03ca8"/>
<circle cx="258.66" cy="364.07" r="0.80" fill="#f03ca8"/>
<circle cx="254.94" cy="367.72" r="0.80" fill="#f03ca8"/>
<circle cx="263.14" cy="365.66" r="0.80" fill="#f03ca8"/>
<circle cx="257.11" cy="363.64" r="0.80" fill="#f03ca8"/>
<circle cx="260.45" cy="363.99" r="0.80" fill="#f03ca8"/>
<circle cx="256.77" cy="369.07" r="0.80" fill="#f03ca8"/>
<circle cx="257.54" cy="363.79" r="0.80" fill="#f03ca8"/>
<circle cx="259.54" cy="365.99" r="0.80" fill="#f03ca8"/>
<circle cx="258.45" cy="365.80" r="0.80" fill="#f03ca8"/>
<circle cx="256.80" cy="368.13" r="0.80" fill="#f03ca8"/>
<circle cx="262.77" cy="365.18" r="0.80" fill="#f03ca8"/>
<circle cx="259.08" cy="364.18" r="0.80" fill="#f03ca8"/>
<circle cx="260.18" cy="365.08" r="0.80" fill="#f03ca8"/>
<circle cx="263.28" cy="363.86" r="0.80" fill="#f03ca8"/>
<circle cx="250.29" cy="364.87" r="0.80" fill="#f03ca8"/>
<circle cx="255.10" cy="364.46" r="0.80" fill="#f03ca8"/>
<circle cx="255.36" cy="363.61" r="0.80" fill="#f03ca8"/>
<circle cx="259.28" cy="365.24" r="0.80" fill="#f03ca8"/>
<circle cx="253.21" cy="364.85" r="0.80" fill="#f03ca8"/>
<circle cx="259.88" cy="364.24" r="0.80" fill="#f03ca8"/>
<circle cx="256.88" cy="369.07" r="0.80" fill="#f03ca8"/>
<circle cx="260.72" cy="364.21" r="0.80" fill="#f03ca8"/>
<circle cx="252.47" cy="365.07" r="0.80" fill="#f03ca8"/>
<circle cx="260.37" cy="363.88" r="0.80" fill="#f03ca8"/>
<circle cx="258.38" cy="367.97" r="0.80" fill="#f03ca8"/>
<circle cx="257.37" cy="365.53" r="0.80" fill="#f03ca8"/>
<circle cx="262.99" cy="364.24" r="0.80" fill="#f03ca8"/>
<circle cx="258.44" cy="364.86" r="0.80" fill="#f03ca8"/>
<circle cx="260.93" cy="368.04" r="0.80" fill="#f03ca8"/>
<circle cx="253.62" cy="365.52" r="0.80" fill="#f03ca8"/>
<circle cx="251.25" cy="366.04" r="0.80" fill="#f03ca8"/>
<circle cx="254.47" cy="368.17" r="0.80" fill="#f03ca8"/>
<circle cx="253.24" cy="368.31" r="0.80" fill="#f03ca8"/>
<circle cx="253.05" cy="364.98" r="0.80" fill="#f03ca8"/>
<circle cx="252.10" cy="365.27" r="0.80" fill="#f03ca8"/>
<circle cx="259.61" cy="363.60" r="0.80" fill="#f03ca8"/>
<circle cx="252.93" cy="364.49" r="0.80" fill="#f03ca8"/>
<circle cx="256.21" cy="364.59" r="0.80" fill="#f03ca8"/>
<circle cx="258.42" cy="365.28" r="0.80" fill="#f03ca8"/>
<circle cx="254.57" cy="366.81" r="0.80" fill="#f03ca8"/>
<circle cx="261.46" cy="368.97" r="0.80" fill="#f03ca8"/>
<circle cx="261.09" cy="363.68" r="0.80" fill="#f03ca8"/>
<circle cx="260.48" cy="368.77" r="0.80" fill="#f03ca8"/>
<circle cx="261.14" cy="363.92" r="0.80" fill="#f03ca8"/>
<circle cx="249.71" cy="366.62" r="0.80" fill="#f03ca8"/>
<circle cx="262.82" cy="363.61" r="0.80" fill="#f03ca8"/>
<circle cx="253.00" cy="366.79" r="0.80" fill="#f03ca8"/>
<circle cx="251.50" cy="363.79" r="0.80" fill="#f03ca8"/>
<circle cx="260.37" cy="364.28" r="0.80" fill="#f03ca8"/>
<circle cx="251.64" cy="364.82" r="0.80" fill="#f03ca8"/>
<circle cx="260.58" cy="368.76" r="0.80" fill="#f03ca8"/>
<circle cx="261.98" cy="364.01" r="0.80" fill="#f03ca8"/>
<circle cx="260.44" cy="366.45" r="0.80" fill="#f03ca8"/>
<circle cx="262.01" cy="366.88" r="0.80" fill="#f03ca8"/>
<circle cx="261.24" cy="367.80" r="0.80" fill="#f03ca8"/>
<circle cx="259.20" cy="364.13" r="0.80" fill="#f03ca8"/>
<circle cx="256.72" cy="368.00" r="0.80" fill="#f03ca8"/>
<circle cx="256.21" cy="369.76" r="0.80" fill="#f03ca8"/>
<circle cx="256.70" cy="371.76" r="0.80" fill="#f03ca8"/>
<circle cx="255.54" cy="372.71" r="0.80" fill="#f03ca8"/>
<circle cx="256.48" cy="373.45" r="0.80" fill="#f03ca8"/>
<circle cx="256.38" cy="374.05" r="0.80" fill="#f03ca8"/>
<circle cx="256.47" cy="374.79" r="0.80" fill="#f03ca8"/>
<circle cx="256.62" cy="376.14" r="0.80" fill="#f03ca8"/>
<circle cx="254.96" cy="378.11" r="0.80" fill="#f03ca8"/>
<circle cx="256.40" cy="380.04" r="0.80" fill="#f03ca8"/>
<circle cx="257.02" cy="381.49" r="0.80" fill="#f03ca8"/>
<circle cx="256.11" cy="383.42" r="0.80" fill="#f03ca8"/>
<circle cx="257.94" cy="384.63" r="0.80" fill="#f03ca8"/>
<circle cx="256.93" cy="385.26" r="0.80" fill="#f03ca8"/>
<circle cx="255.03" cy="386.84" r="0.80" fill="#f03ca8"/>
<circle cx="257.07" cy="388.38" r="0.80" fill="#f03ca8"/>
<circle cx="256.01" cy="390.46" r="0.80" fill="#f03ca8"/>
<circle cx="256.53" cy="392.63" r="0.80" fill="#f03ca8"/>
<circle cx="257.64" cy="393.96" r="0.80" fill="#f03ca8"/>
<circle cx="257.13" cy="394.51" r="0.80" fill="#f03ca8"/>
<circle cx="256.04" cy="396.08" r="0.80" fill="#f03ca8"/>
<circle cx="256.11" cy="398.04" r="0.80" fill="#f03ca8"/>
<circle cx="256.57" cy="399.35" r="0.80" fill="#f03ca8"/>
<circle cx="255.67" cy="401.16" r="0.80" fill="#f03ca8"/>
<circle cx="256.28" cy="402.40" r="0.80" fill="#f03ca8"/>
<circle cx="257.44" cy="403.84" r="0.80" fill="#f03ca8"/>
<circle cx="257.44" cy="404.84" r="0.80" fill="#f03ca8"/>
<circle cx="256.51" cy="406.02" r="0.80" fill="#f03ca8"/>
<circle cx="256.52" cy="406.99" r="0.80" fill="#f03ca8"/>
<circle cx="256.91" cy="409.14" r="0.80" fill="#f03ca8"/>
<circle cx="256.05" cy="410.99" r="0.80" fill="#f03ca8"/>
<circle cx="255.97" cy="412.03" r="0.80" fill="#f03ca8"/>
<circle cx="256.86" cy="413.53" r="0.80" fill="#f03ca8"/>
<circle cx="255.29" cy="415.36" r="0.80" fill="#f03ca8"/>
<circle cx="257.52" cy="417.09" r="0.80" fill="#f03ca8"/>
<circle cx="255.31" cy="418.51" r="0.80" fill="#f03ca8"/>
<circle cx="255.20" cy="419.53" r="0.80" fill="#f03ca8"/>
<circle cx="257.41" cy="420.35" r="0.80" fill="#f03ca8"/>
<circle cx="256.84" cy="421.88" r="0.80" fill="#f03ca8"/>
<circle cx="257.39" cy="423.72" r="0.80" fill="#f03ca8"/>
<circle cx="256.75" cy="425.26" r="0.80" fill="#f03ca8"/>
<circle cx="256.92" cy="426.83" r="0.80" fill="#f03ca8"/>
<circle cx="256.89" cy="428.34" r="0.80" fill="#f03ca8"/>
<circle cx="256.86" cy="429.20" r="0.80" fill="#f03ca8"/>
<circle cx="257.07" cy="430.48" r="0.80" fill="#f03ca8"/>
<circle cx="255.81" cy="431.16" r="0.80" fill="#f03ca8"/>
<circle cx="257.09" cy="431.72" r="0.80" fill="#f03ca8"/>
<circle cx="256.84" cy="433.77" r="0.80" fill="#f03ca8"/>
<circle cx="257.20" cy="434.90" r="0.80" fill="#f03ca8"/>
<circle cx="256.63" cy="436.74" r="0.80" fill="#f03ca8"/>
<circle cx="256.07" cy="437.68" r="0.80" fill="#f03ca8"/>
<circle cx="256.11" cy="438.89" r="0.80" fill="#f03ca8"/>
<circle cx="256.72" cy="440.12" r="0.80" fill="#f03ca8"/>
<circle cx="255.81" cy="442.21" r="0.80" fill="#f03ca8"/>
<circle cx="255.78" cy="443.68" r="0.80" fill="#f03ca8"/>
<circle cx="256.98" cy="444.38" r="0.80" fill="#f03ca8"/>
<circle cx="257.15" cy="445.86" r="0.80" fill="#f03ca8"/>
<circle cx="255.74" cy="447.12" r="0.80" fill="#f03ca8"/>
<circle cx="256.64" cy="448.27" r="0.80" fill="#f03ca8"/>
<circle cx="257.25" cy="450.37" r="0.80" fill="#f03ca8"/>
<circle cx="256.36" cy="451.68" r="0.80" fill="#f03ca8"/>
<circle cx="256.73" cy="452.35" r="0.80" fill="#f03ca8"/>
<circle cx="255.96" cy="453.21" r="0.80" fill="#f03ca8"/>
<circle cx="255.73" cy="453.74" r="0.80" fill="#f03ca8"/>
<circle cx="256.14" cy="455.40" r="0.80" fill="#f03ca8"/>
<circle cx="256.10" cy="457.54" r="0.80" fill="#f03ca8"/>
<circle cx="256.14" cy="459.52" r="0.80" fill="#f03ca8"/>
<circle cx="256.71" cy="460.05" r="0.80" fill="#f03ca8"/>
<circle cx="256.72" cy="460.96" r="0.80" fill="#f03ca8"/>
<circle cx="256.07" cy="461.78" r="0.80" fill="#f03ca8"/>
<circle cx="256.71" cy="463.60" r="0.80" fill="#f03ca8"/>
<circle cx="256.50" cy="465.55" r="0.80" fill="#f03ca8"/>
<circle cx="256.50" cy="466.19" r="0.80" fill="#f03ca8"/>
<circle cx="256.50" cy="467.90" r="0.80" fill="#f03ca8"/>
<circle cx="256.50" cy="469.99" r="0.80" fill="#f03ca8"/>
<circle cx="256.50" cy="472.12" r="0.80" fill="#f03ca8"/>
<circle cx="256.50" cy="472.64" r="0.80" fill="#f03ca8"/>
<circle cx="256.50" cy="474.25" r="0.80" fill="#f03ca8"/>
<circle cx="256.50" cy="474.40" r="0.80" fill="#f03ca8"/>
<line x1="250.00" y1="384.50" x2="263.00" y2="384.50" stroke="#4aa8e0" stroke-width="0.9"/>
<path d="M325.80,365.00 C325.38,365.50 324.05,366.33 323.30,368.00 C322.55,369.67 321.85,372.17 321.30,375.00 C320.75,377.83 320.28,380.83 320.00,385.00 C319.72,389.17 319.63,395.00 319.60,400.00 C319.57,405.00 319.73,410.00 319.80,415.00 C319.87,420.00 319.92,425.00 320.00,430.00 C320.08,435.00 320.13,440.83 320.30,445.00 C320.47,449.17 320.67,450.83 321.00,455.00 C321.33,459.17 321.83,465.00 322.30,470.00 C322.77,475.00 323.42,480.00 323.80,485.00 C324.18,490.00 324.33,495.50 324.60,500.00 C324.87,504.50 325.15,508.67 325.40,512.00 C325.65,515.33 325.87,518.13 326.10,520.00 C326.33,521.87 326.68,522.67 326.80,523.20 C326.92,523.73 326.68,523.73 326.80,523.20 C326.92,522.67 327.27,521.87 327.50,520.00 C327.73,518.13 327.95,515.33 328.20,512.00 C328.45,508.67 328.73,504.50 329.00,500.00 C329.27,495.50 329.42,490.00 329.80,485.00 C330.18,480.00 330.83,475.00 331.30,470.00 C331.77,465.00 332.27,459.17 332.60,455.00 C332.93,450.83 333.13,449.17 333.30,445.00 C333.47,440.83 333.52,435.00 333.60,430.00 C333.68,425.00 333.73,420.00 333.80,415.00 C333.87,410.00 334.03,405.00 334.00,400.00 C333.97,395.00 333.88,389.17 333.60,385.00 C333.32,380.83 332.85,377.83 332.30,375.00 C331.75,372.17 331.05,369.67 330.30,368.00 C329.55,366.33 328.22,365.50 327.80,365.00 Z" fill="#f9dcec" stroke="#b9a0ad" stroke-width="0.4"/>
<circle cx="326.80" cy="413.90" r="0.85" fill="#f03ca8"/>
<circle cx="326.80" cy="391.56" r="0.85" fill="#f03ca8"/>
<circle cx="326.80" cy="440.89" r="0.85" fill="#f03ca8"/>
<circle cx="326.80" cy="422.61" r="0.85" fill="#f03ca8"/>
<circle cx="326.80" cy="433.56" r="0.85" fill="#f03ca8"/>
<circle cx="326.80" cy="388.32" r="0.85" fill="#f03ca8"/>
<circle cx="326.80" cy="421.94" r="0.85" fill="#f03ca8"/>
<circle cx="326.80" cy="462.97" r="0.85" fill="#f03ca8"/>
<circle cx="326.80" cy="425.40" r="0.85" fill="#f03ca8"/>
<circle cx="326.80" cy="511.52" r="0.85" fill="#f03ca8"/>
<circle cx="326.80" cy="453.29" r="0.85" fill="#f03ca8"/>
<circle cx="326.80" cy="375.34" r="0.85" fill="#f03ca8"/>
<circle cx="326.80" cy="474.30" r="0.85" fill="#f03ca8"/>
<circle cx="326.80" cy="417.13" r="0.85" fill="#f03ca8"/>
<circle cx="326.80" cy="516.53" r="0.85" fill="#f03ca8"/>
<circle cx="326.80" cy="458.58" r="0.85" fill="#f03ca8"/>
<circle cx="326.80" cy="432.00" r="0.85" fill="#f03ca8"/>
<circle cx="326.80" cy="424.01" r="0.85" fill="#f03ca8"/>
<circle cx="326.80" cy="458.67" r="0.85" fill="#f03ca8"/>
<circle cx="326.80" cy="490.35" r="0.85" fill="#f03ca8"/>
<circle cx="326.80" cy="366.26" r="0.85" fill="#f03ca8"/>
<circle cx="326.80" cy="431.07" r="0.85" fill="#f03ca8"/>
<circle cx="326.80" cy="491.66" r="0.85" fill="#f03ca8"/>
<circle cx="326.80" cy="372.51" r="0.85" fill="#f03ca8"/>
<circle cx="326.80" cy="491.01" r="0.85" fill="#f03ca8"/>
<circle cx="326.80" cy="454.07" r="0.85" fill="#f03ca8"/>
<circle cx="326.80" cy="497.08" r="0.85" fill="#f03ca8"/>
<circle cx="326.80" cy="471.43" r="0.85" fill="#f03ca8"/>
<circle cx="326.80" cy="419.42" r="0.85" fill="#f03ca8"/>
<circle cx="326.80" cy="451.27" r="0.85" fill="#f03ca8"/>
<circle cx="326.80" cy="396.87" r="0.85" fill="#f03ca8"/>
<circle cx="326.80" cy="509.49" r="0.85" fill="#f03ca8"/>
<circle cx="326.80" cy="459.46" r="0.85" fill="#f03ca8"/>
<circle cx="326.80" cy="437.66" r="0.85" fill="#f03ca8"/>
<circle cx="326.80" cy="405.23" r="0.85" fill="#f03ca8"/>
<circle cx="326.80" cy="487.92" r="0.85" fill="#f03ca8"/>
<circle cx="326.80" cy="379.51" r="0.85" fill="#f03ca8"/>
<circle cx="326.80" cy="484.91" r="0.85" fill="#f03ca8"/>
<circle cx="326.80" cy="455.26" r="0.85" fill="#f03ca8"/>
<circle cx="326.80" cy="502.30" r="0.85" fill="#f03ca8"/>
<circle cx="326.80" cy="439.39" r="0.85" fill="#f03ca8"/>
<circle cx="326.80" cy="395.13" r="0.85" fill="#f03ca8"/>
<circle cx="326.80" cy="393.83" r="0.85" fill="#f03ca8"/>
<circle cx="326.80" cy="421.88" r="0.85" fill="#f03ca8"/>
<circle cx="326.80" cy="427.98" r="0.85" fill="#f03ca8"/>
<circle cx="326.80" cy="388.95" r="0.85" fill="#f03ca8"/>
<circle cx="326.80" cy="519.56" r="0.85" fill="#f03ca8"/>
<circle cx="326.80" cy="382.34" r="0.85" fill="#f03ca8"/>
<circle cx="326.80" cy="522.50" r="0.90" fill="#f03ca8"/>
<circle cx="329.80" cy="365.50" r="0.80" fill="#f03ca8"/>
<line x1="320.00" y1="396.20" x2="333.60" y2="396.20" stroke="#a0808f" stroke-width="0.5" stroke-dasharray="1 0.8"/>
<line x1="321.00" y1="457.90" x2="332.60" y2="457.90" stroke="#a0808f" stroke-width="0.5" stroke-dasharray="1 0.8"/>
<line x1="320.30" y1="419.50" x2="333.30" y2="419.50" stroke="#4aa8e0" stroke-width="0.9"/>
<text x="416.00" y="406.60" font-size="14.8" fill="#111">Row 3</text>
<text x="391.00" y="426.40" font-size="10.4" fill="#222">100 nm</text>
<line x1="427.00" y1="420.20" x2="439.50" y2="420.20" stroke="#999" stroke-width="0.5" stroke-dasharray="0.8 0.8"/>
<line x1="427.00" y1="426.00" x2="441.00" y2="426.00" stroke="#999" stroke-width="0.5" stroke-dasharray="0.8 0.8"/>
<path d="M439.2,418.2 L440.7,481 Q443.6,483.5 446.6,481 L447.7,418.2 A4.25,1.9 0 0 0 439.2,418.2 Z" fill="#000" stroke="none" stroke-width="1" filter="url(#shadow)" opacity="0.8"/>
<path d="M439.2,418.2 L440.7,481 Q443.6,483.5 446.6,481 L447.7,418.2 A4.25,1.9 0 0 0 439.2,418.2 Z" fill="url(#conegrad)" stroke="#444" stroke-width="0.6"/>
<ellipse cx="443.45" cy="418.2" rx="4.25" ry="1.9" fill="none" stroke="#777" stroke-width="0.5"/>
<line x1="443.50" y1="419.00" x2="443.60" y2="431.50" stroke="#333" stroke-width="0.6" stroke-dasharray="0.8 0.9"/>
<line x1="440.70" y1="433.60" x2="447.40" y2="433.10" stroke="#222" stroke-width="0.8"/>
<circle cx="448.40" cy="432.70" r="3.5" fill="url(#goldg)" stroke="#c9961a" stroke-width="0.5"/>
<line x1="509.80" y1="363.50" x2="676.00" y2="363.50" stroke="#cfcfcf" stroke-width="1"/>
<line x1="509.80" y1="397.50" x2="676.00" y2="397.50" stroke="#cfcfcf" stroke-width="1"/>
<line x1="504.80" y1="363.50" x2="509.80" y2="363.50" stroke="#222" stroke-width="0.9"/>
<text x="502.00" y="368.30" font-size="10.5" text-anchor="end" fill="#222">0</text>
<line x1="504.80" y1="397.50" x2="509.80" y2="397.50" stroke="#222" stroke-width="0.9"/>
<text x="502.00" y="402.06" font-size="10.5" text-anchor="end" fill="#222">100</text>
<line x1="504.80" y1="430.50" x2="509.80" y2="430.50" stroke="#222" stroke-width="0.9"/>
<text x="502.00" y="435.82" font-size="10.5" text-anchor="end" fill="#222">200</text>
<line x1="504.80" y1="464.50" x2="509.80" y2="464.50" stroke="#222" stroke-width="0.9"/>
<text x="502.00" y="469.58" font-size="10.5" text-anchor="end" fill="#222">300</text>
<line x1="504.80" y1="498.50" x2="509.80" y2="498.50" stroke="#222" stroke-width="0.9"/>
<text x="502.00" y="503.34" font-size="10.5" text-anchor="end" fill="#222">400</text>
<line x1="504.80" y1="532.50" x2="509.80" y2="532.50" stroke="#222" stroke-width="0.9"/>
<text x="502.00" y="537.10" font-size="10.5" text-anchor="end" fill="#222">500</text>
<line x1="509.50" y1="363.40" x2="509.50" y2="532.70" stroke="#222" stroke-width="1"/>
<line x1="509.80" y1="532.50" x2="676.10" y2="532.50" stroke="#222" stroke-width="1"/>
<line x1="591.30" y1="363.40" x2="591.30" y2="532.20" stroke="#444" stroke-width="0.8"/>
<text transform="translate(475.30,452.10) rotate(-90)" font-size="11.7" font-weight="bold" text-anchor="middle" fill="#000">Distance TMC1-gold - tip (nm)</text>
<text x="552.00" y="357.40" font-size="14.3" text-anchor="middle" fill="#111">P11</text>
<text x="643.30" y="357.40" font-size="14.3" text-anchor="middle" fill="#111">P21</text>
<line x1="531.50" y1="532.20" x2="531.50" y2="536.70" stroke="#222" stroke-width="1"/>
<line x1="564.50" y1="532.20" x2="564.50" y2="536.70" stroke="#222" stroke-width="1"/>
<line x1="620.50" y1="532.20" x2="620.50" y2="536.70" stroke="#222" stroke-width="1"/>
<line x1="653.50" y1="532.20" x2="653.50" y2="536.70" stroke="#222" stroke-width="1"/>
<text x="530.80" y="549.30" font-size="10.0" font-style="italic" text-anchor="middle" fill="#222">+/+</text>
<text x="568.20" y="549.30" font-size="10.0" font-style="italic" text-anchor="middle" fill="#222">Delta/Delta</text>
<text x="619.60" y="549.30" font-size="10.0" font-style="italic" text-anchor="middle" fill="#222">+/+</text>
<text x="656.60" y="549.30" font-size="10.0" font-style="italic" text-anchor="middle" fill="#222">Delta/Delta</text>
<path d="M522.90,364.00 C522.70,364.25 521.70,364.83 521.70,365.50 C521.70,366.17 522.20,367.08 522.90,368.00 C523.60,368.92 525.07,369.83 525.90,371.00 C526.73,372.17 527.37,373.67 527.90,375.00 C528.43,376.33 528.73,377.33 529.10,379.00 C529.47,380.67 529.80,383.00 530.10,385.00 C530.40,387.00 530.67,389.67 530.90,391.00 C531.13,392.33 531.40,390.33 531.50,393.00 C531.60,395.67 531.43,404.62 531.50,407.00 C531.57,409.38 531.83,407.25 531.90,407.30 C531.97,407.35 531.83,407.35 531.90,407.30 C531.97,407.25 532.23,409.38 532.30,407.00 C532.37,404.62 532.20,395.67 532.30,393.00 C532.40,390.33 532.67,392.33 532.90,391.00 C533.13,389.67 533.40,387.00 533.70,385.00 C534.00,383.00 534.33,380.67 534.70,379.00 C535.07,377.33 535.37,376.33 535.90,375.00 C536.43,373.67 537.07,372.17 537.90,371.00 C538.73,369.83 540.20,368.92 540.90,368.00 C541.60,367.08 542.10,366.17 542.10,365.50 C542.10,364.83 541.10,364.25 540.90,364.00 Z" fill="#e0e0e0" stroke="#999" stroke-width="0.4"/>
<circle cx="532.35" cy="372.23" r="0.75" fill="#111"/>
<circle cx="531.83" cy="386.39" r="0.75" fill="#111"/>
<circle cx="532.56" cy="373.68" r="0.75" fill="#111"/>
<circle cx="532.10" cy="366.35" r="0.75" fill="#111"/>
<circle cx="533.46" cy="377.09" r="0.75" fill="#111"/>
<circle cx="528.09" cy="364.91" r="0.75" fill="#111"/>
<circle cx="537.90" cy="364.87" r="0.75" fill="#111"/>
<circle cx="529.46" cy="378.97" r="0.75" fill="#111"/>
<circle cx="532.78" cy="388.38" r="0.75" fill="#111"/>
<circle cx="532.51" cy="377.79" r="0.75" fill="#111"/>
<circle cx="523.61" cy="365.88" r="0.75" fill="#111"/>
<circle cx="528.55" cy="374.23" r="0.75" fill="#111"/>
<circle cx="527.49" cy="366.45" r="0.75" fill="#111"/>
<circle cx="531.20" cy="364.19" r="0.75" fill="#111"/>
<circle cx="534.50" cy="371.93" r="0.75" fill="#111"/>
<circle cx="532.97" cy="373.98" r="0.75" fill="#111"/>
<circle cx="533.13" cy="373.47" r="0.75" fill="#111"/>
<circle cx="530.21" cy="372.36" r="0.75" fill="#111"/>
<circle cx="532.84" cy="388.92" r="0.75" fill="#111"/>
<circle cx="532.61" cy="383.59" r="0.75" fill="#111"/>
<circle cx="528.82" cy="368.97" r="0.75" fill="#111"/>
<circle cx="527.00" cy="368.40" r="0.75" fill="#111"/>
<circle cx="531.56" cy="381.22" r="0.75" fill="#111"/>
<circle cx="531.51" cy="383.80" r="0.75" fill="#111"/>
<circle cx="532.56" cy="387.54" r="0.75" fill="#111"/>
<circle cx="526.27" cy="364.00" r="0.75" fill="#111"/>
<circle cx="531.84" cy="385.92" r="0.75" fill="#111"/>
<circle cx="531.71" cy="388.32" r="0.75" fill="#111"/>
<circle cx="534.41" cy="364.64" r="0.75" fill="#111"/>
<circle cx="531.11" cy="381.61" r="0.75" fill="#111"/>
<circle cx="528.66" cy="364.82" r="0.75" fill="#111"/>
<circle cx="532.39" cy="387.75" r="0.75" fill="#111"/>
<circle cx="526.98" cy="365.25" r="0.75" fill="#111"/>
<circle cx="523.37" cy="365.01" r="0.75" fill="#111"/>
<circle cx="530.80" cy="382.20" r="0.75" fill="#111"/>
<circle cx="531.62" cy="375.08" r="0.75" fill="#111"/>
<circle cx="535.87" cy="366.46" r="0.75" fill="#111"/>
<circle cx="534.69" cy="365.45" r="0.75" fill="#111"/>
<circle cx="530.36" cy="365.23" r="0.75" fill="#111"/>
<circle cx="527.96" cy="366.87" r="0.75" fill="#111"/>
<circle cx="532.48" cy="387.99" r="0.75" fill="#111"/>
<circle cx="536.29" cy="368.72" r="0.75" fill="#111"/>
<circle cx="530.09" cy="366.83" r="0.75" fill="#111"/>
<circle cx="532.39" cy="384.06" r="0.75" fill="#111"/>
<circle cx="541.38" cy="365.00" r="0.75" fill="#111"/>
<circle cx="527.77" cy="366.87" r="0.75" fill="#111"/>
<circle cx="531.32" cy="381.42" r="0.75" fill="#111"/>
<circle cx="527.04" cy="368.55" r="0.75" fill="#111"/>
<circle cx="533.50" cy="364.86" r="0.75" fill="#111"/>
<circle cx="533.63" cy="367.45" r="0.75" fill="#111"/>
<circle cx="531.37" cy="370.25" r="0.75" fill="#111"/>
<circle cx="531.87" cy="387.58" r="0.75" fill="#111"/>
<circle cx="533.85" cy="375.51" r="0.75" fill="#111"/>
<circle cx="525.99" cy="366.32" r="0.75" fill="#111"/>
<circle cx="532.50" cy="385.85" r="0.75" fill="#111"/>
<circle cx="526.60" cy="367.58" r="0.75" fill="#111"/>
<circle cx="533.41" cy="380.38" r="0.75" fill="#111"/>
<circle cx="539.60" cy="366.56" r="0.75" fill="#111"/>
<circle cx="532.25" cy="384.98" r="0.75" fill="#111"/>
<circle cx="528.89" cy="371.46" r="0.75" fill="#111"/>
<circle cx="540.87" cy="364.26" r="0.75" fill="#111"/>
<circle cx="535.40" cy="367.36" r="0.75" fill="#111"/>
<circle cx="537.44" cy="367.73" r="0.75" fill="#111"/>
<circle cx="530.80" cy="376.13" r="0.75" fill="#111"/>
<circle cx="535.67" cy="366.19" r="0.75" fill="#111"/>
<circle cx="526.64" cy="364.59" r="0.75" fill="#111"/>
<circle cx="533.77" cy="375.08" r="0.75" fill="#111"/>
<circle cx="530.73" cy="376.64" r="0.75" fill="#111"/>
<circle cx="531.34" cy="386.16" r="0.75" fill="#111"/>
<circle cx="527.43" cy="364.08" r="0.75" fill="#111"/>
<circle cx="528.56" cy="372.07" r="0.75" fill="#111"/>
<circle cx="529.66" cy="366.20" r="0.75" fill="#111"/>
<circle cx="529.94" cy="375.44" r="0.75" fill="#111"/>
<circle cx="536.36" cy="370.03" r="0.75" fill="#111"/>
<circle cx="532.20" cy="388.32" r="0.75" fill="#111"/>
<circle cx="532.35" cy="378.91" r="0.75" fill="#111"/>
<circle cx="523.95" cy="365.60" r="0.75" fill="#111"/>
<circle cx="539.85" cy="364.09" r="0.75" fill="#111"/>
<circle cx="533.48" cy="379.20" r="0.75" fill="#111"/>
<circle cx="534.54" cy="364.11" r="0.75" fill="#111"/>
<circle cx="533.65" cy="373.01" r="0.75" fill="#111"/>
<circle cx="537.59" cy="369.05" r="0.75" fill="#111"/>
<circle cx="532.79" cy="364.67" r="0.75" fill="#111"/>
<circle cx="533.27" cy="380.31" r="0.75" fill="#111"/>
<circle cx="532.60" cy="380.31" r="0.75" fill="#111"/>
<circle cx="533.32" cy="382.08" r="0.75" fill="#111"/>
<circle cx="534.01" cy="369.79" r="0.75" fill="#111"/>
<circle cx="532.61" cy="385.60" r="0.75" fill="#111"/>
<circle cx="534.11" cy="371.35" r="0.75" fill="#111"/>
<circle cx="532.15" cy="384.36" r="0.75" fill="#111"/>
<circle cx="531.27" cy="376.95" r="0.75" fill="#111"/>
<circle cx="532.48" cy="375.74" r="0.75" fill="#111"/>
<circle cx="534.60" cy="364.73" r="0.75" fill="#111"/>
<circle cx="532.62" cy="388.77" r="0.75" fill="#111"/>
<circle cx="531.52" cy="380.04" r="0.75" fill="#111"/>
<circle cx="532.18" cy="380.25" r="0.75" fill="#111"/>
<circle cx="534.47" cy="371.93" r="0.75" fill="#111"/>
<circle cx="536.75" cy="364.78" r="0.75" fill="#111"/>
<circle cx="533.86" cy="364.18" r="0.75" fill="#111"/>
<circle cx="529.85" cy="372.97" r="0.75" fill="#111"/>
<circle cx="531.89" cy="379.12" r="0.75" fill="#111"/>
<circle cx="534.14" cy="376.64" r="0.75" fill="#111"/>
<circle cx="523.54" cy="367.71" r="0.75" fill="#111"/>
<circle cx="533.93" cy="368.66" r="0.75" fill="#111"/>
<circle cx="526.25" cy="366.67" r="0.75" fill="#111"/>
<circle cx="532.20" cy="385.76" r="0.75" fill="#111"/>
<circle cx="534.88" cy="371.97" r="0.75" fill="#111"/>
<circle cx="533.79" cy="369.23" r="0.75" fill="#111"/>
<circle cx="530.72" cy="366.60" r="0.75" fill="#111"/>
<circle cx="533.32" cy="382.48" r="0.75" fill="#111"/>
<circle cx="531.50" cy="384.91" r="0.75" fill="#111"/>
<circle cx="530.92" cy="375.75" r="0.75" fill="#111"/>
<circle cx="531.84" cy="365.53" r="0.75" fill="#111"/>
<circle cx="533.09" cy="383.49" r="0.75" fill="#111"/>
<circle cx="533.44" cy="379.51" r="0.75" fill="#111"/>
<circle cx="528.13" cy="368.14" r="0.75" fill="#111"/>
<circle cx="530.19" cy="372.19" r="0.75" fill="#111"/>
<circle cx="530.43" cy="366.89" r="0.75" fill="#111"/>
<circle cx="531.87" cy="376.97" r="0.75" fill="#111"/>
<circle cx="535.77" cy="368.97" r="0.75" fill="#111"/>
<circle cx="531.81" cy="388.37" r="0.75" fill="#111"/>
<circle cx="522.82" cy="364.66" r="0.75" fill="#111"/>
<circle cx="530.33" cy="384.67" r="0.75" fill="#111"/>
<circle cx="532.14" cy="379.44" r="0.75" fill="#111"/>
<circle cx="535.22" cy="368.83" r="0.75" fill="#111"/>
<circle cx="524.84" cy="364.10" r="0.75" fill="#111"/>
<circle cx="528.29" cy="372.30" r="0.75" fill="#111"/>
<circle cx="531.00" cy="383.25" r="0.75" fill="#111"/>
<circle cx="524.15" cy="365.61" r="0.75" fill="#111"/>
<circle cx="531.62" cy="377.07" r="0.75" fill="#111"/>
<circle cx="532.72" cy="377.09" r="0.75" fill="#111"/>
<circle cx="533.47" cy="382.53" r="0.75" fill="#111"/>
<circle cx="530.30" cy="378.70" r="0.75" fill="#111"/>
<circle cx="529.46" cy="372.82" r="0.75" fill="#111"/>
<circle cx="531.36" cy="364.04" r="0.75" fill="#111"/>
<circle cx="530.80" cy="379.60" r="0.75" fill="#111"/>
<circle cx="530.14" cy="368.05" r="0.75" fill="#111"/>
<circle cx="531.97" cy="379.09" r="0.75" fill="#111"/>
<circle cx="533.26" cy="376.64" r="0.75" fill="#111"/>
<circle cx="535.23" cy="370.77" r="0.75" fill="#111"/>
<circle cx="531.12" cy="385.78" r="0.75" fill="#111"/>
<circle cx="532.32" cy="386.67" r="0.75" fill="#111"/>
<circle cx="531.00" cy="365.44" r="0.75" fill="#111"/>
<circle cx="534.08" cy="376.96" r="0.75" fill="#111"/>
<circle cx="532.68" cy="370.38" r="0.75" fill="#111"/>
<circle cx="532.91" cy="384.88" r="0.75" fill="#111"/>
<circle cx="531.83" cy="387.07" r="0.75" fill="#111"/>
<circle cx="530.33" cy="377.72" r="0.75" fill="#111"/>
<circle cx="532.99" cy="379.84" r="0.75" fill="#111"/>
<circle cx="533.06" cy="377.43" r="0.75" fill="#111"/>
<circle cx="538.74" cy="366.87" r="0.75" fill="#111"/>
<circle cx="532.81" cy="388.32" r="0.75" fill="#111"/>
<circle cx="534.11" cy="374.47" r="0.75" fill="#111"/>
<circle cx="536.57" cy="369.08" r="0.75" fill="#111"/>
<circle cx="531.38" cy="384.10" r="0.75" fill="#111"/>
<circle cx="530.75" cy="364.76" r="0.75" fill="#111"/>
<circle cx="533.94" cy="374.83" r="0.75" fill="#111"/>
<circle cx="528.32" cy="373.14" r="0.75" fill="#111"/>
<circle cx="530.41" cy="382.59" r="0.75" fill="#111"/>
<circle cx="530.78" cy="382.29" r="0.75" fill="#111"/>
<circle cx="535.18" cy="369.41" r="0.75" fill="#111"/>
<circle cx="525.89" cy="365.60" r="0.75" fill="#111"/>
<circle cx="533.60" cy="373.91" r="0.75" fill="#111"/>
<circle cx="532.55" cy="383.58" r="0.75" fill="#111"/>
<circle cx="531.89" cy="387.12" r="0.75" fill="#111"/>
<circle cx="531.11" cy="387.24" r="0.75" fill="#111"/>
<circle cx="532.36" cy="367.03" r="0.75" fill="#111"/>
<circle cx="534.51" cy="368.42" r="0.75" fill="#111"/>
<circle cx="532.02" cy="377.35" r="0.75" fill="#111"/>
<circle cx="532.11" cy="383.70" r="0.75" fill="#111"/>
<circle cx="530.55" cy="368.89" r="0.75" fill="#111"/>
<circle cx="533.27" cy="383.76" r="0.75" fill="#111"/>
<circle cx="537.90" cy="366.78" r="0.75" fill="#111"/>
<circle cx="531.95" cy="387.90" r="0.75" fill="#111"/>
<circle cx="530.31" cy="375.46" r="0.75" fill="#111"/>
<circle cx="531.92" cy="374.44" r="0.75" fill="#111"/>
<circle cx="529.39" cy="376.38" r="0.75" fill="#111"/>
<circle cx="531.93" cy="387.94" r="0.75" fill="#111"/>
<circle cx="535.33" cy="370.95" r="0.75" fill="#111"/>
<circle cx="531.85" cy="375.18" r="0.75" fill="#111"/>
<circle cx="529.59" cy="378.90" r="0.75" fill="#111"/>
<circle cx="531.24" cy="374.52" r="0.75" fill="#111"/>
<circle cx="532.70" cy="387.50" r="0.75" fill="#111"/>
<circle cx="531.44" cy="367.98" r="0.75" fill="#111"/>
<circle cx="530.61" cy="365.39" r="0.75" fill="#111"/>
<circle cx="533.27" cy="382.80" r="0.75" fill="#111"/>
<circle cx="530.51" cy="372.86" r="0.75" fill="#111"/>
<circle cx="533.92" cy="366.47" r="0.75" fill="#111"/>
<circle cx="531.20" cy="386.42" r="0.75" fill="#111"/>
<circle cx="530.27" cy="381.63" r="0.75" fill="#111"/>
<circle cx="527.24" cy="366.52" r="0.75" fill="#111"/>
<circle cx="530.95" cy="378.78" r="0.75" fill="#111"/>
<circle cx="533.27" cy="369.87" r="0.75" fill="#111"/>
<circle cx="536.37" cy="365.06" r="0.75" fill="#111"/>
<circle cx="532.10" cy="365.33" r="0.75" fill="#111"/>
<circle cx="526.73" cy="367.60" r="0.75" fill="#111"/>
<circle cx="531.42" cy="374.29" r="0.75" fill="#111"/>
<circle cx="530.91" cy="370.35" r="0.75" fill="#111"/>
<circle cx="529.31" cy="374.26" r="0.75" fill="#111"/>
<circle cx="534.15" cy="366.71" r="0.75" fill="#111"/>
<circle cx="532.06" cy="377.34" r="0.75" fill="#111"/>
<circle cx="532.28" cy="383.95" r="0.75" fill="#111"/>
<circle cx="530.99" cy="384.13" r="0.75" fill="#111"/>
<circle cx="532.96" cy="380.42" r="0.75" fill="#111"/>
<circle cx="531.55" cy="385.66" r="0.75" fill="#111"/>
<circle cx="536.72" cy="368.96" r="0.75" fill="#111"/>
<circle cx="540.42" cy="366.97" r="0.75" fill="#111"/>
<circle cx="531.20" cy="385.15" r="0.75" fill="#111"/>
<circle cx="535.77" cy="367.38" r="0.75" fill="#111"/>
<circle cx="525.01" cy="367.78" r="0.75" fill="#111"/>
<circle cx="531.63" cy="383.33" r="0.75" fill="#111"/>
<circle cx="530.62" cy="381.97" r="0.75" fill="#111"/>
<circle cx="534.01" cy="371.00" r="0.75" fill="#111"/>
<circle cx="526.10" cy="364.09" r="0.75" fill="#111"/>
<circle cx="534.09" cy="378.64" r="0.75" fill="#111"/>
<circle cx="531.17" cy="387.90" r="0.75" fill="#111"/>
<circle cx="533.86" cy="373.62" r="0.75" fill="#111"/>
<circle cx="533.31" cy="373.55" r="0.75" fill="#111"/>
<circle cx="524.56" cy="366.43" r="0.75" fill="#111"/>
<circle cx="522.94" cy="365.08" r="0.75" fill="#111"/>
<circle cx="532.01" cy="374.87" r="0.75" fill="#111"/>
<circle cx="530.02" cy="375.35" r="0.75" fill="#111"/>
<circle cx="526.84" cy="366.35" r="0.75" fill="#111"/>
<circle cx="533.58" cy="383.59" r="0.75" fill="#111"/>
<circle cx="531.13" cy="386.48" r="0.75" fill="#111"/>
<circle cx="540.65" cy="364.51" r="0.75" fill="#111"/>
<circle cx="533.91" cy="372.48" r="0.75" fill="#111"/>
<circle cx="531.52" cy="369.22" r="0.75" fill="#111"/>
<circle cx="531.37" cy="373.88" r="0.75" fill="#111"/>
<circle cx="529.31" cy="376.25" r="0.75" fill="#111"/>
<circle cx="533.08" cy="379.20" r="0.75" fill="#111"/>
<circle cx="531.11" cy="366.29" r="0.75" fill="#111"/>
<circle cx="531.58" cy="380.38" r="0.75" fill="#111"/>
<circle cx="526.17" cy="366.54" r="0.75" fill="#111"/>
<circle cx="528.22" cy="373.81" r="0.75" fill="#111"/>
<circle cx="532.47" cy="385.34" r="0.75" fill="#111"/>
<circle cx="533.13" cy="379.32" r="0.75" fill="#111"/>
<circle cx="531.39" cy="377.07" r="0.75" fill="#111"/>
<circle cx="531.92" cy="376.22" r="0.75" fill="#111"/>
<circle cx="532.48" cy="388.40" r="0.75" fill="#111"/>
<circle cx="538.93" cy="367.76" r="0.75" fill="#111"/>
<circle cx="532.85" cy="380.54" r="0.75" fill="#111"/>
<circle cx="531.58" cy="382.76" r="0.75" fill="#111"/>
<circle cx="532.62" cy="385.46" r="0.75" fill="#111"/>
<circle cx="532.81" cy="379.02" r="0.75" fill="#111"/>
<circle cx="531.58" cy="381.19" r="0.75" fill="#111"/>
<circle cx="530.43" cy="379.86" r="0.75" fill="#111"/>
<circle cx="531.54" cy="369.56" r="0.75" fill="#111"/>
<circle cx="529.10" cy="364.04" r="0.75" fill="#111"/>
<circle cx="532.56" cy="377.35" r="0.75" fill="#111"/>
<circle cx="539.50" cy="367.24" r="0.75" fill="#111"/>
<circle cx="531.04" cy="378.15" r="0.75" fill="#111"/>
<circle cx="532.27" cy="377.97" r="0.75" fill="#111"/>
<circle cx="531.06" cy="374.36" r="0.75" fill="#111"/>
<circle cx="532.17" cy="389.00" r="0.75" fill="#111"/>
<circle cx="532.80" cy="379.21" r="0.75" fill="#111"/>
<circle cx="530.99" cy="388.31" r="0.75" fill="#111"/>
<circle cx="533.17" cy="376.67" r="0.75" fill="#111"/>
<circle cx="530.22" cy="367.72" r="0.75" fill="#111"/>
<circle cx="526.00" cy="364.38" r="0.75" fill="#111"/>
<circle cx="531.90" cy="406.80" r="0.80" fill="#111"/>
<line x1="523.90" y1="367.50" x2="539.90" y2="367.50" stroke="#4aa8e0" stroke-width="1"/>
<path d="M554.80,365.60 C554.63,365.83 553.88,366.27 553.80,367.00 C553.72,367.73 553.80,368.83 554.30,370.00 C554.80,371.17 555.97,372.67 556.80,374.00 C557.63,375.33 558.47,376.67 559.30,378.00 C560.13,379.33 561.08,380.90 561.80,382.00 C562.52,383.10 563.17,383.93 563.60,384.60 C564.03,385.27 564.27,374.27 564.40,386.00 C564.53,397.73 564.63,443.25 564.40,455.00 C564.17,466.75 563.20,455.95 563.00,456.50 C562.80,457.05 562.90,457.92 563.20,458.30 C563.50,458.68 564.53,458.72 564.80,458.80 C565.07,458.88 564.53,458.88 564.80,458.80 C565.07,458.72 566.10,458.68 566.40,458.30 C566.70,457.92 566.80,457.05 566.60,456.50 C566.40,455.95 565.43,466.75 565.20,455.00 C564.97,443.25 565.07,397.73 565.20,386.00 C565.33,374.27 565.57,385.27 566.00,384.60 C566.43,383.93 567.08,383.10 567.80,382.00 C568.52,380.90 569.47,379.33 570.30,378.00 C571.13,376.67 571.97,375.33 572.80,374.00 C573.63,372.67 574.80,371.17 575.30,370.00 C575.80,368.83 575.88,367.73 575.80,367.00 C575.72,366.27 574.97,365.83 574.80,365.60 Z" fill="#f9dcec" stroke="#b9a0ad" stroke-width="0.45"/>
<line x1="555.30" y1="368.00" x2="574.30" y2="368.00" stroke="#a0808f" stroke-width="0.5" stroke-dasharray="1 0.8"/>
<line x1="554.80" y1="370.50" x2="574.80" y2="370.50" stroke="#4aa8e0" stroke-width="1"/>
<circle cx="561.80" cy="366.50" r="0.70" fill="#f03ca8"/>
<circle cx="563.80" cy="366.50" r="0.70" fill="#f03ca8"/>
<circle cx="565.80" cy="366.50" r="0.70" fill="#f03ca8"/>
<circle cx="567.80" cy="366.50" r="0.70" fill="#f03ca8"/>
<circle cx="561.80" cy="369.00" r="0.70" fill="#f03ca8"/>
<circle cx="567.80" cy="369.00" r="0.70" fill="#f03ca8"/>
<circle cx="561.80" cy="371.80" r="0.70" fill="#f03ca8"/>
<circle cx="563.80" cy="373.50" r="0.70" fill="#f03ca8"/>
<circle cx="565.80" cy="373.50" r="0.70" fill="#f03ca8"/>
<circle cx="564.80" cy="376.00" r="0.70" fill="#f03ca8"/>
<circle cx="564.80" cy="378.50" r="0.70" fill="#f03ca8"/>
<circle cx="564.00" cy="381.00" r="0.70" fill="#f03ca8"/>
<circle cx="564.80" cy="383.00" r="0.70" fill="#f03ca8"/>
<circle cx="564.80" cy="457.30" r="0.70" fill="#f03ca8"/>
<circle cx="611.87" cy="368.32" r="0.75" fill="#111"/>
<circle cx="629.62" cy="366.66" r="0.75" fill="#111"/>
<circle cx="620.84" cy="370.83" r="0.75" fill="#111"/>
<circle cx="621.18" cy="377.45" r="0.75" fill="#111"/>
<circle cx="621.67" cy="377.92" r="0.75" fill="#111"/>
<circle cx="615.61" cy="374.86" r="0.75" fill="#111"/>
<circle cx="625.37" cy="371.55" r="0.75" fill="#111"/>
<circle cx="630.16" cy="364.34" r="0.75" fill="#111"/>
<circle cx="620.08" cy="365.55" r="0.75" fill="#111"/>
<circle cx="620.60" cy="365.66" r="0.75" fill="#111"/>
<circle cx="612.75" cy="371.75" r="0.75" fill="#111"/>
<circle cx="620.14" cy="377.09" r="0.75" fill="#111"/>
<circle cx="622.46" cy="370.49" r="0.75" fill="#111"/>
<circle cx="615.99" cy="368.19" r="0.75" fill="#111"/>
<circle cx="621.43" cy="372.43" r="0.75" fill="#111"/>
<circle cx="625.47" cy="367.08" r="0.75" fill="#111"/>
<circle cx="610.01" cy="367.25" r="0.75" fill="#111"/>
<circle cx="610.64" cy="366.59" r="0.75" fill="#111"/>
<circle cx="626.30" cy="365.51" r="0.75" fill="#111"/>
<circle cx="629.45" cy="368.52" r="0.75" fill="#111"/>
<circle cx="615.30" cy="373.89" r="0.75" fill="#111"/>
<circle cx="623.81" cy="377.81" r="0.75" fill="#111"/>
<circle cx="629.62" cy="364.61" r="0.75" fill="#111"/>
<circle cx="620.30" cy="369.08" r="0.75" fill="#111"/>
<circle cx="618.91" cy="377.55" r="0.75" fill="#111"/>
<circle cx="628.57" cy="370.44" r="0.75" fill="#111"/>
<circle cx="620.32" cy="373.48" r="0.75" fill="#111"/>
<circle cx="622.92" cy="377.64" r="0.75" fill="#111"/>
<circle cx="613.77" cy="371.64" r="0.75" fill="#111"/>
<circle cx="619.90" cy="371.95" r="0.75" fill="#111"/>
<circle cx="610.85" cy="366.07" r="0.75" fill="#111"/>
<circle cx="613.94" cy="370.51" r="0.75" fill="#111"/>
<circle cx="623.72" cy="369.27" r="0.75" fill="#111"/>
<circle cx="616.42" cy="369.45" r="0.75" fill="#111"/>
<circle cx="619.25" cy="371.32" r="0.75" fill="#111"/>
<circle cx="621.07" cy="374.36" r="0.75" fill="#111"/>
<circle cx="623.87" cy="377.96" r="0.75" fill="#111"/>
<circle cx="617.56" cy="373.66" r="0.75" fill="#111"/>
<circle cx="629.34" cy="365.03" r="0.75" fill="#111"/>
<circle cx="622.20" cy="374.46" r="0.75" fill="#111"/>
<circle cx="615.67" cy="368.10" r="0.75" fill="#111"/>
<circle cx="621.48" cy="372.89" r="0.75" fill="#111"/>
<circle cx="623.10" cy="371.46" r="0.75" fill="#111"/>
<circle cx="616.98" cy="373.97" r="0.75" fill="#111"/>
<circle cx="631.25" cy="366.64" r="0.75" fill="#111"/>
<circle cx="623.35" cy="376.60" r="0.75" fill="#111"/>
<circle cx="611.04" cy="364.29" r="0.75" fill="#111"/>
<circle cx="619.05" cy="366.92" r="0.75" fill="#111"/>
<circle cx="613.54" cy="371.94" r="0.75" fill="#111"/>
<circle cx="613.00" cy="370.71" r="0.75" fill="#111"/>
<circle cx="624.58" cy="364.74" r="0.75" fill="#111"/>
<circle cx="623.06" cy="370.84" r="0.75" fill="#111"/>
<circle cx="620.23" cy="368.29" r="0.75" fill="#111"/>
<circle cx="617.26" cy="366.16" r="0.75" fill="#111"/>
<circle cx="624.76" cy="373.83" r="0.75" fill="#111"/>
<circle cx="612.34" cy="364.62" r="0.75" fill="#111"/>
<circle cx="622.18" cy="374.86" r="0.75" fill="#111"/>
<circle cx="617.26" cy="374.21" r="0.75" fill="#111"/>
<circle cx="616.35" cy="369.01" r="0.75" fill="#111"/>
<circle cx="619.13" cy="374.87" r="0.75" fill="#111"/>
<circle cx="626.57" cy="372.41" r="0.75" fill="#111"/>
<circle cx="621.77" cy="367.64" r="0.75" fill="#111"/>
<circle cx="625.75" cy="373.85" r="0.75" fill="#111"/>
<circle cx="618.35" cy="369.05" r="0.75" fill="#111"/>
<circle cx="628.95" cy="364.85" r="0.75" fill="#111"/>
<circle cx="611.53" cy="364.66" r="0.75" fill="#111"/>
<circle cx="620.43" cy="371.04" r="0.75" fill="#111"/>
<circle cx="618.29" cy="372.90" r="0.75" fill="#111"/>
<circle cx="615.61" cy="374.32" r="0.75" fill="#111"/>
<circle cx="624.27" cy="366.19" r="0.75" fill="#111"/>
<circle cx="616.38" cy="364.69" r="0.75" fill="#111"/>
<circle cx="623.03" cy="373.52" r="0.75" fill="#111"/>
<circle cx="612.84" cy="367.08" r="0.75" fill="#111"/>
<circle cx="625.67" cy="368.08" r="0.75" fill="#111"/>
<circle cx="612.28" cy="368.20" r="0.75" fill="#111"/>
<circle cx="621.53" cy="373.27" r="0.75" fill="#111"/>
<circle cx="623.78" cy="376.64" r="0.75" fill="#111"/>
<circle cx="620.27" cy="376.56" r="0.75" fill="#111"/>
<circle cx="618.36" cy="374.76" r="0.75" fill="#111"/>
<circle cx="618.49" cy="367.54" r="0.75" fill="#111"/>
<circle cx="623.46" cy="376.91" r="0.75" fill="#111"/>
<circle cx="617.66" cy="366.63" r="0.75" fill="#111"/>
<circle cx="617.69" cy="368.18" r="0.75" fill="#111"/>
<circle cx="618.23" cy="368.60" r="0.75" fill="#111"/>
<circle cx="622.10" cy="365.97" r="0.75" fill="#111"/>
<circle cx="621.19" cy="374.66" r="0.75" fill="#111"/>
<circle cx="621.45" cy="375.30" r="0.75" fill="#111"/>
<circle cx="626.40" cy="365.75" r="0.75" fill="#111"/>
<circle cx="619.17" cy="376.02" r="0.75" fill="#111"/>
<circle cx="621.04" cy="364.15" r="0.75" fill="#111"/>
<circle cx="621.91" cy="370.75" r="0.75" fill="#111"/>
<circle cx="621.76" cy="377.44" r="0.75" fill="#111"/>
<circle cx="615.47" cy="374.78" r="0.75" fill="#111"/>
<circle cx="625.89" cy="370.78" r="0.75" fill="#111"/>
<circle cx="611.50" cy="364.72" r="0.75" fill="#111"/>
<circle cx="625.49" cy="373.71" r="0.75" fill="#111"/>
<circle cx="623.65" cy="364.72" r="0.75" fill="#111"/>
<circle cx="626.11" cy="365.37" r="0.75" fill="#111"/>
<circle cx="617.65" cy="372.33" r="0.75" fill="#111"/>
<circle cx="626.54" cy="366.28" r="0.75" fill="#111"/>
<circle cx="625.46" cy="370.41" r="0.75" fill="#111"/>
<circle cx="617.13" cy="368.58" r="0.75" fill="#111"/>
<circle cx="621.91" cy="377.47" r="0.75" fill="#111"/>
<circle cx="621.37" cy="370.00" r="0.75" fill="#111"/>
<circle cx="623.20" cy="373.45" r="0.75" fill="#111"/>
<circle cx="620.07" cy="376.58" r="0.75" fill="#111"/>
<circle cx="622.70" cy="375.13" r="0.75" fill="#111"/>
<circle cx="624.37" cy="375.58" r="0.75" fill="#111"/>
<circle cx="625.36" cy="375.26" r="0.75" fill="#111"/>
<circle cx="621.68" cy="377.29" r="0.75" fill="#111"/>
<circle cx="624.48" cy="370.44" r="0.75" fill="#111"/>
<circle cx="619.76" cy="374.75" r="0.75" fill="#111"/>
<circle cx="612.92" cy="368.95" r="0.75" fill="#111"/>
<circle cx="626.59" cy="373.77" r="0.75" fill="#111"/>
<circle cx="613.39" cy="368.32" r="0.75" fill="#111"/>
<circle cx="619.05" cy="366.08" r="0.75" fill="#111"/>
<circle cx="631.03" cy="367.20" r="0.75" fill="#111"/>
<circle cx="616.49" cy="364.47" r="0.75" fill="#111"/>
<circle cx="623.96" cy="365.04" r="0.75" fill="#111"/>
<circle cx="616.85" cy="374.33" r="0.75" fill="#111"/>
<circle cx="619.39" cy="378.00" r="0.70" fill="#111"/>
<circle cx="620.58" cy="380.00" r="0.70" fill="#111"/>
<circle cx="620.95" cy="382.00" r="0.70" fill="#111"/>
<circle cx="621.93" cy="384.00" r="0.70" fill="#111"/>
<circle cx="619.31" cy="386.00" r="0.70" fill="#111"/>
<circle cx="619.53" cy="388.00" r="0.70" fill="#111"/>
<circle cx="619.75" cy="390.00" r="0.70" fill="#111"/>
<circle cx="619.85" cy="392.00" r="0.70" fill="#111"/>
<circle cx="619.91" cy="394.00" r="0.70" fill="#111"/>
<circle cx="621.35" cy="396.50" r="0.70" fill="#111"/>
<line x1="613.70" y1="368.50" x2="627.70" y2="368.50" stroke="#4aa8e0" stroke-width="1"/>
<text x="125.30" y="582.80" font-size="15.24" fill="#111">Row 2 TMC1 distribution pattern</text>
<line x1="126.00" y1="586.20" x2="351.30" y2="586.20" stroke="#444" stroke-width="0.8"/>
<text x="157.00" y="600.30" font-size="11.3" text-anchor="middle" fill="#111">with gold</text>
<text x="211.30" y="600.30" font-size="11.3" text-anchor="middle" fill="#111">&lt;100 nm</text>
<text x="264.20" y="600.30" font-size="11.3" text-anchor="middle" fill="#111">&gt;100 nm</text>
<text x="315.00" y="600.30" font-size="11.3" text-anchor="middle" fill="#111">no gold</text>
<line x1="185.30" y1="587.50" x2="185.30" y2="966.00" stroke="#555" stroke-width="0.8"/>
<line x1="238.80" y1="587.50" x2="238.80" y2="966.00" stroke="#555" stroke-width="0.8"/>
<line x1="291.70" y1="587.50" x2="291.70" y2="966.00" stroke="#555" stroke-width="0.8"/>
<path d="M148.90,615.80 Q153.00,607.60 156.30,604.80 Q157.50,604.00 158.70,604.80 Q162.00,607.60 165.90,615.60 L159.90,659.10 Q157.50,661.60 154.90,659.10 Z" fill="#e8dba6" stroke="#888" stroke-width="0.5"/>
<path d="M148.90,615.80 Q157.50,620.10 165.90,615.60" fill="none" stroke="#777" stroke-width="0.5"/>
<circle cx="157.50" cy="606.80" r="1.9" fill="url(#goldg)" stroke="#b58a1c" stroke-width="0.4"/>
<circle cx="161.30" cy="623.60" r="1.9" fill="url(#goldg)" stroke="#b58a1c" stroke-width="0.4"/>
<circle cx="155.50" cy="639.00" r="1.9" fill="url(#goldg)" stroke="#b58a1c" stroke-width="0.4"/>
<path d="M201.30,615.80 Q205.40,607.60 208.70,604.80 Q209.90,604.00 211.10,604.80 Q214.40,607.60 218.30,615.60 L212.30,659.10 Q209.90,661.60 207.30,659.10 Z" fill="#fff" stroke="#888" stroke-width="0.5"/>
<path d="M201.30,615.80 Q209.90,620.10 218.30,615.60" fill="none" stroke="#777" stroke-width="0.5"/>
<circle cx="209.90" cy="606.80" r="1.9" fill="url(#goldg)" stroke="#b58a1c" stroke-width="0.4"/>
<path d="M253.30,615.80 Q257.40,607.60 260.70,604.80 Q261.90,604.00 263.10,604.80 Q266.40,607.60 270.30,615.60 L264.30,659.10 Q261.90,661.60 259.30,659.10 Z" fill="#e8dba6" stroke="#888" stroke-width="0.5"/>
<path d="M253.30,615.80 Q257.40,607.60 260.70,604.80 Q261.90,604.00 263.10,604.80 Q266.40,607.60 270.30,615.60 Q261.90,620.10 253.30,615.80 Z" fill="#fff" stroke="#888" stroke-width="0.5"/>
<path d="M253.30,615.80 Q261.90,620.10 270.30,615.60" fill="none" stroke="#777" stroke-width="0.5"/>
<circle cx="261.20" cy="627.50" r="1.9" fill="url(#goldg)" stroke="#b58a1c" stroke-width="0.4"/>
<path d="M306.20,615.80 Q310.30,607.60 313.60,604.80 Q314.80,604.00 316.00,604.80 Q319.30,607.60 323.20,615.60 L317.20,659.10 Q314.80,661.60 312.20,659.10 Z" fill="#fff" stroke="#888" stroke-width="0.5"/>
<path d="M306.20,615.80 Q314.80,620.10 323.20,615.60" fill="none" stroke="#777" stroke-width="0.5"/>
<line x1="129.60" y1="761.50" x2="133.60" y2="761.50" stroke="#333" stroke-width="0.9"/>
<text x="128.30" y="766.10" font-size="10.1" text-anchor="end" fill="#222">0</text>
<line x1="129.60" y1="744.50" x2="133.60" y2="744.50" stroke="#333" stroke-width="0.9"/>
<text x="128.30" y="749.20" font-size="10.1" text-anchor="end" fill="#222">20</text>
<line x1="129.60" y1="727.50" x2="133.60" y2="727.50" stroke="#333" stroke-width="0.9"/>
<text x="128.30" y="732.30" font-size="10.1" text-anchor="end" fill="#222">40</text>
<line x1="129.60" y1="710.50" x2="133.60" y2="710.50" stroke="#333" stroke-width="0.9"/>
<text x="128.30" y="715.40" font-size="10.1" text-anchor="end" fill="#222">60</text>
<line x1="129.60" y1="693.50" x2="133.60" y2="693.50" stroke="#333" stroke-width="0.9"/>
<text x="128.30" y="698.50" font-size="10.1" text-anchor="end" fill="#222">80</text>
<line x1="129.60" y1="676.50" x2="133.60" y2="676.50" stroke="#333" stroke-width="0.9"/>
<text x="128.30" y="681.60" font-size="10.1" text-anchor="end" fill="#222">100</text>
<line x1="133.50" y1="676.30" x2="133.50" y2="761.30" stroke="#333" stroke-width="1"/>
<line x1="133.60" y1="761.50" x2="343.80" y2="761.50" stroke="#333" stroke-width="1"/>
<rect x="141.30" y="726.65" width="7.30" height="34.64" fill="#7c7c7c" stroke="none" stroke-width="1"/>
<line x1="144.95" y1="726.65" x2="144.95" y2="723.16" stroke="#222" stroke-width="0.7"/>
<line x1="143.10" y1="723.16" x2="146.80" y2="723.16" stroke="#222" stroke-width="0.7"/>
<circle cx="146.13" cy="740.95" r="0.55" fill="#222"/>
<circle cx="146.72" cy="740.58" r="0.55" fill="#222"/>
<circle cx="143.07" cy="728.39" r="0.55" fill="#222"/>
<circle cx="144.81" cy="754.01" r="0.55" fill="#222"/>
<circle cx="146.55" cy="710.21" r="0.55" fill="#222"/>
<circle cx="143.40" cy="732.77" r="0.55" fill="#222"/>
<circle cx="145.13" cy="735.61" r="0.55" fill="#222"/>
<circle cx="145.25" cy="724.89" r="0.55" fill="#222"/>
<circle cx="144.07" cy="718.21" r="0.55" fill="#222"/>
<circle cx="146.62" cy="725.96" r="0.55" fill="#222"/>
<circle cx="146.14" cy="725.95" r="0.55" fill="#222"/>
<circle cx="143.51" cy="733.77" r="0.55" fill="#222"/>
<circle cx="142.96" cy="731.32" r="0.55" fill="#222"/>
<circle cx="146.44" cy="730.90" r="0.55" fill="#222"/>
<circle cx="146.88" cy="724.53" r="0.55" fill="#222"/>
<circle cx="146.44" cy="718.48" r="0.55" fill="#222"/>
<circle cx="145.11" cy="734.22" r="0.55" fill="#222"/>
<circle cx="145.66" cy="696.65" r="0.55" fill="#222"/>
<rect x="152.55" y="740.17" width="7.30" height="21.12" fill="#fb3fb3" stroke="none" stroke-width="1"/>
<line x1="156.20" y1="740.17" x2="156.20" y2="737.22" stroke="#222" stroke-width="0.7"/>
<line x1="154.35" y1="737.22" x2="158.05" y2="737.22" stroke="#222" stroke-width="0.7"/>
<circle cx="156.96" cy="735.24" r="0.55" fill="#333"/>
<circle cx="158.07" cy="723.29" r="0.55" fill="#333"/>
<circle cx="155.64" cy="735.28" r="0.55" fill="#333"/>
<circle cx="154.86" cy="744.03" r="0.55" fill="#333"/>
<circle cx="155.41" cy="738.52" r="0.55" fill="#333"/>
<circle cx="156.61" cy="738.02" r="0.55" fill="#333"/>
<circle cx="155.55" cy="729.05" r="0.55" fill="#333"/>
<circle cx="155.44" cy="739.94" r="0.55" fill="#333"/>
<circle cx="155.46" cy="736.64" r="0.55" fill="#333"/>
<circle cx="156.12" cy="747.87" r="0.55" fill="#333"/>
<circle cx="158.10" cy="740.89" r="0.55" fill="#333"/>
<circle cx="154.29" cy="742.61" r="0.55" fill="#333"/>
<circle cx="154.27" cy="740.19" r="0.55" fill="#333"/>
<circle cx="157.35" cy="754.45" r="0.55" fill="#333"/>
<circle cx="154.24" cy="746.66" r="0.55" fill="#333"/>
<circle cx="154.39" cy="732.93" r="0.55" fill="#333"/>
<circle cx="154.99" cy="732.43" r="0.55" fill="#333"/>
<circle cx="157.22" cy="723.46" r="0.55" fill="#333"/>
<line x1="163.50" y1="760.50" x2="171.40" y2="760.50" stroke="#555" stroke-width="1.0"/>
<rect x="193.00" y="734.26" width="7.30" height="27.04" fill="#7c7c7c" stroke="none" stroke-width="1"/>
<line x1="196.65" y1="734.26" x2="196.65" y2="731.07" stroke="#222" stroke-width="0.7"/>
<line x1="194.80" y1="731.07" x2="198.50" y2="731.07" stroke="#222" stroke-width="0.7"/>
<circle cx="196.03" cy="713.84" r="0.55" fill="#222"/>
<circle cx="196.07" cy="743.92" r="0.55" fill="#222"/>
<circle cx="195.08" cy="750.42" r="0.55" fill="#222"/>
<circle cx="197.64" cy="736.79" r="0.55" fill="#222"/>
<circle cx="194.80" cy="728.78" r="0.55" fill="#222"/>
<circle cx="198.43" cy="752.20" r="0.55" fill="#222"/>
<circle cx="197.09" cy="727.00" r="0.55" fill="#222"/>
<circle cx="198.32" cy="729.58" r="0.55" fill="#222"/>
<circle cx="196.83" cy="745.77" r="0.55" fill="#222"/>
<circle cx="195.90" cy="716.11" r="0.55" fill="#222"/>
<circle cx="194.96" cy="736.67" r="0.55" fill="#222"/>
<circle cx="195.25" cy="728.86" r="0.55" fill="#222"/>
<circle cx="195.30" cy="746.20" r="0.55" fill="#222"/>
<circle cx="194.84" cy="761.30" r="0.55" fill="#222"/>
<circle cx="196.27" cy="722.61" r="0.55" fill="#222"/>
<circle cx="195.60" cy="735.24" r="0.55" fill="#222"/>
<circle cx="196.47" cy="748.97" r="0.55" fill="#222"/>
<circle cx="196.34" cy="744.12" r="0.55" fill="#222"/>
<rect x="204.25" y="752.85" width="7.30" height="8.45" fill="#fb3fb3" stroke="none" stroke-width="1"/>
<line x1="207.90" y1="752.85" x2="207.90" y2="750.40" stroke="#222" stroke-width="0.7"/>
<line x1="206.05" y1="750.40" x2="209.75" y2="750.40" stroke="#222" stroke-width="0.7"/>
<circle cx="206.03" cy="742.25" r="0.55" fill="#333"/>
<circle cx="207.87" cy="748.98" r="0.55" fill="#333"/>
<circle cx="208.83" cy="751.44" r="0.55" fill="#333"/>
<circle cx="209.70" cy="755.13" r="0.55" fill="#333"/>
<circle cx="206.33" cy="758.95" r="0.55" fill="#333"/>
<circle cx="207.64" cy="759.38" r="0.55" fill="#333"/>
<circle cx="207.08" cy="747.06" r="0.55" fill="#333"/>
<circle cx="207.71" cy="744.96" r="0.55" fill="#333"/>
<circle cx="209.80" cy="742.94" r="0.55" fill="#333"/>
<circle cx="207.71" cy="752.89" r="0.55" fill="#333"/>
<circle cx="207.82" cy="761.03" r="0.55" fill="#333"/>
<circle cx="207.06" cy="752.24" r="0.55" fill="#333"/>
<circle cx="207.41" cy="755.20" r="0.55" fill="#333"/>
<circle cx="209.85" cy="751.23" r="0.55" fill="#333"/>
<circle cx="207.90" cy="745.96" r="0.55" fill="#333"/>
<circle cx="207.25" cy="754.63" r="0.55" fill="#333"/>
<circle cx="209.03" cy="749.43" r="0.55" fill="#333"/>
<circle cx="209.37" cy="750.70" r="0.55" fill="#333"/>
<line x1="215.20" y1="760.50" x2="223.10" y2="760.50" stroke="#555" stroke-width="1.0"/>
<rect x="246.50" y="753.69" width="7.30" height="7.60" fill="#7c7c7c" stroke="none" stroke-width="1"/>
<line x1="250.15" y1="753.69" x2="250.15" y2="751.28" stroke="#222" stroke-width="0.7"/>
<line x1="248.30" y1="751.28" x2="252.00" y2="751.28" stroke="#222" stroke-width="0.7"/>
<circle cx="251.25" cy="759.43" r="0.55" fill="#222"/>
<circle cx="250.93" cy="746.88" r="0.55" fill="#222"/>
<circle cx="249.60" cy="758.10" r="0.55" fill="#222"/>
<circle cx="250.97" cy="761.04" r="0.55" fill="#222"/>
<circle cx="251.23" cy="754.82" r="0.55" fill="#222"/>
<circle cx="250.91" cy="747.96" r="0.55" fill="#222"/>
<circle cx="250.75" cy="757.02" r="0.55" fill="#222"/>
<circle cx="250.47" cy="741.92" r="0.55" fill="#222"/>
<circle cx="249.15" cy="747.33" r="0.55" fill="#222"/>
<circle cx="250.84" cy="753.23" r="0.55" fill="#222"/>
<circle cx="250.74" cy="761.30" r="0.55" fill="#222"/>
<circle cx="251.34" cy="751.54" r="0.55" fill="#222"/>
<circle cx="251.10" cy="757.90" r="0.55" fill="#222"/>
<circle cx="251.46" cy="747.74" r="0.55" fill="#222"/>
<circle cx="251.63" cy="759.43" r="0.55" fill="#222"/>
<circle cx="250.90" cy="745.81" r="0.55" fill="#222"/>
<circle cx="250.22" cy="741.14" r="0.55" fill="#222"/>
<circle cx="250.27" cy="755.59" r="0.55" fill="#222"/>
<rect x="257.75" y="747.78" width="7.30" height="13.52" fill="#fb3fb3" stroke="none" stroke-width="1"/>
<line x1="261.40" y1="747.78" x2="261.40" y2="745.13" stroke="#222" stroke-width="0.7"/>
<line x1="259.55" y1="745.13" x2="263.25" y2="745.13" stroke="#222" stroke-width="0.7"/>
<circle cx="263.15" cy="742.93" r="0.55" fill="#333"/>
<circle cx="261.31" cy="739.44" r="0.55" fill="#333"/>
<circle cx="262.32" cy="750.69" r="0.55" fill="#333"/>
<circle cx="260.09" cy="755.32" r="0.55" fill="#333"/>
<circle cx="262.06" cy="746.51" r="0.55" fill="#333"/>
<circle cx="261.08" cy="754.34" r="0.55" fill="#333"/>
<circle cx="261.95" cy="754.02" r="0.55" fill="#333"/>
<circle cx="262.28" cy="753.92" r="0.55" fill="#333"/>
<circle cx="261.16" cy="744.83" r="0.55" fill="#333"/>
<circle cx="262.00" cy="747.26" r="0.55" fill="#333"/>
<circle cx="261.92" cy="746.29" r="0.55" fill="#333"/>
<circle cx="259.57" cy="740.21" r="0.55" fill="#333"/>
<circle cx="259.62" cy="751.35" r="0.55" fill="#333"/>
<circle cx="259.93" cy="747.14" r="0.55" fill="#333"/>
<circle cx="260.17" cy="749.10" r="0.55" fill="#333"/>
<circle cx="259.54" cy="744.85" r="0.55" fill="#333"/>
<circle cx="261.85" cy="752.62" r="0.55" fill="#333"/>
<circle cx="261.76" cy="746.71" r="0.55" fill="#333"/>
<line x1="268.70" y1="760.50" x2="276.60" y2="760.50" stroke="#555" stroke-width="1.0"/>
<rect x="299.40" y="711.44" width="7.30" height="49.85" fill="#7c7c7c" stroke="none" stroke-width="1"/>
<line x1="303.05" y1="711.44" x2="303.05" y2="707.34" stroke="#222" stroke-width="0.7"/>
<line x1="301.20" y1="707.34" x2="304.90" y2="707.34" stroke="#222" stroke-width="0.7"/>
<circle cx="301.05" cy="708.57" r="0.55" fill="#222"/>
<circle cx="302.67" cy="677.64" r="0.55" fill="#222"/>
<circle cx="301.51" cy="714.64" r="0.55" fill="#222"/>
<circle cx="304.38" cy="693.81" r="0.55" fill="#222"/>
<circle cx="303.50" cy="714.77" r="0.55" fill="#222"/>
<circle cx="301.43" cy="708.08" r="0.55" fill="#222"/>
<circle cx="303.37" cy="726.70" r="0.55" fill="#222"/>
<circle cx="304.88" cy="715.90" r="0.55" fill="#222"/>
<circle cx="304.30" cy="703.85" r="0.55" fill="#222"/>
<circle cx="303.62" cy="727.97" r="0.55" fill="#222"/>
<circle cx="303.43" cy="718.03" r="0.55" fill="#222"/>
<circle cx="303.31" cy="704.38" r="0.55" fill="#222"/>
<circle cx="303.48" cy="677.64" r="0.55" fill="#222"/>
<circle cx="302.45" cy="723.61" r="0.55" fill="#222"/>
<circle cx="301.48" cy="710.85" r="0.55" fill="#222"/>
<circle cx="303.31" cy="711.92" r="0.55" fill="#222"/>
<circle cx="303.57" cy="718.65" r="0.55" fill="#222"/>
<circle cx="304.62" cy="717.81" r="0.55" fill="#222"/>
<rect x="310.65" y="697.92" width="7.30" height="63.38" fill="#fb3fb3" stroke="none" stroke-width="1"/>
<line x1="314.30" y1="697.92" x2="314.30" y2="693.28" stroke="#222" stroke-width="0.7"/>
<line x1="312.45" y1="693.28" x2="316.15" y2="693.28" stroke="#222" stroke-width="0.7"/>
<circle cx="313.21" cy="714.69" r="0.55" fill="#333"/>
<circle cx="313.47" cy="681.34" r="0.55" fill="#333"/>
<circle cx="316.14" cy="677.64" r="0.55" fill="#333"/>
<circle cx="315.95" cy="701.66" r="0.55" fill="#333"/>
<circle cx="316.22" cy="712.11" r="0.55" fill="#333"/>
<circle cx="314.29" cy="707.67" r="0.55" fill="#333"/>
<circle cx="316.24" cy="714.70" r="0.55" fill="#333"/>
<circle cx="314.27" cy="688.08" r="0.55" fill="#333"/>
<circle cx="312.79" cy="703.65" r="0.55" fill="#333"/>
<circle cx="314.79" cy="677.64" r="0.55" fill="#333"/>
<circle cx="315.43" cy="715.25" r="0.55" fill="#333"/>
<circle cx="315.61" cy="691.50" r="0.55" fill="#333"/>
<circle cx="313.40" cy="677.64" r="0.55" fill="#333"/>
<circle cx="316.04" cy="695.66" r="0.55" fill="#333"/>
<circle cx="313.37" cy="694.61" r="0.55" fill="#333"/>
<circle cx="312.92" cy="714.25" r="0.55" fill="#333"/>
<circle cx="314.73" cy="679.49" r="0.55" fill="#333"/>
<circle cx="314.20" cy="699.22" r="0.55" fill="#333"/>
<rect x="321.90" y="676.80" width="7.30" height="84.50" fill="#dadade" stroke="none" stroke-width="1"/>
<line x1="321.90" y1="677.50" x2="329.20" y2="677.50" stroke="#222" stroke-width="1.1"/>
<text x="149.90" y="673.80" font-size="10.2" text-anchor="middle" fill="#222">****</text>
<line x1="144.05" y1="671.50" x2="155.75" y2="671.50" stroke="#555" stroke-width="1"/>
<text x="201.60" y="673.80" font-size="10.2" text-anchor="middle" fill="#222">****</text>
<line x1="195.75" y1="671.50" x2="207.45" y2="671.50" stroke="#555" stroke-width="1"/>
<text x="255.60" y="670.20" font-size="7.2" text-anchor="middle" fill="#222">ns</text>
<line x1="249.50" y1="671.50" x2="261.90" y2="671.50" stroke="#555" stroke-width="1"/>
<text x="308.00" y="673.80" font-size="10.2" text-anchor="middle" fill="#222">****</text>
<line x1="302.15" y1="671.50" x2="313.85" y2="671.50" stroke="#555" stroke-width="1"/>
<text transform="translate(151.90,684.80) scale(0.87,1)" font-size="11.2" fill="#222" text-anchor="middle">-38%</text>
<text transform="translate(203.60,684.80) scale(0.87,1)" font-size="11.2" fill="#222" text-anchor="middle">-69%</text>
<line x1="129.60" y1="861.50" x2="133.60" y2="861.50" stroke="#333" stroke-width="0.9"/>
<text x="128.30" y="866.55" font-size="10.1" text-anchor="end" fill="#222">0</text>
<line x1="129.60" y1="844.50" x2="133.60" y2="844.50" stroke="#333" stroke-width="0.9"/>
<text x="128.30" y="849.65" font-size="10.1" text-anchor="end" fill="#222">20</text>
<line x1="129.60" y1="827.50" x2="133.60" y2="827.50" stroke="#333" stroke-width="0.9"/>
<text x="128.30" y="832.75" font-size="10.1" text-anchor="end" fill="#222">40</text>
<line x1="129.60" y1="811.50" x2="133.60" y2="811.50" stroke="#333" stroke-width="0.9"/>
<text x="128.30" y="815.85" font-size="10.1" text-anchor="end" fill="#222">60</text>
<line x1="129.60" y1="794.50" x2="133.60" y2="794.50" stroke="#333" stroke-width="0.9"/>
<text x="128.30" y="798.95" font-size="10.1" text-anchor="end" fill="#222">80</text>
<line x1="129.60" y1="777.50" x2="133.60" y2="777.50" stroke="#333" stroke-width="0.9"/>
<text x="128.30" y="782.05" font-size="10.1" text-anchor="end" fill="#222">100</text>
<line x1="133.50" y1="776.75" x2="133.50" y2="861.75" stroke="#333" stroke-width="1"/>
<line x1="133.60" y1="861.50" x2="343.80" y2="861.50" stroke="#333" stroke-width="1"/>
<rect x="141.30" y="820.35" width="7.30" height="41.41" fill="#7c7c7c" stroke="none" stroke-width="1"/>
<line x1="144.95" y1="820.35" x2="144.95" y2="816.58" stroke="#222" stroke-width="0.7"/>
<line x1="143.10" y1="816.58" x2="146.80" y2="816.58" stroke="#222" stroke-width="0.7"/>
<circle cx="145.92" cy="832.44" r="0.55" fill="#222"/>
<circle cx="143.42" cy="835.92" r="0.55" fill="#222"/>
<circle cx="145.08" cy="819.54" r="0.55" fill="#222"/>
<circle cx="144.29" cy="832.58" r="0.55" fill="#222"/>
<circle cx="144.81" cy="825.51" r="0.55" fill="#222"/>
<circle cx="144.39" cy="803.31" r="0.55" fill="#222"/>
<circle cx="143.10" cy="820.95" r="0.55" fill="#222"/>
<circle cx="143.96" cy="839.71" r="0.55" fill="#222"/>
<circle cx="146.50" cy="851.40" r="0.55" fill="#222"/>
<circle cx="145.13" cy="811.45" r="0.55" fill="#222"/>
<circle cx="144.66" cy="795.29" r="0.55" fill="#222"/>
<circle cx="145.25" cy="818.05" r="0.55" fill="#222"/>
<circle cx="144.88" cy="825.67" r="0.55" fill="#222"/>
<circle cx="146.60" cy="840.14" r="0.55" fill="#222"/>
<circle cx="146.36" cy="831.22" r="0.55" fill="#222"/>
<circle cx="143.74" cy="810.82" r="0.55" fill="#222"/>
<circle cx="143.21" cy="828.19" r="0.55" fill="#222"/>
<circle cx="146.30" cy="794.22" r="0.55" fill="#222"/>
<rect x="152.55" y="833.02" width="7.30" height="28.73" fill="#fb3fb3" stroke="none" stroke-width="1"/>
<line x1="156.20" y1="833.02" x2="156.20" y2="829.76" stroke="#222" stroke-width="0.7"/>
<line x1="154.35" y1="829.76" x2="158.05" y2="829.76" stroke="#222" stroke-width="0.7"/>
<circle cx="155.35" cy="836.67" r="0.55" fill="#333"/>
<circle cx="157.32" cy="843.09" r="0.55" fill="#333"/>
<circle cx="156.11" cy="828.30" r="0.55" fill="#333"/>
<circle cx="156.40" cy="835.99" r="0.55" fill="#333"/>
<circle cx="154.81" cy="842.03" r="0.55" fill="#333"/>
<circle cx="156.54" cy="832.89" r="0.55" fill="#333"/>
<circle cx="155.12" cy="831.59" r="0.55" fill="#333"/>
<circle cx="157.48" cy="836.52" r="0.55" fill="#333"/>
<circle cx="154.30" cy="829.17" r="0.55" fill="#333"/>
<circle cx="157.09" cy="847.36" r="0.55" fill="#333"/>
<circle cx="157.00" cy="797.37" r="0.55" fill="#333"/>
<circle cx="154.40" cy="837.82" r="0.55" fill="#333"/>
<circle cx="156.78" cy="829.15" r="0.55" fill="#333"/>
<circle cx="158.01" cy="838.94" r="0.55" fill="#333"/>
<circle cx="155.37" cy="834.28" r="0.55" fill="#333"/>
<circle cx="157.87" cy="838.28" r="0.55" fill="#333"/>
<circle cx="155.86" cy="824.88" r="0.55" fill="#333"/>
<circle cx="154.84" cy="821.86" r="0.55" fill="#333"/>
<line x1="163.50" y1="861.50" x2="171.40" y2="861.50" stroke="#555" stroke-width="1.0"/>
<rect x="193.00" y="824.57" width="7.30" height="37.18" fill="#7c7c7c" stroke="none" stroke-width="1"/>
<line x1="196.65" y1="824.57" x2="196.65" y2="820.97" stroke="#222" stroke-width="0.7"/>
<line x1="194.80" y1="820.97" x2="198.50" y2="820.97" stroke="#222" stroke-width="0.7"/>
<circle cx="195.08" cy="827.36" r="0.55" fill="#222"/>
<circle cx="196.17" cy="827.27" r="0.55" fill="#222"/>
<circle cx="196.95" cy="820.54" r="0.55" fill="#222"/>
<circle cx="197.62" cy="822.61" r="0.55" fill="#222"/>
<circle cx="196.38" cy="819.52" r="0.55" fill="#222"/>
<circle cx="195.91" cy="829.40" r="0.55" fill="#222"/>
<circle cx="198.40" cy="836.77" r="0.55" fill="#222"/>
<circle cx="196.15" cy="833.46" r="0.55" fill="#222"/>
<circle cx="195.25" cy="805.67" r="0.55" fill="#222"/>
<circle cx="197.18" cy="817.67" r="0.55" fill="#222"/>
<circle cx="196.87" cy="853.14" r="0.55" fill="#222"/>
<circle cx="197.13" cy="825.62" r="0.55" fill="#222"/>
<circle cx="195.67" cy="825.94" r="0.55" fill="#222"/>
<circle cx="197.65" cy="808.14" r="0.55" fill="#222"/>
<circle cx="195.59" cy="831.50" r="0.55" fill="#222"/>
<circle cx="196.13" cy="825.31" r="0.55" fill="#222"/>
<circle cx="197.50" cy="825.25" r="0.55" fill="#222"/>
<circle cx="197.27" cy="832.72" r="0.55" fill="#222"/>
<rect x="204.25" y="849.08" width="7.30" height="12.67" fill="#fb3fb3" stroke="none" stroke-width="1"/>
<line x1="207.90" y1="849.08" x2="207.90" y2="846.46" stroke="#222" stroke-width="0.7"/>
<line x1="206.05" y1="846.46" x2="209.75" y2="846.46" stroke="#222" stroke-width="0.7"/>
<circle cx="206.26" cy="842.60" r="0.55" fill="#333"/>
<circle cx="206.40" cy="845.23" r="0.55" fill="#333"/>
<circle cx="209.41" cy="852.18" r="0.55" fill="#333"/>
<circle cx="207.82" cy="851.16" r="0.55" fill="#333"/>
<circle cx="206.02" cy="853.10" r="0.55" fill="#333"/>
<circle cx="208.80" cy="840.97" r="0.55" fill="#333"/>
<circle cx="209.71" cy="846.34" r="0.55" fill="#333"/>
<circle cx="208.62" cy="848.12" r="0.55" fill="#333"/>
<circle cx="209.79" cy="848.65" r="0.55" fill="#333"/>
<circle cx="208.56" cy="846.59" r="0.55" fill="#333"/>
<circle cx="208.40" cy="847.88" r="0.55" fill="#333"/>
<circle cx="207.32" cy="851.59" r="0.55" fill="#333"/>
<circle cx="208.36" cy="848.65" r="0.55" fill="#333"/>
<circle cx="207.29" cy="844.53" r="0.55" fill="#333"/>
<circle cx="209.22" cy="851.14" r="0.55" fill="#333"/>
<circle cx="208.49" cy="847.27" r="0.55" fill="#333"/>
<circle cx="209.31" cy="847.26" r="0.55" fill="#333"/>
<circle cx="207.97" cy="854.17" r="0.55" fill="#333"/>
<line x1="215.20" y1="861.50" x2="223.10" y2="861.50" stroke="#555" stroke-width="1.0"/>
<rect x="246.50" y="857.52" width="7.30" height="4.22" fill="#7c7c7c" stroke="none" stroke-width="1"/>
<line x1="250.15" y1="857.52" x2="250.15" y2="855.24" stroke="#222" stroke-width="0.7"/>
<line x1="248.30" y1="855.24" x2="252.00" y2="855.24" stroke="#222" stroke-width="0.7"/>
<circle cx="251.11" cy="861.75" r="0.55" fill="#222"/>
<circle cx="249.73" cy="861.16" r="0.55" fill="#222"/>
<circle cx="248.96" cy="856.45" r="0.55" fill="#222"/>
<circle cx="248.31" cy="856.77" r="0.55" fill="#222"/>
<circle cx="251.19" cy="853.07" r="0.55" fill="#222"/>
<circle cx="248.15" cy="861.25" r="0.55" fill="#222"/>
<circle cx="250.63" cy="861.75" r="0.55" fill="#222"/>
<circle cx="249.86" cy="855.54" r="0.55" fill="#222"/>
<circle cx="248.77" cy="859.80" r="0.55" fill="#222"/>
<circle cx="248.79" cy="857.03" r="0.55" fill="#222"/>
<circle cx="251.67" cy="861.06" r="0.55" fill="#222"/>
<circle cx="248.76" cy="853.98" r="0.55" fill="#222"/>
<circle cx="248.80" cy="857.63" r="0.55" fill="#222"/>
<circle cx="249.30" cy="853.44" r="0.55" fill="#222"/>
<circle cx="248.28" cy="856.98" r="0.55" fill="#222"/>
<circle cx="251.85" cy="851.73" r="0.55" fill="#222"/>
<circle cx="250.90" cy="861.75" r="0.55" fill="#222"/>
<circle cx="250.85" cy="848.76" r="0.55" fill="#222"/>
<rect x="257.75" y="845.70" width="7.30" height="16.05" fill="#fb3fb3" stroke="none" stroke-width="1"/>
<line x1="261.40" y1="845.70" x2="261.40" y2="842.94" stroke="#222" stroke-width="0.7"/>
<line x1="259.55" y1="842.94" x2="263.25" y2="842.94" stroke="#222" stroke-width="0.7"/>
<circle cx="259.87" cy="859.03" r="0.55" fill="#333"/>
<circle cx="262.07" cy="843.30" r="0.55" fill="#333"/>
<circle cx="262.32" cy="847.84" r="0.55" fill="#333"/>
<circle cx="260.05" cy="837.56" r="0.55" fill="#333"/>
<circle cx="260.32" cy="845.31" r="0.55" fill="#333"/>
<circle cx="259.71" cy="844.49" r="0.55" fill="#333"/>
<circle cx="260.86" cy="858.01" r="0.55" fill="#333"/>
<circle cx="260.65" cy="836.87" r="0.55" fill="#333"/>
<circle cx="262.33" cy="850.19" r="0.55" fill="#333"/>
<circle cx="262.27" cy="844.78" r="0.55" fill="#333"/>
<circle cx="262.09" cy="843.54" r="0.55" fill="#333"/>
<circle cx="263.16" cy="842.13" r="0.55" fill="#333"/>
<circle cx="263.30" cy="849.32" r="0.55" fill="#333"/>
<circle cx="259.43" cy="850.43" r="0.55" fill="#333"/>
<circle cx="261.04" cy="836.63" r="0.55" fill="#333"/>
<circle cx="259.58" cy="842.05" r="0.55" fill="#333"/>
<circle cx="261.48" cy="861.75" r="0.55" fill="#333"/>
<circle cx="260.80" cy="850.78" r="0.55" fill="#333"/>
<line x1="268.70" y1="861.50" x2="276.60" y2="861.50" stroke="#555" stroke-width="1.0"/>
<rect x="299.40" y="819.50" width="7.30" height="42.25" fill="#7c7c7c" stroke="none" stroke-width="1"/>
<line x1="303.05" y1="819.50" x2="303.05" y2="815.70" stroke="#222" stroke-width="0.7"/>
<line x1="301.20" y1="815.70" x2="304.90" y2="815.70" stroke="#222" stroke-width="0.7"/>
<circle cx="304.65" cy="814.77" r="0.55" fill="#222"/>
<circle cx="303.01" cy="816.34" r="0.55" fill="#222"/>
<circle cx="302.02" cy="814.98" r="0.55" fill="#222"/>
<circle cx="301.25" cy="821.43" r="0.55" fill="#222"/>
<circle cx="302.07" cy="823.66" r="0.55" fill="#222"/>
<circle cx="302.68" cy="816.37" r="0.55" fill="#222"/>
<circle cx="301.20" cy="821.15" r="0.55" fill="#222"/>
<circle cx="304.94" cy="814.99" r="0.55" fill="#222"/>
<circle cx="302.66" cy="811.93" r="0.55" fill="#222"/>
<circle cx="303.18" cy="803.58" r="0.55" fill="#222"/>
<circle cx="301.48" cy="808.43" r="0.55" fill="#222"/>
<circle cx="303.22" cy="813.01" r="0.55" fill="#222"/>
<circle cx="304.48" cy="801.92" r="0.55" fill="#222"/>
<circle cx="301.91" cy="828.98" r="0.55" fill="#222"/>
<circle cx="303.00" cy="801.19" r="0.55" fill="#222"/>
<circle cx="303.34" cy="817.49" r="0.55" fill="#222"/>
<circle cx="303.95" cy="834.30" r="0.55" fill="#222"/>
<circle cx="304.70" cy="805.00" r="0.55" fill="#222"/>
<rect x="310.65" y="805.98" width="7.30" height="55.77" fill="#fb3fb3" stroke="none" stroke-width="1"/>
<line x1="314.30" y1="805.98" x2="314.30" y2="801.64" stroke="#222" stroke-width="0.7"/>
<line x1="312.45" y1="801.64" x2="316.15" y2="801.64" stroke="#222" stroke-width="0.7"/>
<circle cx="315.61" cy="813.53" r="0.55" fill="#333"/>
<circle cx="313.20" cy="786.05" r="0.55" fill="#333"/>
<circle cx="312.65" cy="793.37" r="0.55" fill="#333"/>
<circle cx="315.39" cy="794.77" r="0.55" fill="#333"/>
<circle cx="312.82" cy="798.83" r="0.55" fill="#333"/>
<circle cx="312.63" cy="821.31" r="0.55" fill="#333"/>
<circle cx="314.01" cy="805.71" r="0.55" fill="#333"/>
<circle cx="314.61" cy="797.79" r="0.55" fill="#333"/>
<circle cx="315.10" cy="805.78" r="0.55" fill="#333"/>
<circle cx="312.49" cy="799.03" r="0.55" fill="#333"/>
<circle cx="313.80" cy="801.01" r="0.55" fill="#333"/>
<circle cx="312.69" cy="790.75" r="0.55" fill="#333"/>
<circle cx="315.31" cy="820.86" r="0.55" fill="#333"/>
<circle cx="314.52" cy="797.87" r="0.55" fill="#333"/>
<circle cx="315.34" cy="783.39" r="0.55" fill="#333"/>
<circle cx="314.60" cy="823.26" r="0.55" fill="#333"/>
<circle cx="314.92" cy="839.60" r="0.55" fill="#333"/>
<circle cx="316.12" cy="793.20" r="0.55" fill="#333"/>
<rect x="321.90" y="777.25" width="7.30" height="84.50" fill="#dadade" stroke="none" stroke-width="1"/>
<line x1="321.90" y1="777.50" x2="329.20" y2="777.50" stroke="#222" stroke-width="1.1"/>
<text x="149.90" y="774.25" font-size="10.2" text-anchor="middle" fill="#222">****</text>
<line x1="144.05" y1="772.50" x2="155.75" y2="772.50" stroke="#555" stroke-width="1"/>
<text x="201.60" y="774.25" font-size="10.2" text-anchor="middle" fill="#222">****</text>
<line x1="195.75" y1="772.50" x2="207.45" y2="772.50" stroke="#555" stroke-width="1"/>
<text x="255.10" y="774.25" font-size="10.2" text-anchor="middle" fill="#222">****</text>
<line x1="249.25" y1="772.50" x2="260.95" y2="772.50" stroke="#555" stroke-width="1"/>
<text x="308.00" y="774.25" font-size="10.2" text-anchor="middle" fill="#222">****</text>
<line x1="302.15" y1="772.50" x2="313.85" y2="772.50" stroke="#555" stroke-width="1"/>
<text transform="translate(151.90,785.25) scale(0.87,1)" font-size="11.2" fill="#222" text-anchor="middle">-31%</text>
<text transform="translate(203.60,785.25) scale(0.87,1)" font-size="11.2" fill="#222" text-anchor="middle">-66%</text>
<line x1="129.60" y1="962.50" x2="133.60" y2="962.50" stroke="#333" stroke-width="0.9"/>
<text x="128.30" y="967.00" font-size="10.1" text-anchor="end" fill="#222">0</text>
<line x1="129.60" y1="945.50" x2="133.60" y2="945.50" stroke="#333" stroke-width="0.9"/>
<text x="128.30" y="950.10" font-size="10.1" text-anchor="end" fill="#222">20</text>
<line x1="129.60" y1="928.50" x2="133.60" y2="928.50" stroke="#333" stroke-width="0.9"/>
<text x="128.30" y="933.20" font-size="10.1" text-anchor="end" fill="#222">40</text>
<line x1="129.60" y1="911.50" x2="133.60" y2="911.50" stroke="#333" stroke-width="0.9"/>
<text x="128.30" y="916.30" font-size="10.1" text-anchor="end" fill="#222">60</text>
<line x1="129.60" y1="894.50" x2="133.60" y2="894.50" stroke="#333" stroke-width="0.9"/>
<text x="128.30" y="899.40" font-size="10.1" text-anchor="end" fill="#222">80</text>
<line x1="129.60" y1="877.50" x2="133.60" y2="877.50" stroke="#333" stroke-width="0.9"/>
<text x="128.30" y="882.50" font-size="10.1" text-anchor="end" fill="#222">100</text>
<line x1="133.50" y1="877.20" x2="133.50" y2="962.20" stroke="#333" stroke-width="1"/>
<line x1="133.60" y1="962.50" x2="343.80" y2="962.50" stroke="#333" stroke-width="1"/>
<rect x="141.30" y="936.00" width="7.30" height="26.20" fill="#7c7c7c" stroke="none" stroke-width="1"/>
<line x1="144.95" y1="936.00" x2="144.95" y2="932.84" stroke="#222" stroke-width="0.7"/>
<line x1="143.10" y1="932.84" x2="146.80" y2="932.84" stroke="#222" stroke-width="0.7"/>
<circle cx="144.02" cy="937.97" r="0.55" fill="#222"/>
<circle cx="146.20" cy="950.12" r="0.55" fill="#222"/>
<circle cx="143.21" cy="939.59" r="0.55" fill="#222"/>
<circle cx="143.63" cy="932.74" r="0.55" fill="#222"/>
<circle cx="144.09" cy="937.09" r="0.55" fill="#222"/>
<circle cx="143.20" cy="922.29" r="0.55" fill="#222"/>
<circle cx="143.06" cy="934.99" r="0.55" fill="#222"/>
<circle cx="143.15" cy="947.66" r="0.55" fill="#222"/>
<circle cx="146.39" cy="930.11" r="0.55" fill="#222"/>
<circle cx="146.75" cy="929.72" r="0.55" fill="#222"/>
<circle cx="144.67" cy="941.07" r="0.55" fill="#222"/>
<circle cx="144.40" cy="940.31" r="0.55" fill="#222"/>
<circle cx="145.29" cy="936.71" r="0.55" fill="#222"/>
<circle cx="146.26" cy="934.74" r="0.55" fill="#222"/>
<circle cx="145.07" cy="936.60" r="0.55" fill="#222"/>
<circle cx="143.63" cy="940.06" r="0.55" fill="#222"/>
<circle cx="146.70" cy="938.52" r="0.55" fill="#222"/>
<circle cx="146.13" cy="945.65" r="0.55" fill="#222"/>
<rect x="152.55" y="951.21" width="7.30" height="10.98" fill="#fb3fb3" stroke="none" stroke-width="1"/>
<line x1="156.20" y1="951.21" x2="156.20" y2="948.66" stroke="#222" stroke-width="0.7"/>
<line x1="154.35" y1="948.66" x2="158.05" y2="948.66" stroke="#222" stroke-width="0.7"/>
<circle cx="157.86" cy="947.95" r="0.55" fill="#333"/>
<circle cx="156.04" cy="948.22" r="0.55" fill="#333"/>
<circle cx="157.27" cy="956.23" r="0.55" fill="#333"/>
<circle cx="157.95" cy="949.02" r="0.55" fill="#333"/>
<circle cx="156.58" cy="962.20" r="0.55" fill="#333"/>
<circle cx="154.61" cy="953.94" r="0.55" fill="#333"/>
<circle cx="154.41" cy="949.14" r="0.55" fill="#333"/>
<circle cx="158.11" cy="956.08" r="0.55" fill="#333"/>
<circle cx="156.13" cy="944.71" r="0.55" fill="#333"/>
<circle cx="157.73" cy="949.85" r="0.55" fill="#333"/>
<circle cx="155.31" cy="953.98" r="0.55" fill="#333"/>
<circle cx="155.00" cy="949.01" r="0.55" fill="#333"/>
<circle cx="157.20" cy="955.62" r="0.55" fill="#333"/>
<circle cx="155.17" cy="953.04" r="0.55" fill="#333"/>
<circle cx="158.13" cy="953.50" r="0.55" fill="#333"/>
<circle cx="157.56" cy="948.14" r="0.55" fill="#333"/>
<circle cx="155.80" cy="947.09" r="0.55" fill="#333"/>
<circle cx="154.77" cy="956.91" r="0.55" fill="#333"/>
<line x1="163.50" y1="961.50" x2="171.40" y2="961.50" stroke="#555" stroke-width="1.0"/>
<rect x="175.05" y="961.35" width="7.30" height="0.84" fill="#3a83aa" stroke="none" stroke-width="1"/>
<line x1="178.70" y1="961.35" x2="178.70" y2="959.21" stroke="#222" stroke-width="0.7"/>
<line x1="176.85" y1="959.21" x2="180.55" y2="959.21" stroke="#222" stroke-width="0.7"/>
<circle cx="176.85" cy="958.47" r="0.55" fill="#222"/>
<circle cx="177.38" cy="962.20" r="0.55" fill="#222"/>
<circle cx="180.30" cy="954.79" r="0.55" fill="#222"/>
<circle cx="177.50" cy="956.67" r="0.55" fill="#222"/>
<circle cx="179.43" cy="960.05" r="0.55" fill="#222"/>
<circle cx="180.15" cy="962.20" r="0.55" fill="#222"/>
<circle cx="178.21" cy="962.20" r="0.55" fill="#222"/>
<circle cx="176.74" cy="962.20" r="0.55" fill="#222"/>
<circle cx="177.44" cy="962.20" r="0.55" fill="#222"/>
<circle cx="178.26" cy="961.85" r="0.55" fill="#222"/>
<circle cx="177.95" cy="961.84" r="0.55" fill="#222"/>
<circle cx="178.23" cy="960.27" r="0.55" fill="#222"/>
<circle cx="178.30" cy="962.20" r="0.55" fill="#222"/>
<circle cx="180.63" cy="960.17" r="0.55" fill="#222"/>
<circle cx="179.47" cy="956.75" r="0.55" fill="#222"/>
<circle cx="179.38" cy="962.20" r="0.55" fill="#222"/>
<circle cx="178.15" cy="962.20" r="0.55" fill="#222"/>
<circle cx="179.07" cy="962.20" r="0.55" fill="#222"/>
<rect x="193.00" y="938.54" width="7.30" height="23.66" fill="#7c7c7c" stroke="none" stroke-width="1"/>
<line x1="196.65" y1="938.54" x2="196.65" y2="935.48" stroke="#222" stroke-width="0.7"/>
<line x1="194.80" y1="935.48" x2="198.50" y2="935.48" stroke="#222" stroke-width="0.7"/>
<circle cx="195.79" cy="942.86" r="0.55" fill="#222"/>
<circle cx="194.96" cy="947.63" r="0.55" fill="#222"/>
<circle cx="196.97" cy="931.91" r="0.55" fill="#222"/>
<circle cx="197.69" cy="934.49" r="0.55" fill="#222"/>
<circle cx="198.37" cy="940.11" r="0.55" fill="#222"/>
<circle cx="195.75" cy="945.45" r="0.55" fill="#222"/>
<circle cx="197.66" cy="939.22" r="0.55" fill="#222"/>
<circle cx="197.33" cy="941.67" r="0.55" fill="#222"/>
<circle cx="197.40" cy="921.52" r="0.55" fill="#222"/>
<circle cx="198.00" cy="943.26" r="0.55" fill="#222"/>
<circle cx="195.48" cy="939.35" r="0.55" fill="#222"/>
<circle cx="196.72" cy="949.89" r="0.55" fill="#222"/>
<circle cx="198.55" cy="933.68" r="0.55" fill="#222"/>
<circle cx="196.83" cy="942.26" r="0.55" fill="#222"/>
<circle cx="196.21" cy="939.04" r="0.55" fill="#222"/>
<circle cx="195.36" cy="938.14" r="0.55" fill="#222"/>
<circle cx="198.29" cy="948.69" r="0.55" fill="#222"/>
<circle cx="197.10" cy="953.10" r="0.55" fill="#222"/>
<rect x="204.25" y="961.35" width="7.30" height="0.84" fill="#fb3fb3" stroke="none" stroke-width="1"/>
<line x1="207.90" y1="961.35" x2="207.90" y2="959.21" stroke="#222" stroke-width="0.7"/>
<line x1="206.05" y1="959.21" x2="209.75" y2="959.21" stroke="#222" stroke-width="0.7"/>
<circle cx="208.66" cy="962.20" r="0.55" fill="#333"/>
<circle cx="208.11" cy="959.76" r="0.55" fill="#333"/>
<circle cx="209.45" cy="962.20" r="0.55" fill="#333"/>
<circle cx="206.75" cy="962.20" r="0.55" fill="#333"/>
<circle cx="208.39" cy="962.20" r="0.55" fill="#333"/>
<circle cx="209.49" cy="957.59" r="0.55" fill="#333"/>
<circle cx="208.97" cy="957.80" r="0.55" fill="#333"/>
<circle cx="206.80" cy="955.12" r="0.55" fill="#333"/>
<circle cx="209.22" cy="955.31" r="0.55" fill="#333"/>
<circle cx="209.41" cy="958.84" r="0.55" fill="#333"/>
<circle cx="207.60" cy="962.08" r="0.55" fill="#333"/>
<circle cx="208.02" cy="962.20" r="0.55" fill="#333"/>
<circle cx="207.02" cy="957.80" r="0.55" fill="#333"/>
<circle cx="208.32" cy="962.20" r="0.55" fill="#333"/>
<circle cx="206.02" cy="958.16" r="0.55" fill="#333"/>
<circle cx="206.36" cy="962.04" r="0.55" fill="#333"/>
<circle cx="206.64" cy="962.20" r="0.55" fill="#333"/>
<circle cx="206.66" cy="962.20" r="0.55" fill="#333"/>
<line x1="215.20" y1="961.50" x2="223.10" y2="961.50" stroke="#555" stroke-width="1.0"/>
<line x1="226.45" y1="961.50" x2="234.35" y2="961.50" stroke="#555" stroke-width="1.0"/>
<rect x="246.50" y="960.51" width="7.30" height="1.69" fill="#7c7c7c" stroke="none" stroke-width="1"/>
<line x1="250.15" y1="960.51" x2="250.15" y2="958.33" stroke="#222" stroke-width="0.7"/>
<line x1="248.30" y1="958.33" x2="252.00" y2="958.33" stroke="#222" stroke-width="0.7"/>
<circle cx="250.91" cy="962.20" r="0.55" fill="#222"/>
<circle cx="251.07" cy="962.20" r="0.55" fill="#222"/>
<circle cx="251.49" cy="955.10" r="0.55" fill="#222"/>
<circle cx="251.98" cy="958.31" r="0.55" fill="#222"/>
<circle cx="250.73" cy="962.20" r="0.55" fill="#222"/>
<circle cx="251.86" cy="951.53" r="0.55" fill="#222"/>
<circle cx="251.51" cy="959.48" r="0.55" fill="#222"/>
<circle cx="250.06" cy="952.74" r="0.55" fill="#222"/>
<circle cx="248.78" cy="957.83" r="0.55" fill="#222"/>
<circle cx="248.52" cy="958.54" r="0.55" fill="#222"/>
<circle cx="248.57" cy="956.46" r="0.55" fill="#222"/>
<circle cx="251.18" cy="954.79" r="0.55" fill="#222"/>
<circle cx="251.36" cy="961.32" r="0.55" fill="#222"/>
<circle cx="251.00" cy="962.20" r="0.55" fill="#222"/>
<circle cx="250.65" cy="949.22" r="0.55" fill="#222"/>
<circle cx="252.01" cy="962.20" r="0.55" fill="#222"/>
<circle cx="248.41" cy="958.63" r="0.55" fill="#222"/>
<circle cx="248.98" cy="959.08" r="0.55" fill="#222"/>
<rect x="257.75" y="952.06" width="7.30" height="10.14" fill="#fb3fb3" stroke="none" stroke-width="1"/>
<line x1="261.40" y1="952.06" x2="261.40" y2="949.54" stroke="#222" stroke-width="0.7"/>
<line x1="259.55" y1="949.54" x2="263.25" y2="949.54" stroke="#222" stroke-width="0.7"/>
<circle cx="262.12" cy="956.02" r="0.55" fill="#333"/>
<circle cx="262.37" cy="948.07" r="0.55" fill="#333"/>
<circle cx="261.57" cy="947.61" r="0.55" fill="#333"/>
<circle cx="260.90" cy="949.47" r="0.55" fill="#333"/>
<circle cx="260.90" cy="947.01" r="0.55" fill="#333"/>
<circle cx="262.13" cy="947.46" r="0.55" fill="#333"/>
<circle cx="263.18" cy="962.20" r="0.55" fill="#333"/>
<circle cx="259.69" cy="951.69" r="0.55" fill="#333"/>
<circle cx="260.58" cy="951.56" r="0.55" fill="#333"/>
<circle cx="259.87" cy="960.15" r="0.55" fill="#333"/>
<circle cx="262.35" cy="956.76" r="0.55" fill="#333"/>
<circle cx="263.07" cy="951.44" r="0.55" fill="#333"/>
<circle cx="261.40" cy="955.16" r="0.55" fill="#333"/>
<circle cx="262.19" cy="949.22" r="0.55" fill="#333"/>
<circle cx="260.58" cy="950.45" r="0.55" fill="#333"/>
<circle cx="260.75" cy="958.50" r="0.55" fill="#333"/>
<circle cx="259.60" cy="948.52" r="0.55" fill="#333"/>
<circle cx="261.08" cy="957.07" r="0.55" fill="#333"/>
<line x1="268.70" y1="961.50" x2="276.60" y2="961.50" stroke="#555" stroke-width="1.0"/>
<line x1="279.95" y1="961.50" x2="287.85" y2="961.50" stroke="#555" stroke-width="1.0"/>
<rect x="299.40" y="904.74" width="7.30" height="57.46" fill="#7c7c7c" stroke="none" stroke-width="1"/>
<line x1="303.05" y1="904.74" x2="303.05" y2="900.33" stroke="#222" stroke-width="0.7"/>
<line x1="301.20" y1="900.33" x2="304.90" y2="900.33" stroke="#222" stroke-width="0.7"/>
<circle cx="301.34" cy="902.47" r="0.55" fill="#222"/>
<circle cx="302.13" cy="878.54" r="0.55" fill="#222"/>
<circle cx="304.99" cy="885.87" r="0.55" fill="#222"/>
<circle cx="303.22" cy="891.74" r="0.55" fill="#222"/>
<circle cx="301.42" cy="940.15" r="0.55" fill="#222"/>
<circle cx="302.47" cy="878.54" r="0.55" fill="#222"/>
<circle cx="304.11" cy="903.98" r="0.55" fill="#222"/>
<circle cx="302.49" cy="906.63" r="0.55" fill="#222"/>
<circle cx="302.88" cy="889.54" r="0.55" fill="#222"/>
<circle cx="302.58" cy="903.17" r="0.55" fill="#222"/>
<circle cx="301.92" cy="911.35" r="0.55" fill="#222"/>
<circle cx="304.95" cy="905.44" r="0.55" fill="#222"/>
<circle cx="301.39" cy="926.01" r="0.55" fill="#222"/>
<circle cx="302.17" cy="896.73" r="0.55" fill="#222"/>
<circle cx="303.08" cy="878.54" r="0.55" fill="#222"/>
<circle cx="301.26" cy="913.34" r="0.55" fill="#222"/>
<circle cx="302.79" cy="932.02" r="0.55" fill="#222"/>
<circle cx="303.42" cy="882.95" r="0.55" fill="#222"/>
<rect x="310.65" y="889.53" width="7.30" height="72.67" fill="#fb3fb3" stroke="none" stroke-width="1"/>
<line x1="314.30" y1="889.53" x2="314.30" y2="884.51" stroke="#222" stroke-width="0.7"/>
<line x1="312.45" y1="884.51" x2="316.15" y2="884.51" stroke="#222" stroke-width="0.7"/>
<circle cx="314.84" cy="878.54" r="0.55" fill="#333"/>
<circle cx="312.44" cy="910.61" r="0.55" fill="#333"/>
<circle cx="313.95" cy="878.54" r="0.55" fill="#333"/>
<circle cx="315.80" cy="883.03" r="0.55" fill="#333"/>
<circle cx="313.81" cy="878.54" r="0.55" fill="#333"/>
<circle cx="316.30" cy="939.78" r="0.55" fill="#333"/>
<circle cx="312.89" cy="887.43" r="0.55" fill="#333"/>
<circle cx="315.42" cy="943.13" r="0.55" fill="#333"/>
<circle cx="316.28" cy="949.59" r="0.55" fill="#333"/>
<circle cx="313.17" cy="878.54" r="0.55" fill="#333"/>
<circle cx="314.18" cy="907.33" r="0.55" fill="#333"/>
<circle cx="313.45" cy="879.95" r="0.55" fill="#333"/>
<circle cx="312.98" cy="896.07" r="0.55" fill="#333"/>
<circle cx="314.13" cy="900.83" r="0.55" fill="#333"/>
<circle cx="315.89" cy="878.54" r="0.55" fill="#333"/>
<circle cx="315.84" cy="878.54" r="0.55" fill="#333"/>
<circle cx="315.61" cy="887.91" r="0.55" fill="#333"/>
<circle cx="316.14" cy="884.89" r="0.55" fill="#333"/>
<rect x="321.90" y="877.70" width="7.30" height="84.50" fill="#dadade" stroke="none" stroke-width="1"/>
<line x1="321.90" y1="878.50" x2="329.20" y2="878.50" stroke="#222" stroke-width="1.1"/>
<rect x="333.15" y="877.70" width="7.30" height="84.50" fill="#3a83aa" stroke="none" stroke-width="1"/>
<line x1="333.15" y1="878.50" x2="340.45" y2="878.50" stroke="#222" stroke-width="1.1"/>
<text x="149.90" y="874.70" font-size="10.2" text-anchor="middle" fill="#222">****</text>
<line x1="144.05" y1="872.50" x2="155.75" y2="872.50" stroke="#555" stroke-width="1"/>
<text x="201.60" y="874.70" font-size="10.2" text-anchor="middle" fill="#222">****</text>
<line x1="195.75" y1="872.50" x2="207.45" y2="872.50" stroke="#555" stroke-width="1"/>
<text x="255.10" y="874.70" font-size="10.2" text-anchor="middle" fill="#222">*</text>
<line x1="250.60" y1="872.50" x2="259.60" y2="872.50" stroke="#555" stroke-width="1"/>
<text x="308.00" y="874.70" font-size="10.2" text-anchor="middle" fill="#222">****</text>
<line x1="302.15" y1="872.50" x2="313.85" y2="872.50" stroke="#555" stroke-width="1"/>
<text transform="translate(151.90,885.70) scale(0.87,1)" font-size="11.2" fill="#222" text-anchor="middle">-57%</text>
<text transform="translate(203.60,885.70) scale(0.87,1)" font-size="11.2" fill="#222" text-anchor="middle">-96%</text>
<text transform="translate(102.21,812.00) rotate(-90)" font-size="12.6" font-weight="bold" text-anchor="middle" fill="#000">% of total stereocilia</text>
<rect x="44.10" y="699.20" width="36.00" height="20.50" fill="#d7d7d7" stroke="none" stroke-width="1"/>
<text x="62.10" y="714.90" font-size="14.3" text-anchor="middle" fill="#111">P7</text>
<rect x="44.10" y="799.40" width="36.00" height="20.50" fill="#d7d7d7" stroke="none" stroke-width="1"/>
<text x="62.10" y="815.10" font-size="14.3" text-anchor="middle" fill="#111">P11</text>
<rect x="44.10" y="900.00" width="36.00" height="20.50" fill="#d7d7d7" stroke="none" stroke-width="1"/>
<text x="62.10" y="915.70" font-size="14.3" text-anchor="middle" fill="#111">P21</text>
<text x="464.60" y="581.80" font-size="15.24" fill="#111">Row 3 TMC1 distribution pattern</text>
<line x1="465.00" y1="586.20" x2="685.00" y2="586.20" stroke="#444" stroke-width="0.8"/>
<text x="493.70" y="600.30" font-size="11.3" text-anchor="middle" fill="#111">with gold</text>
<text x="549.40" y="600.30" font-size="11.3" text-anchor="middle" fill="#111">&lt;100 nm</text>
<text x="603.40" y="600.30" font-size="11.3" text-anchor="middle" fill="#111">&gt;100 nm</text>
<text x="654.90" y="600.30" font-size="11.3" text-anchor="middle" fill="#111">no gold</text>
<line x1="523.00" y1="587.50" x2="523.00" y2="865.00" stroke="#555" stroke-width="0.8"/>
<line x1="576.50" y1="587.50" x2="576.50" y2="865.00" stroke="#555" stroke-width="0.8"/>
<line x1="629.70" y1="587.50" x2="629.70" y2="865.00" stroke="#555" stroke-width="0.8"/>
<path d="M492.70,616.30 L493.70,656.50 Q495.80,657.90 497.90,656.50 L498.90,616.30 Q498.90,614.00 495.80,614.00 Q492.70,614.00 492.70,616.30 Z" fill="#e8dba6" stroke="#8a7a50" stroke-width="0.5"/>
<circle cx="495.90" cy="619.60" r="1.5" fill="url(#goldg)" stroke="#b58a1c" stroke-width="0.3"/>
<circle cx="495.20" cy="634.00" r="1.5" fill="url(#goldg)" stroke="#b58a1c" stroke-width="0.3"/>
<path d="M546.50,616.30 L547.50,656.50 Q549.60,657.90 551.70,656.50 L552.70,616.30 Q552.70,614.00 549.60,614.00 Q546.50,614.00 546.50,616.30 Z" fill="#fff" stroke="#777" stroke-width="0.55"/>
<path d="M546.50,620.80 L546.50,616.30 Q546.50,614.00 549.60,614.00 Q552.70,614.00 552.70,616.30 L552.60,620.80 Z" fill="#e8dba6" stroke="#8a7a50" stroke-width="0.4"/>
<circle cx="549.70" cy="619.60" r="1.5" fill="url(#goldg)" stroke="#b58a1c" stroke-width="0.3"/>
<path d="M600.20,616.30 L601.20,656.50 Q603.30,657.90 605.40,656.50 L606.40,616.30 Q606.40,614.00 603.30,614.00 Q600.20,614.00 600.20,616.30 Z" fill="#e8dba6" stroke="#8a7a50" stroke-width="0.5"/>
<path d="M600.20,620.80 L600.20,616.30 Q600.20,614.00 603.30,614.00 Q606.40,614.00 606.40,616.30 L606.30,620.80 Q603.30,621.80 600.20,620.80 Z" fill="#fff" stroke="#666" stroke-width="0.5"/>
<circle cx="602.40" cy="635.70" r="1.5" fill="url(#goldg)" stroke="#b58a1c" stroke-width="0.3"/>
<path d="M653.80,616.30 L654.80,656.50 Q656.90,657.90 659.00,656.50 L660.00,616.30 Q660.00,614.00 656.90,614.00 Q653.80,614.00 653.80,616.30 Z" fill="#fff" stroke="#777" stroke-width="0.55"/>
<line x1="468.90" y1="761.50" x2="472.90" y2="761.50" stroke="#333" stroke-width="0.9"/>
<text x="467.60" y="765.80" font-size="10.1" text-anchor="end" fill="#222">0</text>
<line x1="468.90" y1="744.50" x2="472.90" y2="744.50" stroke="#333" stroke-width="0.9"/>
<text x="467.60" y="748.90" font-size="10.1" text-anchor="end" fill="#222">20</text>
<line x1="468.90" y1="727.50" x2="472.90" y2="727.50" stroke="#333" stroke-width="0.9"/>
<text x="467.60" y="732.00" font-size="10.1" text-anchor="end" fill="#222">40</text>
<line x1="468.90" y1="710.50" x2="472.90" y2="710.50" stroke="#333" stroke-width="0.9"/>
<text x="467.60" y="715.10" font-size="10.1" text-anchor="end" fill="#222">60</text>
<line x1="468.90" y1="693.50" x2="472.90" y2="693.50" stroke="#333" stroke-width="0.9"/>
<text x="467.60" y="698.20" font-size="10.1" text-anchor="end" fill="#222">80</text>
<line x1="468.90" y1="676.50" x2="472.90" y2="676.50" stroke="#333" stroke-width="0.9"/>
<text x="467.60" y="681.30" font-size="10.1" text-anchor="end" fill="#222">100</text>
<line x1="472.50" y1="676.00" x2="472.50" y2="761.00" stroke="#333" stroke-width="1"/>
<line x1="472.90" y1="761.50" x2="681.80" y2="761.50" stroke="#333" stroke-width="1"/>
<rect x="480.60" y="733.96" width="7.30" height="27.04" fill="#7c7c7c" stroke="none" stroke-width="1"/>
<line x1="484.25" y1="733.96" x2="484.25" y2="730.77" stroke="#222" stroke-width="0.7"/>
<line x1="482.40" y1="730.77" x2="486.10" y2="730.77" stroke="#222" stroke-width="0.7"/>
<circle cx="482.80" cy="742.86" r="0.55" fill="#222"/>
<circle cx="485.72" cy="731.85" r="0.55" fill="#222"/>
<circle cx="485.84" cy="722.78" r="0.55" fill="#222"/>
<circle cx="482.57" cy="733.51" r="0.55" fill="#222"/>
<circle cx="482.41" cy="746.31" r="0.55" fill="#222"/>
<circle cx="483.77" cy="738.34" r="0.55" fill="#222"/>
<circle cx="485.15" cy="736.95" r="0.55" fill="#222"/>
<circle cx="482.88" cy="743.90" r="0.55" fill="#222"/>
<circle cx="484.28" cy="733.61" r="0.55" fill="#222"/>
<circle cx="485.95" cy="729.38" r="0.55" fill="#222"/>
<circle cx="483.78" cy="747.72" r="0.55" fill="#222"/>
<circle cx="485.23" cy="742.75" r="0.55" fill="#222"/>
<circle cx="484.95" cy="727.66" r="0.55" fill="#222"/>
<circle cx="485.15" cy="729.28" r="0.55" fill="#222"/>
<circle cx="483.32" cy="737.53" r="0.55" fill="#222"/>
<circle cx="483.09" cy="732.05" r="0.55" fill="#222"/>
<circle cx="483.05" cy="737.32" r="0.55" fill="#222"/>
<circle cx="485.80" cy="717.06" r="0.55" fill="#222"/>
<rect x="491.85" y="755.93" width="7.30" height="5.07" fill="#fb3fb3" stroke="none" stroke-width="1"/>
<line x1="495.50" y1="755.93" x2="495.50" y2="753.61" stroke="#222" stroke-width="0.7"/>
<line x1="493.65" y1="753.61" x2="497.35" y2="753.61" stroke="#222" stroke-width="0.7"/>
<circle cx="495.02" cy="754.69" r="0.55" fill="#333"/>
<circle cx="495.47" cy="757.10" r="0.55" fill="#333"/>
<circle cx="497.13" cy="750.66" r="0.55" fill="#333"/>
<circle cx="493.95" cy="755.15" r="0.55" fill="#333"/>
<circle cx="495.81" cy="758.04" r="0.55" fill="#333"/>
<circle cx="497.08" cy="757.40" r="0.55" fill="#333"/>
<circle cx="493.83" cy="755.74" r="0.55" fill="#333"/>
<circle cx="495.66" cy="755.31" r="0.55" fill="#333"/>
<circle cx="495.49" cy="753.81" r="0.55" fill="#333"/>
<circle cx="497.18" cy="755.70" r="0.55" fill="#333"/>
<circle cx="496.05" cy="760.41" r="0.55" fill="#333"/>
<circle cx="493.87" cy="753.47" r="0.55" fill="#333"/>
<circle cx="495.94" cy="758.67" r="0.55" fill="#333"/>
<circle cx="497.33" cy="757.43" r="0.55" fill="#333"/>
<circle cx="495.93" cy="749.85" r="0.55" fill="#333"/>
<circle cx="494.10" cy="753.78" r="0.55" fill="#333"/>
<circle cx="497.49" cy="757.82" r="0.55" fill="#333"/>
<circle cx="493.99" cy="739.57" r="0.55" fill="#333"/>
<line x1="502.80" y1="760.50" x2="510.70" y2="760.50" stroke="#555" stroke-width="1.0"/>
<rect x="530.70" y="733.96" width="7.30" height="27.04" fill="#7c7c7c" stroke="none" stroke-width="1"/>
<line x1="534.35" y1="733.96" x2="534.35" y2="730.77" stroke="#222" stroke-width="0.7"/>
<line x1="532.50" y1="730.77" x2="536.20" y2="730.77" stroke="#222" stroke-width="0.7"/>
<circle cx="533.30" cy="740.38" r="0.55" fill="#222"/>
<circle cx="534.79" cy="756.29" r="0.55" fill="#222"/>
<circle cx="535.05" cy="725.25" r="0.55" fill="#222"/>
<circle cx="534.71" cy="731.55" r="0.55" fill="#222"/>
<circle cx="533.74" cy="733.34" r="0.55" fill="#222"/>
<circle cx="535.81" cy="737.94" r="0.55" fill="#222"/>
<circle cx="533.96" cy="742.91" r="0.55" fill="#222"/>
<circle cx="536.29" cy="739.19" r="0.55" fill="#222"/>
<circle cx="535.55" cy="735.59" r="0.55" fill="#222"/>
<circle cx="533.66" cy="734.78" r="0.55" fill="#222"/>
<circle cx="534.13" cy="739.95" r="0.55" fill="#222"/>
<circle cx="533.65" cy="731.30" r="0.55" fill="#222"/>
<circle cx="532.76" cy="722.65" r="0.55" fill="#222"/>
<circle cx="535.49" cy="726.90" r="0.55" fill="#222"/>
<circle cx="535.58" cy="717.68" r="0.55" fill="#222"/>
<circle cx="534.34" cy="731.34" r="0.55" fill="#222"/>
<circle cx="535.30" cy="735.76" r="0.55" fill="#222"/>
<circle cx="534.05" cy="740.88" r="0.55" fill="#222"/>
<rect x="541.95" y="755.93" width="7.30" height="5.07" fill="#fb3fb3" stroke="none" stroke-width="1"/>
<line x1="545.60" y1="755.93" x2="545.60" y2="753.61" stroke="#222" stroke-width="0.7"/>
<line x1="543.75" y1="753.61" x2="547.45" y2="753.61" stroke="#222" stroke-width="0.7"/>
<circle cx="545.20" cy="754.37" r="0.55" fill="#333"/>
<circle cx="545.09" cy="742.95" r="0.55" fill="#333"/>
<circle cx="546.27" cy="752.83" r="0.55" fill="#333"/>
<circle cx="544.28" cy="759.68" r="0.55" fill="#333"/>
<circle cx="543.80" cy="753.76" r="0.55" fill="#333"/>
<circle cx="547.50" cy="759.20" r="0.55" fill="#333"/>
<circle cx="547.54" cy="750.21" r="0.55" fill="#333"/>
<circle cx="546.03" cy="745.08" r="0.55" fill="#333"/>
<circle cx="544.43" cy="754.14" r="0.55" fill="#333"/>
<circle cx="545.16" cy="755.80" r="0.55" fill="#333"/>
<circle cx="545.02" cy="761.00" r="0.55" fill="#333"/>
<circle cx="544.16" cy="761.00" r="0.55" fill="#333"/>
<circle cx="543.95" cy="758.48" r="0.55" fill="#333"/>
<circle cx="545.82" cy="756.98" r="0.55" fill="#333"/>
<circle cx="545.41" cy="756.55" r="0.55" fill="#333"/>
<circle cx="546.42" cy="757.69" r="0.55" fill="#333"/>
<circle cx="547.15" cy="755.49" r="0.55" fill="#333"/>
<circle cx="544.28" cy="760.89" r="0.55" fill="#333"/>
<line x1="552.90" y1="760.50" x2="560.80" y2="760.50" stroke="#555" stroke-width="1.0"/>
<line x1="583.90" y1="760.50" x2="591.80" y2="760.50" stroke="#555" stroke-width="1.0"/>
<line x1="595.15" y1="760.50" x2="603.05" y2="760.50" stroke="#555" stroke-width="1.0"/>
<line x1="606.40" y1="760.50" x2="614.30" y2="760.50" stroke="#555" stroke-width="1.0"/>
<rect x="637.40" y="703.54" width="7.30" height="57.46" fill="#7c7c7c" stroke="none" stroke-width="1"/>
<line x1="641.05" y1="703.54" x2="641.05" y2="699.13" stroke="#222" stroke-width="0.7"/>
<line x1="639.20" y1="699.13" x2="642.90" y2="699.13" stroke="#222" stroke-width="0.7"/>
<circle cx="642.57" cy="710.98" r="0.55" fill="#222"/>
<circle cx="641.03" cy="737.30" r="0.55" fill="#222"/>
<circle cx="641.17" cy="698.39" r="0.55" fill="#222"/>
<circle cx="639.74" cy="699.84" r="0.55" fill="#222"/>
<circle cx="642.17" cy="709.33" r="0.55" fill="#222"/>
<circle cx="639.94" cy="709.68" r="0.55" fill="#222"/>
<circle cx="640.88" cy="691.07" r="0.55" fill="#222"/>
<circle cx="641.29" cy="702.52" r="0.55" fill="#222"/>
<circle cx="640.98" cy="713.01" r="0.55" fill="#222"/>
<circle cx="642.84" cy="695.53" r="0.55" fill="#222"/>
<circle cx="639.17" cy="750.25" r="0.55" fill="#222"/>
<circle cx="643.02" cy="714.11" r="0.55" fill="#222"/>
<circle cx="641.14" cy="684.21" r="0.55" fill="#222"/>
<circle cx="641.20" cy="719.74" r="0.55" fill="#222"/>
<circle cx="641.62" cy="697.30" r="0.55" fill="#222"/>
<circle cx="641.22" cy="707.53" r="0.55" fill="#222"/>
<circle cx="641.93" cy="713.59" r="0.55" fill="#222"/>
<circle cx="639.46" cy="677.35" r="0.55" fill="#222"/>
<rect x="648.65" y="680.73" width="7.30" height="80.27" fill="#fb3fb3" stroke="none" stroke-width="1"/>
<line x1="652.30" y1="680.73" x2="652.30" y2="675.40" stroke="#222" stroke-width="0.7"/>
<line x1="650.45" y1="675.40" x2="654.15" y2="675.40" stroke="#222" stroke-width="0.7"/>
<circle cx="652.26" cy="690.36" r="0.55" fill="#333"/>
<circle cx="652.85" cy="710.07" r="0.55" fill="#333"/>
<circle cx="651.79" cy="677.35" r="0.55" fill="#333"/>
<circle cx="653.81" cy="677.35" r="0.55" fill="#333"/>
<circle cx="653.22" cy="677.35" r="0.55" fill="#333"/>
<circle cx="652.80" cy="677.35" r="0.55" fill="#333"/>
<circle cx="652.69" cy="677.35" r="0.55" fill="#333"/>
<circle cx="652.75" cy="686.08" r="0.55" fill="#333"/>
<circle cx="650.58" cy="693.26" r="0.55" fill="#333"/>
<circle cx="651.06" cy="706.55" r="0.55" fill="#333"/>
<circle cx="650.56" cy="694.55" r="0.55" fill="#333"/>
<circle cx="651.72" cy="691.89" r="0.55" fill="#333"/>
<circle cx="650.40" cy="714.92" r="0.55" fill="#333"/>
<circle cx="653.40" cy="677.35" r="0.55" fill="#333"/>
<circle cx="650.33" cy="705.41" r="0.55" fill="#333"/>
<circle cx="654.12" cy="677.35" r="0.55" fill="#333"/>
<circle cx="654.25" cy="745.58" r="0.55" fill="#333"/>
<circle cx="653.63" cy="722.03" r="0.55" fill="#333"/>
<rect x="659.90" y="676.50" width="7.30" height="84.50" fill="#dadade" stroke="none" stroke-width="1"/>
<line x1="659.90" y1="676.50" x2="667.20" y2="676.50" stroke="#222" stroke-width="1.1"/>
<text x="489.20" y="673.50" font-size="10.2" text-anchor="middle" fill="#222">****</text>
<line x1="483.35" y1="671.50" x2="495.05" y2="671.50" stroke="#555" stroke-width="1"/>
<text x="539.30" y="673.50" font-size="10.2" text-anchor="middle" fill="#222">****</text>
<line x1="533.45" y1="671.50" x2="545.15" y2="671.50" stroke="#555" stroke-width="1"/>
<text x="593.30" y="669.90" font-size="7.2" text-anchor="middle" fill="#222">ns</text>
<line x1="587.20" y1="671.50" x2="599.60" y2="671.50" stroke="#555" stroke-width="1"/>
<text x="646.00" y="673.50" font-size="10.2" text-anchor="middle" fill="#222">****</text>
<line x1="640.15" y1="671.50" x2="651.85" y2="671.50" stroke="#555" stroke-width="1"/>
<text transform="translate(491.20,684.50) scale(0.87,1)" font-size="11.2" fill="#222" text-anchor="middle">-83%</text>
<text transform="translate(541.30,684.50) scale(0.87,1)" font-size="11.2" fill="#222" text-anchor="middle">-83%</text>
<line x1="468.90" y1="861.50" x2="472.90" y2="861.50" stroke="#333" stroke-width="0.9"/>
<text x="467.60" y="866.70" font-size="10.1" text-anchor="end" fill="#222">0</text>
<line x1="468.90" y1="845.50" x2="472.90" y2="845.50" stroke="#333" stroke-width="0.9"/>
<text x="467.60" y="849.80" font-size="10.1" text-anchor="end" fill="#222">20</text>
<line x1="468.90" y1="828.50" x2="472.90" y2="828.50" stroke="#333" stroke-width="0.9"/>
<text x="467.60" y="832.90" font-size="10.1" text-anchor="end" fill="#222">40</text>
<line x1="468.90" y1="811.50" x2="472.90" y2="811.50" stroke="#333" stroke-width="0.9"/>
<text x="467.60" y="816.00" font-size="10.1" text-anchor="end" fill="#222">60</text>
<line x1="468.90" y1="794.50" x2="472.90" y2="794.50" stroke="#333" stroke-width="0.9"/>
<text x="467.60" y="799.10" font-size="10.1" text-anchor="end" fill="#222">80</text>
<line x1="468.90" y1="777.50" x2="472.90" y2="777.50" stroke="#333" stroke-width="0.9"/>
<text x="467.60" y="782.20" font-size="10.1" text-anchor="end" fill="#222">100</text>
<line x1="472.50" y1="776.90" x2="472.50" y2="861.90" stroke="#333" stroke-width="1"/>
<line x1="472.90" y1="861.50" x2="681.80" y2="861.50" stroke="#333" stroke-width="1"/>
<rect x="480.60" y="836.55" width="7.30" height="25.35" fill="#7c7c7c" stroke="none" stroke-width="1"/>
<line x1="484.25" y1="836.55" x2="484.25" y2="833.42" stroke="#222" stroke-width="0.7"/>
<line x1="482.40" y1="833.42" x2="486.10" y2="833.42" stroke="#222" stroke-width="0.7"/>
<circle cx="483.18" cy="830.10" r="0.55" fill="#222"/>
<circle cx="485.37" cy="831.46" r="0.55" fill="#222"/>
<circle cx="482.69" cy="834.32" r="0.55" fill="#222"/>
<circle cx="482.73" cy="830.69" r="0.55" fill="#222"/>
<circle cx="483.74" cy="814.10" r="0.55" fill="#222"/>
<circle cx="485.21" cy="845.74" r="0.55" fill="#222"/>
<circle cx="483.73" cy="847.11" r="0.55" fill="#222"/>
<circle cx="484.79" cy="834.36" r="0.55" fill="#222"/>
<circle cx="484.32" cy="835.96" r="0.55" fill="#222"/>
<circle cx="483.04" cy="829.75" r="0.55" fill="#222"/>
<circle cx="482.34" cy="856.31" r="0.55" fill="#222"/>
<circle cx="482.66" cy="828.62" r="0.55" fill="#222"/>
<circle cx="483.25" cy="835.60" r="0.55" fill="#222"/>
<circle cx="485.66" cy="839.46" r="0.55" fill="#222"/>
<circle cx="482.48" cy="841.49" r="0.55" fill="#222"/>
<circle cx="483.35" cy="840.40" r="0.55" fill="#222"/>
<circle cx="486.15" cy="841.49" r="0.55" fill="#222"/>
<circle cx="485.40" cy="821.41" r="0.55" fill="#222"/>
<line x1="491.55" y1="861.50" x2="499.45" y2="861.50" stroke="#555" stroke-width="1.0"/>
<line x1="502.80" y1="861.50" x2="510.70" y2="861.50" stroke="#555" stroke-width="1.0"/>
<line x1="514.05" y1="861.50" x2="521.95" y2="861.50" stroke="#555" stroke-width="1.0"/>
<rect x="530.70" y="836.55" width="7.30" height="25.35" fill="#7c7c7c" stroke="none" stroke-width="1"/>
<line x1="534.35" y1="836.55" x2="534.35" y2="833.42" stroke="#222" stroke-width="0.7"/>
<line x1="532.50" y1="833.42" x2="536.20" y2="833.42" stroke="#222" stroke-width="0.7"/>
<circle cx="535.86" cy="819.83" r="0.55" fill="#222"/>
<circle cx="536.03" cy="848.42" r="0.55" fill="#222"/>
<circle cx="533.62" cy="832.68" r="0.55" fill="#222"/>
<circle cx="533.34" cy="837.35" r="0.55" fill="#222"/>
<circle cx="533.74" cy="844.74" r="0.55" fill="#222"/>
<circle cx="535.70" cy="842.83" r="0.55" fill="#222"/>
<circle cx="533.46" cy="841.44" r="0.55" fill="#222"/>
<circle cx="534.20" cy="832.95" r="0.55" fill="#222"/>
<circle cx="534.11" cy="845.39" r="0.55" fill="#222"/>
<circle cx="533.10" cy="843.91" r="0.55" fill="#222"/>
<circle cx="533.03" cy="842.98" r="0.55" fill="#222"/>
<circle cx="534.53" cy="832.01" r="0.55" fill="#222"/>
<circle cx="534.99" cy="831.28" r="0.55" fill="#222"/>
<circle cx="532.90" cy="823.59" r="0.55" fill="#222"/>
<circle cx="534.14" cy="842.23" r="0.55" fill="#222"/>
<circle cx="534.78" cy="842.26" r="0.55" fill="#222"/>
<circle cx="535.28" cy="835.21" r="0.55" fill="#222"/>
<circle cx="533.19" cy="854.90" r="0.55" fill="#222"/>
<line x1="541.65" y1="861.50" x2="549.55" y2="861.50" stroke="#555" stroke-width="1.0"/>
<line x1="552.90" y1="861.50" x2="560.80" y2="861.50" stroke="#555" stroke-width="1.0"/>
<line x1="564.15" y1="861.50" x2="572.05" y2="861.50" stroke="#555" stroke-width="1.0"/>
<line x1="583.90" y1="861.50" x2="591.80" y2="861.50" stroke="#555" stroke-width="1.0"/>
<line x1="595.15" y1="861.50" x2="603.05" y2="861.50" stroke="#555" stroke-width="1.0"/>
<line x1="606.40" y1="861.50" x2="614.30" y2="861.50" stroke="#555" stroke-width="1.0"/>
<line x1="617.65" y1="861.50" x2="625.55" y2="861.50" stroke="#555" stroke-width="1.0"/>
<rect x="637.40" y="802.75" width="7.30" height="59.15" fill="#7c7c7c" stroke="none" stroke-width="1"/>
<line x1="641.05" y1="802.75" x2="641.05" y2="798.27" stroke="#222" stroke-width="0.7"/>
<line x1="639.20" y1="798.27" x2="642.90" y2="798.27" stroke="#222" stroke-width="0.7"/>
<circle cx="639.13" cy="820.82" r="0.55" fill="#222"/>
<circle cx="641.26" cy="807.62" r="0.55" fill="#222"/>
<circle cx="640.34" cy="843.62" r="0.55" fill="#222"/>
<circle cx="642.38" cy="795.11" r="0.55" fill="#222"/>
<circle cx="641.92" cy="812.17" r="0.55" fill="#222"/>
<circle cx="640.19" cy="803.59" r="0.55" fill="#222"/>
<circle cx="639.09" cy="810.54" r="0.55" fill="#222"/>
<circle cx="642.73" cy="804.42" r="0.55" fill="#222"/>
<circle cx="639.70" cy="791.39" r="0.55" fill="#222"/>
<circle cx="639.43" cy="799.68" r="0.55" fill="#222"/>
<circle cx="641.65" cy="778.25" r="0.55" fill="#222"/>
<circle cx="640.63" cy="861.90" r="0.55" fill="#222"/>
<circle cx="639.59" cy="783.95" r="0.55" fill="#222"/>
<circle cx="641.81" cy="818.61" r="0.55" fill="#222"/>
<circle cx="640.33" cy="813.14" r="0.55" fill="#222"/>
<circle cx="640.59" cy="790.03" r="0.55" fill="#222"/>
<circle cx="642.52" cy="791.01" r="0.55" fill="#222"/>
<circle cx="641.33" cy="778.25" r="0.55" fill="#222"/>
<rect x="648.65" y="777.40" width="7.30" height="84.50" fill="#fb3fb3" stroke="none" stroke-width="1"/>
<line x1="648.65" y1="777.50" x2="655.95" y2="777.50" stroke="#222" stroke-width="1.1"/>
<rect x="659.90" y="777.40" width="7.30" height="84.50" fill="#dadade" stroke="none" stroke-width="1"/>
<line x1="659.90" y1="777.50" x2="667.20" y2="777.50" stroke="#222" stroke-width="1.1"/>
<rect x="671.15" y="777.40" width="7.30" height="84.50" fill="#3a83aa" stroke="none" stroke-width="1"/>
<line x1="671.15" y1="777.50" x2="678.45" y2="777.50" stroke="#222" stroke-width="1.1"/>
<text x="489.20" y="774.40" font-size="10.2" text-anchor="middle" fill="#222">****</text>
<line x1="483.35" y1="772.50" x2="495.05" y2="772.50" stroke="#555" stroke-width="1"/>
<text x="539.30" y="774.40" font-size="10.2" text-anchor="middle" fill="#222">****</text>
<line x1="533.45" y1="772.50" x2="545.15" y2="772.50" stroke="#555" stroke-width="1"/>
<text x="593.30" y="770.80" font-size="7.2" text-anchor="middle" fill="#222">ns</text>
<line x1="587.20" y1="772.50" x2="599.60" y2="772.50" stroke="#555" stroke-width="1"/>
<text x="646.00" y="774.40" font-size="10.2" text-anchor="middle" fill="#222">****</text>
<line x1="640.15" y1="772.50" x2="651.85" y2="772.50" stroke="#555" stroke-width="1"/>
<text transform="translate(491.20,785.40) scale(0.87,1)" font-size="11.2" fill="#222" text-anchor="middle">-100%</text>
<text transform="translate(541.30,785.40) scale(0.87,1)" font-size="11.2" fill="#222" text-anchor="middle">-100%</text>
<text transform="translate(444.01,762.00) rotate(-90)" font-size="12.6" font-weight="bold" text-anchor="middle" fill="#000">% of total stereocilia</text>
<rect x="386.80" y="699.20" width="35.70" height="20.60" fill="#d7d7d7" stroke="none" stroke-width="1"/>
<text x="404.65" y="714.90" font-size="14.3" text-anchor="middle" fill="#111">P11</text>
<rect x="386.80" y="798.50" width="35.70" height="20.60" fill="#d7d7d7" stroke="none" stroke-width="1"/>
<text x="404.65" y="814.20" font-size="14.3" text-anchor="middle" fill="#111">P21</text>
<rect x="469.90" y="892.50" width="24.60" height="5.40" fill="#7c7c7c" stroke="none" stroke-width="1"/>
<rect x="469.90" y="912.20" width="24.60" height="5.40" fill="#fb3fb3" stroke="none" stroke-width="1"/>
<rect x="469.90" y="931.60" width="24.60" height="5.40" fill="#dadade" stroke="none" stroke-width="1"/>
<rect x="469.90" y="950.40" width="24.60" height="5.40" fill="#3a83aa" stroke="none" stroke-width="1"/>
<text x="499.60" y="900.20" font-size="14.6" font-style="italic" fill="#111" textLength="30.5" lengthAdjust="spacingAndGlyphs">Tmc1</text>
<text x="532.60" y="890.60" font-size="9.8" font-style="italic" fill="#111" textLength="29.5" lengthAdjust="spacingAndGlyphs">HA/HA</text>
<text x="563.60" y="900.20" font-size="14.6" font-style="italic" fill="#111" textLength="50.0" lengthAdjust="spacingAndGlyphs">; Loxhd1</text>
<text x="614.20" y="890.60" font-size="9.8" font-style="italic" fill="#111" textLength="13.8" lengthAdjust="spacingAndGlyphs">+/+</text>
<text x="499.60" y="919.90" font-size="14.6" font-style="italic" fill="#111" textLength="30.5" lengthAdjust="spacingAndGlyphs">Tmc1</text>
<text x="532.60" y="910.30" font-size="9.8" font-style="italic" fill="#111" textLength="29.5" lengthAdjust="spacingAndGlyphs">HA/HA</text>
<text x="563.60" y="919.90" font-size="14.6" font-style="italic" fill="#111" textLength="50.0" lengthAdjust="spacingAndGlyphs">; Loxhd1</text>
<text x="613.50" y="910.30" font-size="9.8" font-style="italic" fill="#111" textLength="48.0" lengthAdjust="spacingAndGlyphs">Delta/Delta</text>
<text x="499.60" y="939.30" font-size="14.6" font-style="italic" fill="#111" textLength="30.5" lengthAdjust="spacingAndGlyphs">Tmc1</text>
<text x="531.40" y="929.70" font-size="9.8" font-style="italic" fill="#111" textLength="15.0" lengthAdjust="spacingAndGlyphs">+/+</text>
<text x="563.60" y="939.30" font-size="14.6" font-style="italic" fill="#111" textLength="50.0" lengthAdjust="spacingAndGlyphs">; Loxhd1</text>
<text x="614.20" y="929.70" font-size="9.8" font-style="italic" fill="#111" textLength="13.8" lengthAdjust="spacingAndGlyphs">+/+</text>
<text x="499.60" y="958.10" font-size="14.6" font-style="italic" fill="#111" textLength="30.5" lengthAdjust="spacingAndGlyphs">Tmc1</text>
<text x="531.40" y="948.50" font-size="9.8" font-style="italic" fill="#111" textLength="15.0" lengthAdjust="spacingAndGlyphs">+/+</text>
<text x="563.60" y="958.10" font-size="14.6" font-style="italic" fill="#111" textLength="50.0" lengthAdjust="spacingAndGlyphs">; Loxhd1</text>
<text x="613.50" y="948.50" font-size="9.8" font-style="italic" fill="#111" textLength="48.0" lengthAdjust="spacingAndGlyphs">Delta/Delta</text></svg>
</body></html>
